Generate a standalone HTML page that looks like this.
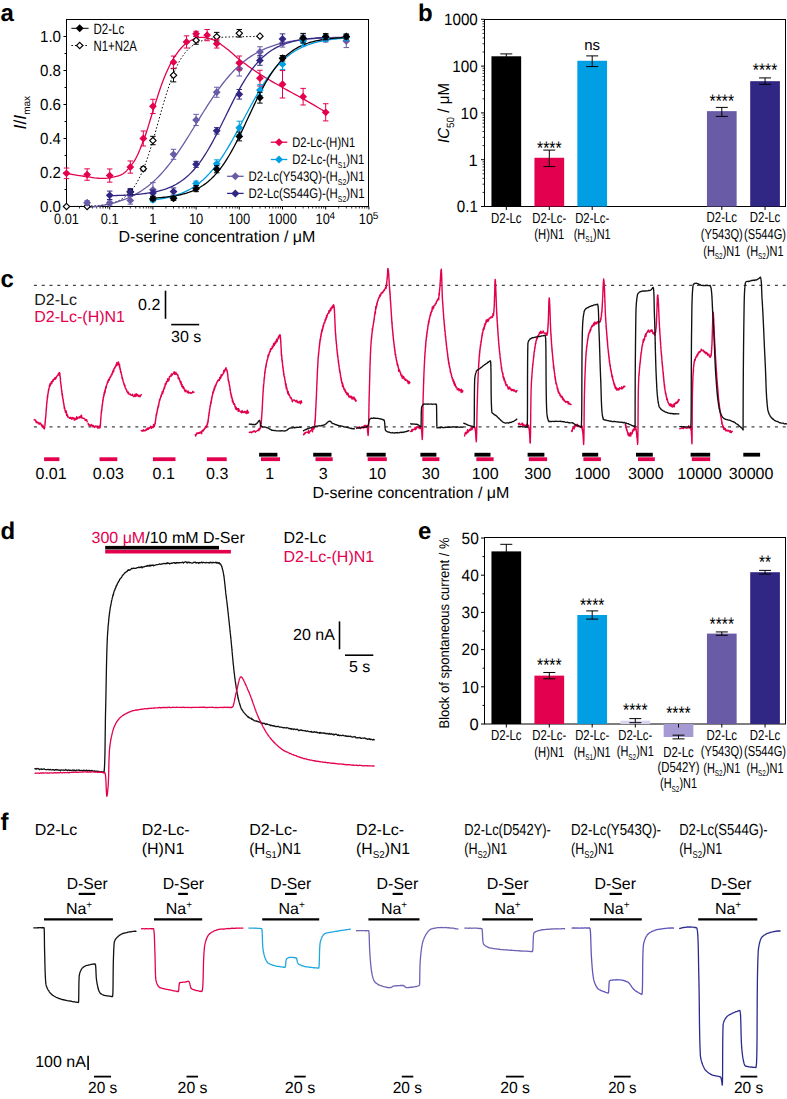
<!DOCTYPE html>
<html><head><meta charset="utf-8"><style>
html,body{margin:0;padding:0;background:#fff;}
svg{display:block;font-family:"Liberation Sans", sans-serif;text-rendering:geometricPrecision;}
</style></head><body>
<svg width="787" height="1099" viewBox="0 0 787 1099" font-family='"Liberation Sans", sans-serif'>
<text x="0.5" y="20.5" font-size="24" text-anchor="start" fill="#000" font-weight="bold">a</text>
<rect x="66.5" y="19.5" width="302" height="187" fill="none" stroke="#000" stroke-width="1"/>
<line x1="63.5" y1="206.5" x2="66.5" y2="206.5" stroke="#000" stroke-width="1"/>
<line x1="64.5" y1="189.5" x2="66.5" y2="189.5" stroke="#000" stroke-width="1"/>
<line x1="63.5" y1="172.5" x2="66.5" y2="172.5" stroke="#000" stroke-width="1"/>
<line x1="64.5" y1="155.5" x2="66.5" y2="155.5" stroke="#000" stroke-width="1"/>
<line x1="63.5" y1="138.5" x2="66.5" y2="138.5" stroke="#000" stroke-width="1"/>
<line x1="64.5" y1="121.5" x2="66.5" y2="121.5" stroke="#000" stroke-width="1"/>
<line x1="63.5" y1="104.5" x2="66.5" y2="104.5" stroke="#000" stroke-width="1"/>
<line x1="64.5" y1="87.5" x2="66.5" y2="87.5" stroke="#000" stroke-width="1"/>
<line x1="63.5" y1="70.5" x2="66.5" y2="70.5" stroke="#000" stroke-width="1"/>
<line x1="64.5" y1="53.5" x2="66.5" y2="53.5" stroke="#000" stroke-width="1"/>
<line x1="63.5" y1="36.5" x2="66.5" y2="36.5" stroke="#000" stroke-width="1"/>
<text x="61" y="212.3" font-size="16" text-anchor="end" fill="#000" textLength="21" lengthAdjust="spacingAndGlyphs">0.0</text>
<text x="61" y="178.3" font-size="16" text-anchor="end" fill="#000" textLength="21" lengthAdjust="spacingAndGlyphs">0.2</text>
<text x="61" y="144.3" font-size="16" text-anchor="end" fill="#000" textLength="21" lengthAdjust="spacingAndGlyphs">0.4</text>
<text x="61" y="110.3" font-size="16" text-anchor="end" fill="#000" textLength="21" lengthAdjust="spacingAndGlyphs">0.6</text>
<text x="61" y="76.3" font-size="16" text-anchor="end" fill="#000" textLength="21" lengthAdjust="spacingAndGlyphs">0.8</text>
<text x="61" y="42.3" font-size="16" text-anchor="end" fill="#000" textLength="21" lengthAdjust="spacingAndGlyphs">1.0</text>
<line x1="66.5" y1="206.5" x2="66.5" y2="209.5" stroke="#000" stroke-width="1"/>
<line x1="79.5" y1="206.5" x2="79.5" y2="208.5" stroke="#000" stroke-width="0.8"/>
<line x1="87.11" y1="206.5" x2="87.11" y2="208.5" stroke="#000" stroke-width="0.8"/>
<line x1="92.51" y1="206.5" x2="92.51" y2="208.5" stroke="#000" stroke-width="0.8"/>
<line x1="96.7" y1="206.5" x2="96.7" y2="208.5" stroke="#000" stroke-width="0.8"/>
<line x1="100.12" y1="206.5" x2="100.12" y2="208.5" stroke="#000" stroke-width="0.8"/>
<line x1="103.01" y1="206.5" x2="103.01" y2="208.5" stroke="#000" stroke-width="0.8"/>
<line x1="105.51" y1="206.5" x2="105.51" y2="208.5" stroke="#000" stroke-width="0.8"/>
<line x1="107.72" y1="206.5" x2="107.72" y2="208.5" stroke="#000" stroke-width="0.8"/>
<line x1="109.7" y1="206.5" x2="109.7" y2="209.5" stroke="#000" stroke-width="1"/>
<line x1="122.7" y1="206.5" x2="122.7" y2="208.5" stroke="#000" stroke-width="0.8"/>
<line x1="130.31" y1="206.5" x2="130.31" y2="208.5" stroke="#000" stroke-width="0.8"/>
<line x1="135.71" y1="206.5" x2="135.71" y2="208.5" stroke="#000" stroke-width="0.8"/>
<line x1="139.9" y1="206.5" x2="139.9" y2="208.5" stroke="#000" stroke-width="0.8"/>
<line x1="143.32" y1="206.5" x2="143.32" y2="208.5" stroke="#000" stroke-width="0.8"/>
<line x1="146.21" y1="206.5" x2="146.21" y2="208.5" stroke="#000" stroke-width="0.8"/>
<line x1="148.71" y1="206.5" x2="148.71" y2="208.5" stroke="#000" stroke-width="0.8"/>
<line x1="150.92" y1="206.5" x2="150.92" y2="208.5" stroke="#000" stroke-width="0.8"/>
<line x1="152.9" y1="206.5" x2="152.9" y2="209.5" stroke="#000" stroke-width="1"/>
<line x1="165.9" y1="206.5" x2="165.9" y2="208.5" stroke="#000" stroke-width="0.8"/>
<line x1="173.51" y1="206.5" x2="173.51" y2="208.5" stroke="#000" stroke-width="0.8"/>
<line x1="178.91" y1="206.5" x2="178.91" y2="208.5" stroke="#000" stroke-width="0.8"/>
<line x1="183.1" y1="206.5" x2="183.1" y2="208.5" stroke="#000" stroke-width="0.8"/>
<line x1="186.52" y1="206.5" x2="186.52" y2="208.5" stroke="#000" stroke-width="0.8"/>
<line x1="189.41" y1="206.5" x2="189.41" y2="208.5" stroke="#000" stroke-width="0.8"/>
<line x1="191.91" y1="206.5" x2="191.91" y2="208.5" stroke="#000" stroke-width="0.8"/>
<line x1="194.12" y1="206.5" x2="194.12" y2="208.5" stroke="#000" stroke-width="0.8"/>
<line x1="196.1" y1="206.5" x2="196.1" y2="209.5" stroke="#000" stroke-width="1"/>
<line x1="209.1" y1="206.5" x2="209.1" y2="208.5" stroke="#000" stroke-width="0.8"/>
<line x1="216.71" y1="206.5" x2="216.71" y2="208.5" stroke="#000" stroke-width="0.8"/>
<line x1="222.11" y1="206.5" x2="222.11" y2="208.5" stroke="#000" stroke-width="0.8"/>
<line x1="226.3" y1="206.5" x2="226.3" y2="208.5" stroke="#000" stroke-width="0.8"/>
<line x1="229.72" y1="206.5" x2="229.72" y2="208.5" stroke="#000" stroke-width="0.8"/>
<line x1="232.61" y1="206.5" x2="232.61" y2="208.5" stroke="#000" stroke-width="0.8"/>
<line x1="235.11" y1="206.5" x2="235.11" y2="208.5" stroke="#000" stroke-width="0.8"/>
<line x1="237.32" y1="206.5" x2="237.32" y2="208.5" stroke="#000" stroke-width="0.8"/>
<line x1="239.3" y1="206.5" x2="239.3" y2="209.5" stroke="#000" stroke-width="1"/>
<line x1="252.3" y1="206.5" x2="252.3" y2="208.5" stroke="#000" stroke-width="0.8"/>
<line x1="259.91" y1="206.5" x2="259.91" y2="208.5" stroke="#000" stroke-width="0.8"/>
<line x1="265.31" y1="206.5" x2="265.31" y2="208.5" stroke="#000" stroke-width="0.8"/>
<line x1="269.5" y1="206.5" x2="269.5" y2="208.5" stroke="#000" stroke-width="0.8"/>
<line x1="272.92" y1="206.5" x2="272.92" y2="208.5" stroke="#000" stroke-width="0.8"/>
<line x1="275.81" y1="206.5" x2="275.81" y2="208.5" stroke="#000" stroke-width="0.8"/>
<line x1="278.31" y1="206.5" x2="278.31" y2="208.5" stroke="#000" stroke-width="0.8"/>
<line x1="280.52" y1="206.5" x2="280.52" y2="208.5" stroke="#000" stroke-width="0.8"/>
<line x1="282.5" y1="206.5" x2="282.5" y2="209.5" stroke="#000" stroke-width="1"/>
<line x1="295.5" y1="206.5" x2="295.5" y2="208.5" stroke="#000" stroke-width="0.8"/>
<line x1="303.11" y1="206.5" x2="303.11" y2="208.5" stroke="#000" stroke-width="0.8"/>
<line x1="308.51" y1="206.5" x2="308.51" y2="208.5" stroke="#000" stroke-width="0.8"/>
<line x1="312.7" y1="206.5" x2="312.7" y2="208.5" stroke="#000" stroke-width="0.8"/>
<line x1="316.12" y1="206.5" x2="316.12" y2="208.5" stroke="#000" stroke-width="0.8"/>
<line x1="319.01" y1="206.5" x2="319.01" y2="208.5" stroke="#000" stroke-width="0.8"/>
<line x1="321.51" y1="206.5" x2="321.51" y2="208.5" stroke="#000" stroke-width="0.8"/>
<line x1="323.72" y1="206.5" x2="323.72" y2="208.5" stroke="#000" stroke-width="0.8"/>
<line x1="325.7" y1="206.5" x2="325.7" y2="209.5" stroke="#000" stroke-width="1"/>
<line x1="338.7" y1="206.5" x2="338.7" y2="208.5" stroke="#000" stroke-width="0.8"/>
<line x1="346.31" y1="206.5" x2="346.31" y2="208.5" stroke="#000" stroke-width="0.8"/>
<line x1="351.71" y1="206.5" x2="351.71" y2="208.5" stroke="#000" stroke-width="0.8"/>
<line x1="355.9" y1="206.5" x2="355.9" y2="208.5" stroke="#000" stroke-width="0.8"/>
<line x1="359.32" y1="206.5" x2="359.32" y2="208.5" stroke="#000" stroke-width="0.8"/>
<line x1="362.21" y1="206.5" x2="362.21" y2="208.5" stroke="#000" stroke-width="0.8"/>
<line x1="364.71" y1="206.5" x2="364.71" y2="208.5" stroke="#000" stroke-width="0.8"/>
<line x1="366.92" y1="206.5" x2="366.92" y2="208.5" stroke="#000" stroke-width="0.8"/>
<line x1="368.9" y1="206.5" x2="368.9" y2="209.5" stroke="#000" stroke-width="1"/>
<text x="66.5" y="224.2" font-size="15" text-anchor="middle" fill="#000" textLength="24.9" lengthAdjust="spacingAndGlyphs">0.01</text>
<text x="109.7" y="224.2" font-size="15" text-anchor="middle" fill="#000" textLength="17.7" lengthAdjust="spacingAndGlyphs">0.1</text>
<text x="152.9" y="224.2" font-size="15" text-anchor="middle" fill="#000" textLength="7.2" lengthAdjust="spacingAndGlyphs">1</text>
<text x="196.1" y="224.2" font-size="15" text-anchor="middle" fill="#000" textLength="14.4" lengthAdjust="spacingAndGlyphs">10</text>
<text x="239.3" y="224.2" font-size="15" text-anchor="middle" fill="#000" textLength="21.6" lengthAdjust="spacingAndGlyphs">100</text>
<text x="282.5" y="224.2" font-size="15" text-anchor="middle" fill="#000" textLength="28.8" lengthAdjust="spacingAndGlyphs">1000</text>
<text x="322.7" y="224.2" font-size="15" text-anchor="middle" fill="#000" textLength="14.2" lengthAdjust="spacingAndGlyphs">10</text>
<text x="329.5" y="219" font-size="10" text-anchor="start" fill="#000">4</text>
<text x="365.9" y="224.2" font-size="15" text-anchor="middle" fill="#000" textLength="14.2" lengthAdjust="spacingAndGlyphs">10</text>
<text x="372.7" y="219" font-size="10" text-anchor="start" fill="#000">5</text>
<text x="217" y="242.4" font-size="16" text-anchor="middle" fill="#000">D-serine concentration / μM</text>
<g transform="translate(26.3,112.7) rotate(-90)"><text x="0" y="0" font-size="17.5" text-anchor="middle"><tspan font-style="italic">I</tspan>/<tspan font-style="italic">I</tspan><tspan font-size="10" dy="4">max</tspan></text></g>
<polyline points="66.5,206.49 68.11,206.48 69.72,206.47 71.34,206.46 72.95,206.44 74.56,206.42 76.17,206.4 77.78,206.37 79.39,206.35 81.01,206.31 82.62,206.28 84.23,206.23 85.84,206.19 87.45,206.13 89.06,206.07 90.68,205.99 92.29,205.91 93.9,205.82 95.51,205.71 97.12,205.58 98.74,205.44 100.35,205.28 101.96,205.09 103.57,204.88 105.18,204.64 106.79,204.36 108.41,204.05 110.02,203.69 111.63,203.28 113.24,202.81 114.85,202.28 116.46,201.68 118.08,200.99 119.69,200.21 121.3,199.33 122.91,198.33 124.52,197.21 126.14,195.93 127.75,194.5 129.36,192.89 130.97,191.09 132.58,189.08 134.19,186.84 135.81,184.35 137.42,181.61 139.03,178.58 140.64,175.27 142.25,171.67 143.86,167.76 145.48,163.56 147.09,159.07 148.7,154.3 150.31,149.28 151.92,144.03 153.54,138.59 155.15,133 156.76,127.3 158.37,121.56 159.98,115.81 161.59,110.12 163.21,104.52 164.82,99.08 166.43,93.83 168.04,88.81 169.65,84.03 171.26,79.54 172.88,75.34 174.49,71.43 176.1,67.82 177.71,64.51 179.32,61.49 180.94,58.74 182.55,56.25 184.16,54.01 185.77,51.99 187.38,50.19 188.99,48.58 190.61,47.15 192.22,45.87 193.83,44.74 195.44,43.74 197.05,42.86 198.66,42.08 200.28,41.4 201.89,40.79 203.5,40.26 205.11,39.79 206.72,39.38 208.34,39.02 209.95,38.71 211.56,38.43 213.17,38.19 214.78,37.98 216.39,37.79 218.01,37.63 219.62,37.49 221.23,37.36 222.84,37.25 224.45,37.16 226.06,37.08 227.68,37 229.29,36.94 230.9,36.88 232.51,36.84 234.12,36.79 235.74,36.76 237.35,36.72 238.96,36.7 240.57,36.67 242.18,36.65 243.79,36.63 245.41,36.61 247.02,36.6 248.63,36.59 250.24,36.58 251.85,36.57 253.46,36.56 255.08,36.55 256.69,36.54 258.3,36.54 259.91,36.53" fill="none" stroke="#000" stroke-width="1" stroke-linejoin="round" stroke-dasharray="1.5,2"/>
<polyline points="66.5,173.35 68.66,173.76 70.82,174.16 72.98,174.55 75.14,174.92 77.3,175.27 79.46,175.61 81.62,175.94 83.78,176.24 85.94,176.55 88.1,176.87 90.26,177.2 92.42,177.52 94.58,177.82 96.74,178.07 98.9,178.27 101.06,178.4 103.22,178.45 105.38,178.38 107.54,178.19 109.7,177.89 111.86,177.48 114.02,176.98 116.18,176.4 118.34,175.76 120.5,175.05 122.66,174.01 124.82,172.42 126.98,170.36 129.14,167.92 131.3,165.21 133.46,162.3 135.62,158.82 137.78,154.49 139.94,149.51 142.1,144.11 144.26,138.5 146.42,132.32 148.58,125.4 150.74,118.22 152.9,111.3 155.06,104.54 157.22,97.67 159.38,90.97 161.54,84.66 163.7,79 165.86,73.85 168.02,68.95 170.18,64.42 172.34,60.37 174.5,56.9 176.66,53.82 178.82,50.92 180.98,48.26 183.14,45.92 185.3,43.96 187.46,42.45 189.62,41.2 191.78,40.01 193.94,38.96 196.1,38.11 198.26,37.55 200.42,37.35 202.58,37.44 204.74,37.7 206.9,38.07 209.06,38.54 211.22,39.05 213.38,39.76 215.54,40.8 217.7,42.1 219.86,43.58 222.02,45.17 224.18,46.8 226.34,48.4 228.5,50.06 230.66,51.9 232.82,53.83 234.98,55.78 237.14,57.68 239.3,59.45 241.46,61.12 243.62,62.75 245.78,64.35 247.94,65.93 250.1,67.47 252.26,68.98 254.42,70.46 256.58,71.92 258.74,73.35 260.9,74.75 263.06,76.12 265.22,77.46 267.38,78.77 269.54,80.06 271.7,81.32 273.86,82.57 276.02,83.81 278.18,85.04 280.34,86.27 282.5,87.5 284.66,88.72 286.82,89.92 288.98,91.1 291.14,92.28 293.3,93.45 295.46,94.62 297.62,95.8 299.78,96.98 301.94,98.18 304.1,99.4 306.26,100.64 308.42,101.88 310.58,103.13 312.74,104.4 314.9,105.67 317.06,106.95 319.22,108.23 321.38,109.53 323.54,110.84 325.7,112.15" fill="none" stroke="#e3004f" stroke-width="1.3" stroke-linejoin="round"/>
<polyline points="87.11,207.57 89.27,207.34 91.43,207.08 93.59,206.81 95.75,206.51 97.91,206.19 100.07,205.84 102.23,205.47 104.39,205.07 106.55,204.63 108.71,204.16 110.87,203.66 113.03,203.11 115.19,202.52 117.35,201.89 119.51,201.21 121.67,200.48 123.83,199.69 125.99,198.85 128.15,197.94 130.31,196.97 132.47,195.93 134.63,194.82 136.79,193.63 138.95,192.36 141.11,191.01 143.27,189.56 145.43,188.03 147.59,186.4 149.75,184.67 151.91,182.84 154.07,180.91 156.23,178.87 158.39,176.72 160.55,174.46 162.71,172.1 164.87,169.62 167.03,167.03 169.19,164.34 171.35,161.54 173.51,158.64 175.67,155.64 177.83,152.56 179.99,149.38 182.15,146.13 184.31,142.81 186.47,139.43 188.63,136 190.79,132.53 192.95,129.03 195.11,125.51 197.27,121.98 199.43,118.46 201.59,114.96 203.75,111.48 205.91,108.04 208.07,104.65 210.23,101.32 212.39,98.06 214.55,94.87 216.71,91.77 218.87,88.76 221.03,85.84 223.19,83.02 225.35,80.31 227.51,77.71 229.67,75.21 231.83,72.83 233.99,70.55 236.15,68.38 238.31,66.32 240.47,64.37 242.63,62.53 244.79,60.78 246.95,59.14 249.11,57.59 251.27,56.13 253.43,54.76 255.59,53.48 257.75,52.27 259.91,51.15 262.07,50.1 264.23,49.11 266.39,48.2 268.55,47.34 270.71,46.55 272.87,45.8 275.03,45.12 277.19,44.48 279.35,43.88 281.51,43.33 283.67,42.82 285.83,42.34 287.99,41.9 290.15,41.49 292.31,41.11 294.47,40.76 296.63,40.44 298.79,40.14 300.95,39.86 303.11,39.6 305.27,39.36 307.43,39.14 309.59,38.94 311.75,38.75 313.91,38.58 316.07,38.42 318.23,38.27 320.39,38.13 322.55,38.01 324.71,37.89 326.87,37.78 329.03,37.68 331.19,37.59 333.35,37.51 335.51,37.43 337.67,37.36 339.83,37.29 341.99,37.23 344.15,37.17 346.31,37.12" fill="none" stroke="#6a5ba6" stroke-width="1.3" stroke-linejoin="round"/>
<polyline points="109.7,195.71 111.5,195.67 113.3,195.62 115.1,195.57 116.9,195.52 118.7,195.46 120.5,195.4 122.3,195.32 124.1,195.25 125.9,195.16 127.7,195.07 129.5,194.97 131.3,194.85 133.1,194.73 134.9,194.6 136.7,194.45 138.5,194.29 140.3,194.12 142.1,193.92 143.9,193.71 145.7,193.49 147.5,193.23 149.3,192.96 151.1,192.66 152.9,192.33 154.7,191.98 156.5,191.59 158.3,191.16 160.1,190.7 161.9,190.2 163.7,189.65 165.5,189.05 167.3,188.4 169.1,187.7 170.9,186.93 172.7,186.1 174.5,185.2 176.3,184.22 178.1,183.17 179.9,182.03 181.7,180.8 183.5,179.48 185.3,178.05 187.1,176.52 188.9,174.89 190.7,173.13 192.5,171.26 194.3,169.27 196.1,167.15 197.9,164.9 199.7,162.53 201.5,160.02 203.3,157.39 205.1,154.62 206.9,151.74 208.7,148.73 210.5,145.61 212.3,142.38 214.1,139.05 215.9,135.63 217.7,132.14 219.5,128.58 221.3,124.98 223.1,121.33 224.9,117.67 226.7,114 228.5,110.34 230.3,106.7 232.1,103.1 233.9,99.56 235.7,96.09 237.5,92.7 239.3,89.39 241.1,86.19 242.9,83.1 244.7,80.12 246.5,77.27 248.3,74.54 250.1,71.94 251.9,69.47 253.7,67.12 255.5,64.91 257.3,62.83 259.1,60.87 260.9,59.03 262.7,57.3 264.5,55.7 266.3,54.2 268.1,52.8 269.9,51.5 271.7,50.3 273.5,49.18 275.3,48.15 277.1,47.19 278.9,46.31 280.7,45.5 282.5,44.75 284.3,44.06 286.1,43.42 287.9,42.84 289.7,42.3 291.5,41.81 293.3,41.35 295.1,40.94 296.9,40.56 298.7,40.21 300.5,39.89 302.3,39.6 304.1,39.33 305.9,39.09 307.7,38.86 309.5,38.66 311.3,38.47 313.1,38.3 314.9,38.14 316.7,38 318.5,37.87 320.3,37.75 322.1,37.64 323.9,37.54 325.7,37.45" fill="none" stroke="#302683" stroke-width="1.3" stroke-linejoin="round"/>
<polyline points="152.9,200.01 154.51,199.81 156.12,199.59 157.74,199.36 159.35,199.12 160.96,198.85 162.57,198.57 164.18,198.26 165.79,197.94 167.41,197.59 169.02,197.21 170.63,196.81 172.24,196.38 173.85,195.93 175.46,195.43 177.08,194.91 178.69,194.35 180.3,193.75 181.91,193.11 183.52,192.43 185.14,191.7 186.75,190.92 188.36,190.1 189.97,189.22 191.58,188.29 193.19,187.29 194.81,186.24 196.42,185.12 198.03,183.94 199.64,182.68 201.25,181.36 202.86,179.96 204.48,178.48 206.09,176.93 207.7,175.3 209.31,173.58 210.92,171.78 212.54,169.89 214.15,167.92 215.76,165.87 217.37,163.72 218.98,161.5 220.59,159.19 222.21,156.79 223.82,154.32 225.43,151.77 227.04,149.15 228.65,146.45 230.26,143.7 231.88,140.88 233.49,138.01 235.1,135.1 236.71,132.14 238.32,129.15 239.94,126.13 241.55,123.1 243.16,120.06 244.77,117.02 246.38,113.98 247.99,110.96 249.61,107.96 251.22,105 252.83,102.07 254.44,99.18 256.05,96.35 257.66,93.57 259.28,90.86 260.89,88.21 262.5,85.64 264.11,83.14 265.72,80.73 267.34,78.39 268.95,76.14 270.56,73.97 272.17,71.88 273.78,69.89 275.39,67.97 277.01,66.15 278.62,64.41 280.23,62.75 281.84,61.17 283.45,59.67 285.06,58.24 286.68,56.9 288.29,55.62 289.9,54.42 291.51,53.28 293.12,52.21 294.74,51.19 296.35,50.24 297.96,49.35 299.57,48.5 301.18,47.71 302.79,46.97 304.41,46.28 306.02,45.62 307.63,45.01 309.24,44.44 310.85,43.9 312.46,43.4 314.08,42.93 315.69,42.49 317.3,42.09 318.91,41.7 320.52,41.35 322.14,41.01 323.75,40.7 325.36,40.41 326.97,40.14 328.58,39.89 330.19,39.66 331.81,39.44 333.42,39.23 335.03,39.04 336.64,38.87 338.25,38.7 339.86,38.55 341.48,38.4 343.09,38.27 344.7,38.15 346.31,38.03" fill="none" stroke="#009fe3" stroke-width="1.3" stroke-linejoin="round"/>
<polyline points="152.9,198.09 154.51,198 156.12,197.9 157.74,197.79 159.35,197.67 160.96,197.54 162.57,197.39 164.18,197.24 165.79,197.07 167.41,196.89 169.02,196.69 170.63,196.48 172.24,196.24 173.85,195.99 175.46,195.71 177.08,195.41 178.69,195.09 180.3,194.74 181.91,194.36 183.52,193.94 185.14,193.5 186.75,193.01 188.36,192.49 189.97,191.93 191.58,191.32 193.19,190.66 194.81,189.94 196.42,189.18 198.03,188.35 199.64,187.46 201.25,186.5 202.86,185.47 204.48,184.37 206.09,183.18 207.7,181.92 209.31,180.56 210.92,179.11 212.54,177.57 214.15,175.93 215.76,174.18 217.37,172.33 218.98,170.37 220.59,168.3 222.21,166.12 223.82,163.82 225.43,161.42 227.04,158.9 228.65,156.26 230.26,153.52 231.88,150.68 233.49,147.74 235.1,144.7 236.71,141.58 238.32,138.38 239.94,135.11 241.55,131.78 243.16,128.4 244.77,124.98 246.38,121.54 247.99,118.09 249.61,114.63 251.22,111.19 252.83,107.77 254.44,104.38 256.05,101.04 257.66,97.76 259.28,94.55 260.89,91.42 262.5,88.37 264.11,85.41 265.72,82.55 267.34,79.8 268.95,77.15 270.56,74.61 272.17,72.19 273.78,69.87 275.39,67.67 277.01,65.59 278.62,63.61 280.23,61.74 281.84,59.98 283.45,58.33 285.06,56.77 286.68,55.31 288.29,53.94 289.9,52.66 291.51,51.46 293.12,50.35 294.74,49.31 296.35,48.34 297.96,47.44 299.57,46.6 301.18,45.83 302.79,45.11 304.41,44.44 306.02,43.82 307.63,43.25 309.24,42.72 310.85,42.23 312.46,41.78 314.08,41.36 315.69,40.98 317.3,40.62 318.91,40.29 320.52,39.99 322.14,39.71 323.75,39.45 325.36,39.22 326.97,39 328.58,38.8 330.19,38.61 331.81,38.44 333.42,38.29 335.03,38.14 336.64,38.01 338.25,37.89 339.86,37.78 341.48,37.67 343.09,37.58 344.7,37.49 346.31,37.41" fill="none" stroke="#000" stroke-width="1.3" stroke-linejoin="round"/>
<path d="M66.5,203.3 L69.7,206.5 L66.5,209.7 L63.3,206.5 Z" fill="#fff" stroke="#000" stroke-width="1.15"/>
<path d="M87.11,203.3 L90.31,206.5 L87.11,209.7 L83.91,206.5 Z" fill="#fff" stroke="#000" stroke-width="1.15"/>
<line x1="130.31" y1="189.71" x2="130.31" y2="193.71" stroke="#000" stroke-width="1"/>
<line x1="127.56" y1="189.71" x2="133.06" y2="189.71" stroke="#000" stroke-width="1"/>
<line x1="127.56" y1="193.71" x2="133.06" y2="193.71" stroke="#000" stroke-width="1"/>
<path d="M130.31,188.51 L133.51,191.71 L130.31,194.91 L127.11,191.71 Z" fill="#fff" stroke="#000" stroke-width="1.15"/>
<line x1="143.32" y1="166.76" x2="143.32" y2="170.76" stroke="#000" stroke-width="1"/>
<line x1="140.57" y1="166.76" x2="146.07" y2="166.76" stroke="#000" stroke-width="1"/>
<line x1="140.57" y1="170.76" x2="146.07" y2="170.76" stroke="#000" stroke-width="1"/>
<path d="M143.32,165.56 L146.52,168.76 L143.32,171.96 L140.12,168.76 Z" fill="#fff" stroke="#000" stroke-width="1.15"/>
<line x1="152.9" y1="136.34" x2="152.9" y2="144.74" stroke="#000" stroke-width="1"/>
<line x1="150.15" y1="136.34" x2="155.65" y2="136.34" stroke="#000" stroke-width="1"/>
<line x1="150.15" y1="144.74" x2="155.65" y2="144.74" stroke="#000" stroke-width="1"/>
<path d="M152.9,137.34 L156.1,140.54 L152.9,143.74 L149.7,140.54 Z" fill="#fff" stroke="#000" stroke-width="1.15"/>
<line x1="173.51" y1="68.66" x2="173.51" y2="81.86" stroke="#000" stroke-width="1"/>
<line x1="170.76" y1="68.66" x2="176.26" y2="68.66" stroke="#000" stroke-width="1"/>
<line x1="170.76" y1="81.86" x2="176.26" y2="81.86" stroke="#000" stroke-width="1"/>
<path d="M173.51,72.06 L176.71,75.26 L173.51,78.46 L170.31,75.26 Z" fill="#fff" stroke="#000" stroke-width="1.15"/>
<line x1="196.1" y1="36.24" x2="196.1" y2="44.24" stroke="#000" stroke-width="1"/>
<line x1="193.35" y1="36.24" x2="198.85" y2="36.24" stroke="#000" stroke-width="1"/>
<line x1="193.35" y1="44.24" x2="198.85" y2="44.24" stroke="#000" stroke-width="1"/>
<path d="M196.1,37.04 L199.3,40.24 L196.1,43.44 L192.9,40.24 Z" fill="#fff" stroke="#000" stroke-width="1.15"/>
<line x1="216.71" y1="32.37" x2="216.71" y2="40.97" stroke="#000" stroke-width="1"/>
<line x1="213.96" y1="32.37" x2="219.46" y2="32.37" stroke="#000" stroke-width="1"/>
<line x1="213.96" y1="40.97" x2="219.46" y2="40.97" stroke="#000" stroke-width="1"/>
<path d="M216.71,33.47 L219.91,36.67 L216.71,39.87 L213.51,36.67 Z" fill="#fff" stroke="#000" stroke-width="1.15"/>
<line x1="239.3" y1="29.47" x2="239.3" y2="37.07" stroke="#000" stroke-width="1"/>
<line x1="236.55" y1="29.47" x2="242.05" y2="29.47" stroke="#000" stroke-width="1"/>
<line x1="236.55" y1="37.07" x2="242.05" y2="37.07" stroke="#000" stroke-width="1"/>
<path d="M239.3,30.07 L242.5,33.27 L239.3,36.47 L236.1,33.27 Z" fill="#fff" stroke="#000" stroke-width="1.15"/>
<path d="M259.91,32.96 L263.11,36.16 L259.91,39.36 L256.71,36.16 Z" fill="#fff" stroke="#000" stroke-width="1.15"/>
<line x1="87.11" y1="200.76" x2="87.11" y2="204.76" stroke="#6a5ba6" stroke-width="1"/>
<line x1="84.36" y1="200.76" x2="89.86" y2="200.76" stroke="#6a5ba6" stroke-width="1"/>
<line x1="84.36" y1="204.76" x2="89.86" y2="204.76" stroke="#6a5ba6" stroke-width="1"/>
<path d="M87.11,198.86 L91.01,202.76 L87.11,206.66 L83.21,202.76 Z" fill="#6a5ba6"/>
<line x1="109.7" y1="201.1" x2="109.7" y2="205.1" stroke="#6a5ba6" stroke-width="1"/>
<line x1="106.95" y1="201.1" x2="112.45" y2="201.1" stroke="#6a5ba6" stroke-width="1"/>
<line x1="106.95" y1="205.1" x2="112.45" y2="205.1" stroke="#6a5ba6" stroke-width="1"/>
<path d="M109.7,199.2 L113.6,203.1 L109.7,207 L105.8,203.1 Z" fill="#6a5ba6"/>
<line x1="130.31" y1="196.58" x2="130.31" y2="204.18" stroke="#6a5ba6" stroke-width="1"/>
<line x1="127.56" y1="196.58" x2="133.06" y2="196.58" stroke="#6a5ba6" stroke-width="1"/>
<line x1="127.56" y1="204.18" x2="133.06" y2="204.18" stroke="#6a5ba6" stroke-width="1"/>
<path d="M130.31,196.48 L134.21,200.38 L130.31,204.28 L126.41,200.38 Z" fill="#6a5ba6"/>
<line x1="152.9" y1="182.64" x2="152.9" y2="197.04" stroke="#6a5ba6" stroke-width="1"/>
<line x1="150.15" y1="182.64" x2="155.65" y2="182.64" stroke="#6a5ba6" stroke-width="1"/>
<line x1="150.15" y1="197.04" x2="155.65" y2="197.04" stroke="#6a5ba6" stroke-width="1"/>
<path d="M152.9,185.94 L156.8,189.84 L152.9,193.74 L149,189.84 Z" fill="#6a5ba6"/>
<line x1="173.51" y1="149.31" x2="173.51" y2="159.31" stroke="#6a5ba6" stroke-width="1"/>
<line x1="170.76" y1="149.31" x2="176.26" y2="149.31" stroke="#6a5ba6" stroke-width="1"/>
<line x1="170.76" y1="159.31" x2="176.26" y2="159.31" stroke="#6a5ba6" stroke-width="1"/>
<path d="M173.51,150.41 L177.41,154.31 L173.51,158.21 L169.61,154.31 Z" fill="#6a5ba6"/>
<line x1="196.1" y1="114.37" x2="196.1" y2="125.57" stroke="#6a5ba6" stroke-width="1"/>
<line x1="193.35" y1="114.37" x2="198.85" y2="114.37" stroke="#6a5ba6" stroke-width="1"/>
<line x1="193.35" y1="125.57" x2="198.85" y2="125.57" stroke="#6a5ba6" stroke-width="1"/>
<path d="M196.1,116.07 L200,119.97 L196.1,123.87 L192.2,119.97 Z" fill="#6a5ba6"/>
<line x1="216.71" y1="87.26" x2="216.71" y2="97.26" stroke="#6a5ba6" stroke-width="1"/>
<line x1="213.96" y1="87.26" x2="219.46" y2="87.26" stroke="#6a5ba6" stroke-width="1"/>
<line x1="213.96" y1="97.26" x2="219.46" y2="97.26" stroke="#6a5ba6" stroke-width="1"/>
<path d="M216.71,88.36 L220.61,92.26 L216.71,96.16 L212.81,92.26 Z" fill="#6a5ba6"/>
<line x1="239.3" y1="61.6" x2="239.3" y2="76" stroke="#6a5ba6" stroke-width="1"/>
<line x1="236.55" y1="61.6" x2="242.05" y2="61.6" stroke="#6a5ba6" stroke-width="1"/>
<line x1="236.55" y1="76" x2="242.05" y2="76" stroke="#6a5ba6" stroke-width="1"/>
<path d="M239.3,64.9 L243.2,68.8 L239.3,72.7 L235.4,68.8 Z" fill="#6a5ba6"/>
<line x1="259.91" y1="46.77" x2="259.91" y2="57.17" stroke="#6a5ba6" stroke-width="1"/>
<line x1="257.16" y1="46.77" x2="262.66" y2="46.77" stroke="#6a5ba6" stroke-width="1"/>
<line x1="257.16" y1="57.17" x2="262.66" y2="57.17" stroke="#6a5ba6" stroke-width="1"/>
<path d="M259.91,48.07 L263.81,51.97 L259.91,55.87 L256.01,51.97 Z" fill="#6a5ba6"/>
<line x1="282.5" y1="39.5" x2="282.5" y2="47.1" stroke="#6a5ba6" stroke-width="1"/>
<line x1="279.75" y1="39.5" x2="285.25" y2="39.5" stroke="#6a5ba6" stroke-width="1"/>
<line x1="279.75" y1="47.1" x2="285.25" y2="47.1" stroke="#6a5ba6" stroke-width="1"/>
<path d="M282.5,39.4 L286.4,43.3 L282.5,47.2 L278.6,43.3 Z" fill="#6a5ba6"/>
<line x1="303.11" y1="36.9" x2="303.11" y2="42.9" stroke="#6a5ba6" stroke-width="1"/>
<line x1="300.36" y1="36.9" x2="305.86" y2="36.9" stroke="#6a5ba6" stroke-width="1"/>
<line x1="300.36" y1="42.9" x2="305.86" y2="42.9" stroke="#6a5ba6" stroke-width="1"/>
<path d="M303.11,36 L307.01,39.9 L303.11,43.8 L299.21,39.9 Z" fill="#6a5ba6"/>
<line x1="325.7" y1="36.05" x2="325.7" y2="42.05" stroke="#6a5ba6" stroke-width="1"/>
<line x1="322.95" y1="36.05" x2="328.45" y2="36.05" stroke="#6a5ba6" stroke-width="1"/>
<line x1="322.95" y1="42.05" x2="328.45" y2="42.05" stroke="#6a5ba6" stroke-width="1"/>
<path d="M325.7,35.15 L329.6,39.05 L325.7,42.95 L321.8,39.05 Z" fill="#6a5ba6"/>
<line x1="346.31" y1="34.59" x2="346.31" y2="47.59" stroke="#6a5ba6" stroke-width="1"/>
<line x1="343.56" y1="34.59" x2="349.06" y2="34.59" stroke="#6a5ba6" stroke-width="1"/>
<line x1="343.56" y1="47.59" x2="349.06" y2="47.59" stroke="#6a5ba6" stroke-width="1"/>
<path d="M346.31,37.19 L350.21,41.09 L346.31,44.99 L342.41,41.09 Z" fill="#6a5ba6"/>
<line x1="109.7" y1="191.08" x2="109.7" y2="199.48" stroke="#302683" stroke-width="1"/>
<line x1="106.95" y1="191.08" x2="112.45" y2="191.08" stroke="#302683" stroke-width="1"/>
<line x1="106.95" y1="199.48" x2="112.45" y2="199.48" stroke="#302683" stroke-width="1"/>
<path d="M109.7,191.38 L113.6,195.28 L109.7,199.18 L105.8,195.28 Z" fill="#302683"/>
<line x1="130.31" y1="188.55" x2="130.31" y2="195.55" stroke="#302683" stroke-width="1"/>
<line x1="127.56" y1="188.55" x2="133.06" y2="188.55" stroke="#302683" stroke-width="1"/>
<line x1="127.56" y1="195.55" x2="133.06" y2="195.55" stroke="#302683" stroke-width="1"/>
<path d="M130.31,188.15 L134.21,192.05 L130.31,195.95 L126.41,192.05 Z" fill="#302683"/>
<line x1="152.9" y1="190.07" x2="152.9" y2="196.07" stroke="#302683" stroke-width="1"/>
<line x1="150.15" y1="190.07" x2="155.65" y2="190.07" stroke="#302683" stroke-width="1"/>
<line x1="150.15" y1="196.07" x2="155.65" y2="196.07" stroke="#302683" stroke-width="1"/>
<path d="M152.9,189.17 L156.8,193.07 L152.9,196.97 L149,193.07 Z" fill="#302683"/>
<line x1="173.51" y1="187.94" x2="173.51" y2="195.14" stroke="#302683" stroke-width="1"/>
<line x1="170.76" y1="187.94" x2="176.26" y2="187.94" stroke="#302683" stroke-width="1"/>
<line x1="170.76" y1="195.14" x2="176.26" y2="195.14" stroke="#302683" stroke-width="1"/>
<path d="M173.51,187.64 L177.41,191.54 L173.51,195.44 L169.61,191.54 Z" fill="#302683"/>
<line x1="196.1" y1="161.34" x2="196.1" y2="167.34" stroke="#302683" stroke-width="1"/>
<line x1="193.35" y1="161.34" x2="198.85" y2="161.34" stroke="#302683" stroke-width="1"/>
<line x1="193.35" y1="167.34" x2="198.85" y2="167.34" stroke="#302683" stroke-width="1"/>
<path d="M196.1,160.44 L200,164.34 L196.1,168.24 L192.2,164.34 Z" fill="#302683"/>
<line x1="216.71" y1="127.65" x2="216.71" y2="134.05" stroke="#302683" stroke-width="1"/>
<line x1="213.96" y1="127.65" x2="219.46" y2="127.65" stroke="#302683" stroke-width="1"/>
<line x1="213.96" y1="134.05" x2="219.46" y2="134.05" stroke="#302683" stroke-width="1"/>
<path d="M216.71,126.95 L220.61,130.85 L216.71,134.75 L212.81,130.85 Z" fill="#302683"/>
<line x1="239.3" y1="89.5" x2="239.3" y2="99.1" stroke="#302683" stroke-width="1"/>
<line x1="236.55" y1="89.5" x2="242.05" y2="89.5" stroke="#302683" stroke-width="1"/>
<line x1="236.55" y1="99.1" x2="242.05" y2="99.1" stroke="#302683" stroke-width="1"/>
<path d="M239.3,90.4 L243.2,94.3 L239.3,98.2 L235.4,94.3 Z" fill="#302683"/>
<line x1="259.91" y1="55.67" x2="259.91" y2="65.27" stroke="#302683" stroke-width="1"/>
<line x1="257.16" y1="55.67" x2="262.66" y2="55.67" stroke="#302683" stroke-width="1"/>
<line x1="257.16" y1="65.27" x2="262.66" y2="65.27" stroke="#302683" stroke-width="1"/>
<path d="M259.91,56.57 L263.81,60.47 L259.91,64.37 L256.01,60.47 Z" fill="#302683"/>
<line x1="282.5" y1="33.88" x2="282.5" y2="43.88" stroke="#302683" stroke-width="1"/>
<line x1="279.75" y1="33.88" x2="285.25" y2="33.88" stroke="#302683" stroke-width="1"/>
<line x1="279.75" y1="43.88" x2="285.25" y2="43.88" stroke="#302683" stroke-width="1"/>
<path d="M282.5,34.98 L286.4,38.88 L282.5,42.78 L278.6,38.88 Z" fill="#302683"/>
<line x1="303.11" y1="35.2" x2="303.11" y2="41.2" stroke="#302683" stroke-width="1"/>
<line x1="300.36" y1="35.2" x2="305.86" y2="35.2" stroke="#302683" stroke-width="1"/>
<line x1="300.36" y1="41.2" x2="305.86" y2="41.2" stroke="#302683" stroke-width="1"/>
<path d="M303.11,34.3 L307.01,38.2 L303.11,42.1 L299.21,38.2 Z" fill="#302683"/>
<line x1="325.7" y1="34.18" x2="325.7" y2="40.18" stroke="#302683" stroke-width="1"/>
<line x1="322.95" y1="34.18" x2="328.45" y2="34.18" stroke="#302683" stroke-width="1"/>
<line x1="322.95" y1="40.18" x2="328.45" y2="40.18" stroke="#302683" stroke-width="1"/>
<path d="M325.7,33.28 L329.6,37.18 L325.7,41.08 L321.8,37.18 Z" fill="#302683"/>
<line x1="66.5" y1="168.05" x2="66.5" y2="178.65" stroke="#e3004f" stroke-width="1"/>
<line x1="63.75" y1="168.05" x2="69.25" y2="168.05" stroke="#e3004f" stroke-width="1"/>
<line x1="63.75" y1="178.65" x2="69.25" y2="178.65" stroke="#e3004f" stroke-width="1"/>
<path d="M66.5,169.45 L70.4,173.35 L66.5,177.25 L62.6,173.35 Z" fill="#e3004f"/>
<line x1="87.11" y1="168.84" x2="87.11" y2="180.24" stroke="#e3004f" stroke-width="1"/>
<line x1="84.36" y1="168.84" x2="89.86" y2="168.84" stroke="#e3004f" stroke-width="1"/>
<line x1="84.36" y1="180.24" x2="89.86" y2="180.24" stroke="#e3004f" stroke-width="1"/>
<path d="M87.11,170.64 L91.01,174.54 L87.11,178.44 L83.21,174.54 Z" fill="#e3004f"/>
<line x1="109.7" y1="168.96" x2="109.7" y2="182.16" stroke="#e3004f" stroke-width="1"/>
<line x1="106.95" y1="168.96" x2="112.45" y2="168.96" stroke="#e3004f" stroke-width="1"/>
<line x1="106.95" y1="182.16" x2="112.45" y2="182.16" stroke="#e3004f" stroke-width="1"/>
<path d="M109.7,171.66 L113.6,175.56 L109.7,179.46 L105.8,175.56 Z" fill="#e3004f"/>
<line x1="130.31" y1="160.96" x2="130.31" y2="173.16" stroke="#e3004f" stroke-width="1"/>
<line x1="127.56" y1="160.96" x2="133.06" y2="160.96" stroke="#e3004f" stroke-width="1"/>
<line x1="127.56" y1="173.16" x2="133.06" y2="173.16" stroke="#e3004f" stroke-width="1"/>
<path d="M130.31,163.16 L134.21,167.06 L130.31,170.96 L126.41,167.06 Z" fill="#e3004f"/>
<line x1="143.32" y1="131" x2="143.32" y2="146" stroke="#e3004f" stroke-width="1"/>
<line x1="140.57" y1="131" x2="146.07" y2="131" stroke="#e3004f" stroke-width="1"/>
<line x1="140.57" y1="146" x2="146.07" y2="146" stroke="#e3004f" stroke-width="1"/>
<path d="M143.32,134.6 L147.22,138.5 L143.32,142.4 L139.42,138.5 Z" fill="#e3004f"/>
<line x1="152.9" y1="99.27" x2="152.9" y2="113.47" stroke="#e3004f" stroke-width="1"/>
<line x1="150.15" y1="99.27" x2="155.65" y2="99.27" stroke="#e3004f" stroke-width="1"/>
<line x1="150.15" y1="113.47" x2="155.65" y2="113.47" stroke="#e3004f" stroke-width="1"/>
<path d="M152.9,102.47 L156.8,106.37 L152.9,110.27 L149,106.37 Z" fill="#e3004f"/>
<line x1="173.51" y1="56.07" x2="173.51" y2="68.27" stroke="#e3004f" stroke-width="1"/>
<line x1="170.76" y1="56.07" x2="176.26" y2="56.07" stroke="#e3004f" stroke-width="1"/>
<line x1="170.76" y1="68.27" x2="176.26" y2="68.27" stroke="#e3004f" stroke-width="1"/>
<path d="M173.51,58.27 L177.41,62.17 L173.51,66.07 L169.61,62.17 Z" fill="#e3004f"/>
<line x1="186.52" y1="35.84" x2="186.52" y2="48.04" stroke="#e3004f" stroke-width="1"/>
<line x1="183.77" y1="35.84" x2="189.27" y2="35.84" stroke="#e3004f" stroke-width="1"/>
<line x1="183.77" y1="48.04" x2="189.27" y2="48.04" stroke="#e3004f" stroke-width="1"/>
<path d="M186.52,38.04 L190.42,41.94 L186.52,45.84 L182.62,41.94 Z" fill="#e3004f"/>
<line x1="196.1" y1="31.28" x2="196.1" y2="36.28" stroke="#e3004f" stroke-width="1"/>
<line x1="193.35" y1="31.28" x2="198.85" y2="31.28" stroke="#e3004f" stroke-width="1"/>
<line x1="193.35" y1="36.28" x2="198.85" y2="36.28" stroke="#e3004f" stroke-width="1"/>
<path d="M196.1,29.88 L200,33.78 L196.1,37.68 L192.2,33.78 Z" fill="#e3004f"/>
<line x1="207.13" y1="29.54" x2="207.13" y2="40.74" stroke="#e3004f" stroke-width="1"/>
<line x1="204.38" y1="29.54" x2="209.88" y2="29.54" stroke="#e3004f" stroke-width="1"/>
<line x1="204.38" y1="40.74" x2="209.88" y2="40.74" stroke="#e3004f" stroke-width="1"/>
<path d="M207.13,31.24 L211.03,35.14 L207.13,39.04 L203.23,35.14 Z" fill="#e3004f"/>
<line x1="216.71" y1="39.24" x2="216.71" y2="48.04" stroke="#e3004f" stroke-width="1"/>
<line x1="213.96" y1="39.24" x2="219.46" y2="39.24" stroke="#e3004f" stroke-width="1"/>
<line x1="213.96" y1="48.04" x2="219.46" y2="48.04" stroke="#e3004f" stroke-width="1"/>
<path d="M216.71,39.74 L220.61,43.64 L216.71,47.54 L212.81,43.64 Z" fill="#e3004f"/>
<line x1="239.3" y1="56.02" x2="239.3" y2="70.02" stroke="#e3004f" stroke-width="1"/>
<line x1="236.55" y1="56.02" x2="242.05" y2="56.02" stroke="#e3004f" stroke-width="1"/>
<line x1="236.55" y1="70.02" x2="242.05" y2="70.02" stroke="#e3004f" stroke-width="1"/>
<path d="M239.3,59.12 L243.2,63.02 L239.3,66.92 L235.4,63.02 Z" fill="#e3004f"/>
<line x1="259.91" y1="70.25" x2="259.91" y2="86.05" stroke="#e3004f" stroke-width="1"/>
<line x1="257.16" y1="70.25" x2="262.66" y2="70.25" stroke="#e3004f" stroke-width="1"/>
<line x1="257.16" y1="86.05" x2="262.66" y2="86.05" stroke="#e3004f" stroke-width="1"/>
<path d="M259.91,74.25 L263.81,78.15 L259.91,82.05 L256.01,78.15 Z" fill="#e3004f"/>
<line x1="282.5" y1="70.57" x2="282.5" y2="97.97" stroke="#e3004f" stroke-width="1"/>
<line x1="279.75" y1="70.57" x2="285.25" y2="70.57" stroke="#e3004f" stroke-width="1"/>
<line x1="279.75" y1="97.97" x2="285.25" y2="97.97" stroke="#e3004f" stroke-width="1"/>
<path d="M282.5,80.37 L286.4,84.27 L282.5,88.17 L278.6,84.27 Z" fill="#e3004f"/>
<line x1="303.11" y1="88.38" x2="303.11" y2="104.98" stroke="#e3004f" stroke-width="1"/>
<line x1="300.36" y1="88.38" x2="305.86" y2="88.38" stroke="#e3004f" stroke-width="1"/>
<line x1="300.36" y1="104.98" x2="305.86" y2="104.98" stroke="#e3004f" stroke-width="1"/>
<path d="M303.11,92.78 L307.01,96.68 L303.11,100.58 L299.21,96.68 Z" fill="#e3004f"/>
<line x1="325.7" y1="103.72" x2="325.7" y2="120.92" stroke="#e3004f" stroke-width="1"/>
<line x1="322.95" y1="103.72" x2="328.45" y2="103.72" stroke="#e3004f" stroke-width="1"/>
<line x1="322.95" y1="120.92" x2="328.45" y2="120.92" stroke="#e3004f" stroke-width="1"/>
<path d="M325.7,108.42 L329.6,112.32 L325.7,116.22 L321.8,112.32 Z" fill="#e3004f"/>
<line x1="152.9" y1="197.87" x2="152.9" y2="201.87" stroke="#009fe3" stroke-width="1"/>
<line x1="150.15" y1="197.87" x2="155.65" y2="197.87" stroke="#009fe3" stroke-width="1"/>
<line x1="150.15" y1="201.87" x2="155.65" y2="201.87" stroke="#009fe3" stroke-width="1"/>
<path d="M152.9,195.97 L156.8,199.87 L152.9,203.77 L149,199.87 Z" fill="#009fe3"/>
<line x1="173.51" y1="196" x2="173.51" y2="200" stroke="#009fe3" stroke-width="1"/>
<line x1="170.76" y1="196" x2="176.26" y2="196" stroke="#009fe3" stroke-width="1"/>
<line x1="170.76" y1="200" x2="176.26" y2="200" stroke="#009fe3" stroke-width="1"/>
<path d="M173.51,194.1 L177.41,198 L173.51,201.9 L169.61,198 Z" fill="#009fe3"/>
<line x1="196.1" y1="181.05" x2="196.1" y2="186.05" stroke="#009fe3" stroke-width="1"/>
<line x1="193.35" y1="181.05" x2="198.85" y2="181.05" stroke="#009fe3" stroke-width="1"/>
<line x1="193.35" y1="186.05" x2="198.85" y2="186.05" stroke="#009fe3" stroke-width="1"/>
<path d="M196.1,179.65 L200,183.55 L196.1,187.45 L192.2,183.55 Z" fill="#009fe3"/>
<line x1="216.71" y1="159.83" x2="216.71" y2="167.83" stroke="#009fe3" stroke-width="1"/>
<line x1="213.96" y1="159.83" x2="219.46" y2="159.83" stroke="#009fe3" stroke-width="1"/>
<line x1="213.96" y1="167.83" x2="219.46" y2="167.83" stroke="#009fe3" stroke-width="1"/>
<path d="M216.71,159.93 L220.61,163.83 L216.71,167.73 L212.81,163.83 Z" fill="#009fe3"/>
<line x1="239.3" y1="121.19" x2="239.3" y2="134.39" stroke="#009fe3" stroke-width="1"/>
<line x1="236.55" y1="121.19" x2="242.05" y2="121.19" stroke="#009fe3" stroke-width="1"/>
<line x1="236.55" y1="134.39" x2="242.05" y2="134.39" stroke="#009fe3" stroke-width="1"/>
<path d="M239.3,123.89 L243.2,127.79 L239.3,131.69 L235.4,127.79 Z" fill="#009fe3"/>
<line x1="259.91" y1="84.65" x2="259.91" y2="95.45" stroke="#009fe3" stroke-width="1"/>
<line x1="257.16" y1="84.65" x2="262.66" y2="84.65" stroke="#009fe3" stroke-width="1"/>
<line x1="257.16" y1="95.45" x2="262.66" y2="95.45" stroke="#009fe3" stroke-width="1"/>
<path d="M259.91,86.15 L263.81,90.05 L259.91,93.95 L256.01,90.05 Z" fill="#009fe3"/>
<line x1="282.5" y1="59.01" x2="282.5" y2="69.41" stroke="#009fe3" stroke-width="1"/>
<line x1="279.75" y1="59.01" x2="285.25" y2="59.01" stroke="#009fe3" stroke-width="1"/>
<line x1="279.75" y1="69.41" x2="285.25" y2="69.41" stroke="#009fe3" stroke-width="1"/>
<path d="M282.5,60.31 L286.4,64.21 L282.5,68.11 L278.6,64.21 Z" fill="#009fe3"/>
<line x1="303.11" y1="36.59" x2="303.11" y2="45.59" stroke="#009fe3" stroke-width="1"/>
<line x1="300.36" y1="36.59" x2="305.86" y2="36.59" stroke="#009fe3" stroke-width="1"/>
<line x1="300.36" y1="45.59" x2="305.86" y2="45.59" stroke="#009fe3" stroke-width="1"/>
<path d="M303.11,37.19 L307.01,41.09 L303.11,44.99 L299.21,41.09 Z" fill="#009fe3"/>
<line x1="325.7" y1="35.2" x2="325.7" y2="41.2" stroke="#009fe3" stroke-width="1"/>
<line x1="322.95" y1="35.2" x2="328.45" y2="35.2" stroke="#009fe3" stroke-width="1"/>
<line x1="322.95" y1="41.2" x2="328.45" y2="41.2" stroke="#009fe3" stroke-width="1"/>
<path d="M325.7,34.3 L329.6,38.2 L325.7,42.1 L321.8,38.2 Z" fill="#009fe3"/>
<line x1="346.31" y1="34.35" x2="346.31" y2="40.35" stroke="#009fe3" stroke-width="1"/>
<line x1="343.56" y1="34.35" x2="349.06" y2="34.35" stroke="#009fe3" stroke-width="1"/>
<line x1="343.56" y1="40.35" x2="349.06" y2="40.35" stroke="#009fe3" stroke-width="1"/>
<path d="M346.31,33.45 L350.21,37.35 L346.31,41.25 L342.41,37.35 Z" fill="#009fe3"/>
<line x1="152.9" y1="196.68" x2="152.9" y2="200.68" stroke="#000" stroke-width="1"/>
<line x1="150.15" y1="196.68" x2="155.65" y2="196.68" stroke="#000" stroke-width="1"/>
<line x1="150.15" y1="200.68" x2="155.65" y2="200.68" stroke="#000" stroke-width="1"/>
<path d="M152.9,194.78 L156.8,198.68 L152.9,202.58 L149,198.68 Z" fill="#000"/>
<line x1="173.51" y1="196.34" x2="173.51" y2="200.34" stroke="#000" stroke-width="1"/>
<line x1="170.76" y1="196.34" x2="176.26" y2="196.34" stroke="#000" stroke-width="1"/>
<line x1="170.76" y1="200.34" x2="176.26" y2="200.34" stroke="#000" stroke-width="1"/>
<path d="M173.51,194.44 L177.41,198.34 L173.51,202.24 L169.61,198.34 Z" fill="#000"/>
<line x1="196.1" y1="185.65" x2="196.1" y2="191.65" stroke="#000" stroke-width="1"/>
<line x1="193.35" y1="185.65" x2="198.85" y2="185.65" stroke="#000" stroke-width="1"/>
<line x1="193.35" y1="191.65" x2="198.85" y2="191.65" stroke="#000" stroke-width="1"/>
<path d="M196.1,184.75 L200,188.65 L196.1,192.55 L192.2,188.65 Z" fill="#000"/>
<line x1="216.71" y1="165.77" x2="216.71" y2="172.77" stroke="#000" stroke-width="1"/>
<line x1="213.96" y1="165.77" x2="219.46" y2="165.77" stroke="#000" stroke-width="1"/>
<line x1="213.96" y1="172.77" x2="219.46" y2="172.77" stroke="#000" stroke-width="1"/>
<path d="M216.71,165.37 L220.61,169.27 L216.71,173.17 L212.81,169.27 Z" fill="#000"/>
<line x1="239.3" y1="132.06" x2="239.3" y2="140.86" stroke="#000" stroke-width="1"/>
<line x1="236.55" y1="132.06" x2="242.05" y2="132.06" stroke="#000" stroke-width="1"/>
<line x1="236.55" y1="140.86" x2="242.05" y2="140.86" stroke="#000" stroke-width="1"/>
<path d="M239.3,132.56 L243.2,136.46 L239.3,140.36 L235.4,136.46 Z" fill="#000"/>
<line x1="259.91" y1="92.3" x2="259.91" y2="103.1" stroke="#000" stroke-width="1"/>
<line x1="257.16" y1="92.3" x2="262.66" y2="92.3" stroke="#000" stroke-width="1"/>
<line x1="257.16" y1="103.1" x2="262.66" y2="103.1" stroke="#000" stroke-width="1"/>
<path d="M259.91,93.8 L263.81,97.7 L259.91,101.6 L256.01,97.7 Z" fill="#000"/>
<line x1="282.5" y1="55.56" x2="282.5" y2="60.96" stroke="#000" stroke-width="1"/>
<line x1="279.75" y1="55.56" x2="285.25" y2="55.56" stroke="#000" stroke-width="1"/>
<line x1="279.75" y1="60.96" x2="285.25" y2="60.96" stroke="#000" stroke-width="1"/>
<path d="M282.5,54.36 L286.4,58.26 L282.5,62.16 L278.6,58.26 Z" fill="#000"/>
<line x1="303.11" y1="33.4" x2="303.11" y2="43" stroke="#000" stroke-width="1"/>
<line x1="300.36" y1="33.4" x2="305.86" y2="33.4" stroke="#000" stroke-width="1"/>
<line x1="300.36" y1="43" x2="305.86" y2="43" stroke="#000" stroke-width="1"/>
<path d="M303.11,34.3 L307.01,38.2 L303.11,42.1 L299.21,38.2 Z" fill="#000"/>
<line x1="325.7" y1="33.67" x2="325.7" y2="39.67" stroke="#000" stroke-width="1"/>
<line x1="322.95" y1="33.67" x2="328.45" y2="33.67" stroke="#000" stroke-width="1"/>
<line x1="322.95" y1="39.67" x2="328.45" y2="39.67" stroke="#000" stroke-width="1"/>
<path d="M325.7,32.77 L329.6,36.67 L325.7,40.57 L321.8,36.67 Z" fill="#000"/>
<line x1="346.31" y1="34" x2="346.31" y2="39" stroke="#000" stroke-width="1"/>
<line x1="343.56" y1="34" x2="349.06" y2="34" stroke="#000" stroke-width="1"/>
<line x1="343.56" y1="39" x2="349.06" y2="39" stroke="#000" stroke-width="1"/>
<path d="M346.31,32.6 L350.21,36.5 L346.31,40.4 L342.41,36.5 Z" fill="#000"/>
<line x1="71.4" y1="28.3" x2="88.6" y2="28.3" stroke="#000" stroke-width="1"/>
<path d="M79.7,24.3 L83.7,28.3 L79.7,32.3 L75.7,28.3 Z" fill="#000"/>
<text x="93.5" y="33.6" font-size="15" text-anchor="start" fill="#000" textLength="30.8" lengthAdjust="spacingAndGlyphs">D2-Lc</text>
<line x1="71.4" y1="45.5" x2="88.6" y2="45.5" stroke="#000" stroke-width="1" stroke-dasharray="1.5,2"/>
<path d="M79.7,42.3 L82.9,45.5 L79.7,48.7 L76.5,45.5 Z" fill="#fff" stroke="#000" stroke-width="1.15"/>
<text x="93.5" y="50.6" font-size="15" text-anchor="start" fill="#000" textLength="43.5" lengthAdjust="spacingAndGlyphs">N1+N2A</text>
<line x1="270.8" y1="142.2" x2="287.3" y2="142.2" stroke="#e3004f" stroke-width="1.3"/>
<path d="M279,138.2 L283,142.2 L279,146.2 L275,142.2 Z" fill="#e3004f"/>
<text x="292.3" y="147" font-size="14" text-anchor="start" fill="#000" textLength="63" lengthAdjust="spacingAndGlyphs">D2-Lc-(H)N1</text>
<line x1="270.8" y1="159.5" x2="287.3" y2="159.5" stroke="#009fe3" stroke-width="1.3"/>
<path d="M279,155.5 L283,159.5 L279,163.5 L275,159.5 Z" fill="#009fe3"/>
<text x="292.3" y="164.3" font-size="14" text-anchor="start" fill="#000" textLength="72" lengthAdjust="spacingAndGlyphs">D2-Lc-(H<tspan font-size="8.5" dy="3.5">S1</tspan><tspan dy="-3.5">)N1</tspan></text>
<line x1="227.1" y1="176.3" x2="243.6" y2="176.3" stroke="#6a5ba6" stroke-width="1.3"/>
<path d="M235.3,172.3 L239.3,176.3 L235.3,180.3 L231.3,176.3 Z" fill="#6a5ba6"/>
<text x="248.6" y="181.1" font-size="14" text-anchor="start" fill="#000" textLength="116" lengthAdjust="spacingAndGlyphs">D2-Lc(Y543Q)-(H<tspan font-size="8.5" dy="3.5">S2</tspan><tspan dy="-3.5">)N1</tspan></text>
<line x1="227.1" y1="193.4" x2="243.6" y2="193.4" stroke="#302683" stroke-width="1.3"/>
<path d="M235.3,189.4 L239.3,193.4 L235.3,197.4 L231.3,193.4 Z" fill="#302683"/>
<text x="248.6" y="198.2" font-size="14" text-anchor="start" fill="#000" textLength="116" lengthAdjust="spacingAndGlyphs">D2-Lc(S544G)-(H<tspan font-size="8.5" dy="3.5">S2</tspan><tspan dy="-3.5">)N1</tspan></text>
<text x="418" y="20.5" font-size="24" text-anchor="start" fill="#000" font-weight="bold">b</text>
<rect x="484.5" y="19.5" width="301.0" height="187.0" fill="none" stroke="#000" stroke-width="1"/>
<line x1="481" y1="206.5" x2="484.5" y2="206.5" stroke="#000" stroke-width="1"/>
<line x1="482.5" y1="192.41" x2="484.5" y2="192.41" stroke="#000" stroke-width="0.8"/>
<line x1="482.5" y1="184.17" x2="484.5" y2="184.17" stroke="#000" stroke-width="0.8"/>
<line x1="482.5" y1="178.32" x2="484.5" y2="178.32" stroke="#000" stroke-width="0.8"/>
<line x1="482.5" y1="173.79" x2="484.5" y2="173.79" stroke="#000" stroke-width="0.8"/>
<line x1="482.5" y1="170.08" x2="484.5" y2="170.08" stroke="#000" stroke-width="0.8"/>
<line x1="482.5" y1="166.95" x2="484.5" y2="166.95" stroke="#000" stroke-width="0.8"/>
<line x1="482.5" y1="164.24" x2="484.5" y2="164.24" stroke="#000" stroke-width="0.8"/>
<line x1="482.5" y1="161.84" x2="484.5" y2="161.84" stroke="#000" stroke-width="0.8"/>
<line x1="481" y1="159.7" x2="484.5" y2="159.7" stroke="#000" stroke-width="1"/>
<line x1="482.5" y1="145.61" x2="484.5" y2="145.61" stroke="#000" stroke-width="0.8"/>
<line x1="482.5" y1="137.37" x2="484.5" y2="137.37" stroke="#000" stroke-width="0.8"/>
<line x1="482.5" y1="131.52" x2="484.5" y2="131.52" stroke="#000" stroke-width="0.8"/>
<line x1="482.5" y1="126.99" x2="484.5" y2="126.99" stroke="#000" stroke-width="0.8"/>
<line x1="482.5" y1="123.28" x2="484.5" y2="123.28" stroke="#000" stroke-width="0.8"/>
<line x1="482.5" y1="120.15" x2="484.5" y2="120.15" stroke="#000" stroke-width="0.8"/>
<line x1="482.5" y1="117.44" x2="484.5" y2="117.44" stroke="#000" stroke-width="0.8"/>
<line x1="482.5" y1="115.04" x2="484.5" y2="115.04" stroke="#000" stroke-width="0.8"/>
<line x1="481" y1="112.9" x2="484.5" y2="112.9" stroke="#000" stroke-width="1"/>
<line x1="482.5" y1="98.81" x2="484.5" y2="98.81" stroke="#000" stroke-width="0.8"/>
<line x1="482.5" y1="90.57" x2="484.5" y2="90.57" stroke="#000" stroke-width="0.8"/>
<line x1="482.5" y1="84.72" x2="484.5" y2="84.72" stroke="#000" stroke-width="0.8"/>
<line x1="482.5" y1="80.19" x2="484.5" y2="80.19" stroke="#000" stroke-width="0.8"/>
<line x1="482.5" y1="76.48" x2="484.5" y2="76.48" stroke="#000" stroke-width="0.8"/>
<line x1="482.5" y1="73.35" x2="484.5" y2="73.35" stroke="#000" stroke-width="0.8"/>
<line x1="482.5" y1="70.64" x2="484.5" y2="70.64" stroke="#000" stroke-width="0.8"/>
<line x1="482.5" y1="68.24" x2="484.5" y2="68.24" stroke="#000" stroke-width="0.8"/>
<line x1="481" y1="66.1" x2="484.5" y2="66.1" stroke="#000" stroke-width="1"/>
<line x1="482.5" y1="52.01" x2="484.5" y2="52.01" stroke="#000" stroke-width="0.8"/>
<line x1="482.5" y1="43.77" x2="484.5" y2="43.77" stroke="#000" stroke-width="0.8"/>
<line x1="482.5" y1="37.92" x2="484.5" y2="37.92" stroke="#000" stroke-width="0.8"/>
<line x1="482.5" y1="33.39" x2="484.5" y2="33.39" stroke="#000" stroke-width="0.8"/>
<line x1="482.5" y1="29.68" x2="484.5" y2="29.68" stroke="#000" stroke-width="0.8"/>
<line x1="482.5" y1="26.55" x2="484.5" y2="26.55" stroke="#000" stroke-width="0.8"/>
<line x1="482.5" y1="23.84" x2="484.5" y2="23.84" stroke="#000" stroke-width="0.8"/>
<line x1="482.5" y1="21.44" x2="484.5" y2="21.44" stroke="#000" stroke-width="0.8"/>
<line x1="481" y1="19.3" x2="484.5" y2="19.3" stroke="#000" stroke-width="1"/>
<text x="477.8" y="212.3" font-size="16.5" text-anchor="end" fill="#000" textLength="21" lengthAdjust="spacingAndGlyphs">0.1</text>
<text x="477.8" y="165.5" font-size="16.5" text-anchor="end" fill="#000">1</text>
<text x="477.8" y="118.7" font-size="16.5" text-anchor="end" fill="#000" textLength="17.2" lengthAdjust="spacingAndGlyphs">10</text>
<text x="477.8" y="71.9" font-size="16.5" text-anchor="end" fill="#000" textLength="25.5" lengthAdjust="spacingAndGlyphs">100</text>
<text x="477.8" y="25.1" font-size="16.5" text-anchor="end" fill="#000" textLength="33.8" lengthAdjust="spacingAndGlyphs">1000</text>
<g transform="translate(449,113) rotate(-90)"><text x="0" y="0" font-size="16" text-anchor="middle" textLength="60" lengthAdjust="spacingAndGlyphs"><tspan font-style="italic">IC</tspan><tspan font-size="10.5" dy="4.5">50</tspan><tspan dy="-4.5"> / μM</tspan></text></g>
<rect x="491.45" y="56.29" width="29.7" height="150.21" fill="#000"/>
<line x1="506.3" y1="53.9" x2="506.3" y2="59.5" stroke="#000" stroke-width="1"/>
<line x1="500.3" y1="53.9" x2="512.3" y2="53.9" stroke="#000" stroke-width="1"/>
<line x1="500.3" y1="59.5" x2="512.3" y2="59.5" stroke="#000" stroke-width="1"/>
<line x1="506.3" y1="206.5" x2="506.3" y2="210" stroke="#000" stroke-width="1"/>
<rect x="534.45" y="157.76" width="29.7" height="48.74" fill="#e3004f"/>
<line x1="549.3" y1="150.1" x2="549.3" y2="166.6" stroke="#000" stroke-width="1"/>
<line x1="543.3" y1="150.1" x2="555.3" y2="150.1" stroke="#000" stroke-width="1"/>
<line x1="543.3" y1="166.6" x2="555.3" y2="166.6" stroke="#000" stroke-width="1"/>
<line x1="549.3" y1="206.5" x2="549.3" y2="210" stroke="#000" stroke-width="1"/>
<rect x="577.35" y="60.77" width="29.7" height="145.73" fill="#009fe3"/>
<line x1="592.2" y1="55.9" x2="592.2" y2="66.6" stroke="#000" stroke-width="1"/>
<line x1="586.2" y1="55.9" x2="598.2" y2="55.9" stroke="#000" stroke-width="1"/>
<line x1="586.2" y1="66.6" x2="598.2" y2="66.6" stroke="#000" stroke-width="1"/>
<line x1="592.2" y1="206.5" x2="592.2" y2="210" stroke="#000" stroke-width="1"/>
<rect x="706.95" y="111.15" width="29.7" height="95.35" fill="#6a5ba6"/>
<line x1="721.8" y1="107.4" x2="721.8" y2="116.4" stroke="#000" stroke-width="1"/>
<line x1="715.8" y1="107.4" x2="727.8" y2="107.4" stroke="#000" stroke-width="1"/>
<line x1="715.8" y1="116.4" x2="727.8" y2="116.4" stroke="#000" stroke-width="1"/>
<line x1="721.8" y1="206.5" x2="721.8" y2="210" stroke="#000" stroke-width="1"/>
<rect x="750.2" y="81.19" width="29.7" height="125.31" fill="#302683"/>
<line x1="765.05" y1="77.9" x2="765.05" y2="84.3" stroke="#000" stroke-width="1"/>
<line x1="759.05" y1="77.9" x2="771.05" y2="77.9" stroke="#000" stroke-width="1"/>
<line x1="759.05" y1="84.3" x2="771.05" y2="84.3" stroke="#000" stroke-width="1"/>
<line x1="765.05" y1="206.5" x2="765.05" y2="210" stroke="#000" stroke-width="1"/>
<text x="549.3" y="153.78" font-size="18" text-anchor="middle" fill="#000" textLength="24.5" lengthAdjust="spacingAndGlyphs">****</text>
<text x="721.8" y="107.38" font-size="18" text-anchor="middle" fill="#000" textLength="24.5" lengthAdjust="spacingAndGlyphs">****</text>
<text x="765.05" y="76.48" font-size="18" text-anchor="middle" fill="#000" textLength="24.5" lengthAdjust="spacingAndGlyphs">****</text>
<text x="592.2" y="50.1" font-size="15" text-anchor="middle" fill="#000">ns</text>
<text x="506.3" y="223.3" font-size="14.5" text-anchor="middle" textLength="30.5" lengthAdjust="spacingAndGlyphs">D2-Lc</text>
<text x="549.3" y="223.3" font-size="14.5" text-anchor="middle" textLength="34" lengthAdjust="spacingAndGlyphs">D2-Lc-</text>
<text x="549.3" y="238.5" font-size="14.5" text-anchor="middle" textLength="30" lengthAdjust="spacingAndGlyphs">(H)N1</text>
<text x="592.2" y="223.3" font-size="14.5" text-anchor="middle" textLength="34" lengthAdjust="spacingAndGlyphs">D2-Lc-</text>
<text x="592.2" y="238.5" font-size="14.5" text-anchor="middle" textLength="37" lengthAdjust="spacingAndGlyphs">(H<tspan font-size="8.5" dy="3.5">S1</tspan><tspan dy="-3.5">)N1</tspan></text>
<text x="721.8" y="222.4" font-size="14.5" text-anchor="middle" textLength="30.5" lengthAdjust="spacingAndGlyphs">D2-Lc</text>
<text x="721.8" y="239" font-size="14.5" text-anchor="middle" textLength="42" lengthAdjust="spacingAndGlyphs">(Y543Q)</text>
<text x="721.8" y="255.6" font-size="14.5" text-anchor="middle" textLength="37" lengthAdjust="spacingAndGlyphs">(H<tspan font-size="8.5" dy="3.5">S2</tspan><tspan dy="-3.5">)N1</tspan></text>
<text x="765.05" y="222.4" font-size="14.5" text-anchor="middle" textLength="30.5" lengthAdjust="spacingAndGlyphs">D2-Lc</text>
<text x="765.05" y="239" font-size="14.5" text-anchor="middle" textLength="42" lengthAdjust="spacingAndGlyphs">(S544G)</text>
<text x="765.05" y="255.6" font-size="14.5" text-anchor="middle" textLength="37" lengthAdjust="spacingAndGlyphs">(H<tspan font-size="8.5" dy="3.5">S2</tspan><tspan dy="-3.5">)N1</tspan></text>
<text x="418" y="538.5" font-size="24" text-anchor="start" fill="#000" font-weight="bold">e</text>
<rect x="484.5" y="537.5" width="301.0" height="186.5" fill="none" stroke="#000" stroke-width="1"/>
<line x1="481" y1="724" x2="484.5" y2="724" stroke="#000" stroke-width="1"/>
<line x1="482.5" y1="705.4" x2="484.5" y2="705.4" stroke="#000" stroke-width="1"/>
<line x1="481" y1="686.8" x2="484.5" y2="686.8" stroke="#000" stroke-width="1"/>
<line x1="482.5" y1="668.2" x2="484.5" y2="668.2" stroke="#000" stroke-width="1"/>
<line x1="481" y1="649.6" x2="484.5" y2="649.6" stroke="#000" stroke-width="1"/>
<line x1="482.5" y1="631" x2="484.5" y2="631" stroke="#000" stroke-width="1"/>
<line x1="481" y1="612.4" x2="484.5" y2="612.4" stroke="#000" stroke-width="1"/>
<line x1="482.5" y1="593.8" x2="484.5" y2="593.8" stroke="#000" stroke-width="1"/>
<line x1="481" y1="575.2" x2="484.5" y2="575.2" stroke="#000" stroke-width="1"/>
<line x1="482.5" y1="556.6" x2="484.5" y2="556.6" stroke="#000" stroke-width="1"/>
<line x1="481" y1="538" x2="484.5" y2="538" stroke="#000" stroke-width="1"/>
<text x="478.8" y="729.8" font-size="16.5" text-anchor="end" fill="#000">0</text>
<text x="478.8" y="692.6" font-size="16.5" text-anchor="end" fill="#000" textLength="17.2" lengthAdjust="spacingAndGlyphs">10</text>
<text x="478.8" y="655.4" font-size="16.5" text-anchor="end" fill="#000" textLength="17.2" lengthAdjust="spacingAndGlyphs">20</text>
<text x="478.8" y="618.2" font-size="16.5" text-anchor="end" fill="#000" textLength="17.2" lengthAdjust="spacingAndGlyphs">30</text>
<text x="478.8" y="581" font-size="16.5" text-anchor="end" fill="#000" textLength="17.2" lengthAdjust="spacingAndGlyphs">40</text>
<text x="478.8" y="543.8" font-size="16.5" text-anchor="end" fill="#000" textLength="17.2" lengthAdjust="spacingAndGlyphs">50</text>
<g transform="translate(449,633) rotate(-90)"><text x="0" y="0" font-size="14" text-anchor="middle" textLength="191" lengthAdjust="spacingAndGlyphs">Block of spontaneous current / %</text></g>
<rect x="491.45" y="551.39" width="29.7" height="172.61" fill="#000"/>
<line x1="506.3" y1="544.32" x2="506.3" y2="558.46" stroke="#000" stroke-width="1"/>
<line x1="500.3" y1="544.32" x2="512.3" y2="544.32" stroke="#000" stroke-width="1"/>
<line x1="500.3" y1="558.46" x2="512.3" y2="558.46" stroke="#000" stroke-width="1"/>
<line x1="506.3" y1="724" x2="506.3" y2="727.5" stroke="#000" stroke-width="1"/>
<rect x="534.45" y="675.64" width="29.7" height="48.36" fill="#e3004f"/>
<line x1="549.3" y1="672.48" x2="549.3" y2="678.8" stroke="#000" stroke-width="1"/>
<line x1="543.3" y1="672.48" x2="555.3" y2="672.48" stroke="#000" stroke-width="1"/>
<line x1="543.3" y1="678.8" x2="555.3" y2="678.8" stroke="#000" stroke-width="1"/>
<line x1="549.3" y1="724" x2="549.3" y2="727.5" stroke="#000" stroke-width="1"/>
<rect x="577.35" y="615" width="29.7" height="109" fill="#009fe3"/>
<line x1="592.2" y1="610.91" x2="592.2" y2="619.1" stroke="#000" stroke-width="1"/>
<line x1="586.2" y1="610.91" x2="598.2" y2="610.91" stroke="#000" stroke-width="1"/>
<line x1="586.2" y1="619.1" x2="598.2" y2="619.1" stroke="#000" stroke-width="1"/>
<line x1="592.2" y1="724" x2="592.2" y2="727.5" stroke="#000" stroke-width="1"/>
<rect x="620.45" y="720.65" width="29.7" height="3.35" fill="#d9d3ee"/>
<line x1="635.3" y1="718.61" x2="635.3" y2="722.7" stroke="#000" stroke-width="1"/>
<line x1="629.3" y1="718.61" x2="641.3" y2="718.61" stroke="#000" stroke-width="1"/>
<line x1="629.3" y1="722.7" x2="641.3" y2="722.7" stroke="#000" stroke-width="1"/>
<line x1="635.3" y1="724" x2="635.3" y2="727.5" stroke="#000" stroke-width="1"/>
<rect x="663.65" y="724" width="29.7" height="13.02" fill="#a59bd2"/>
<line x1="678.5" y1="735.16" x2="678.5" y2="738.88" stroke="#000" stroke-width="1"/>
<line x1="672.5" y1="735.16" x2="684.5" y2="735.16" stroke="#000" stroke-width="1"/>
<line x1="672.5" y1="738.88" x2="684.5" y2="738.88" stroke="#000" stroke-width="1"/>
<line x1="678.5" y1="724" x2="678.5" y2="727.5" stroke="#000" stroke-width="1"/>
<rect x="706.95" y="633.6" width="29.7" height="90.4" fill="#6a5ba6"/>
<line x1="721.8" y1="631.93" x2="721.8" y2="635.28" stroke="#000" stroke-width="1"/>
<line x1="715.8" y1="631.93" x2="727.8" y2="631.93" stroke="#000" stroke-width="1"/>
<line x1="715.8" y1="635.28" x2="727.8" y2="635.28" stroke="#000" stroke-width="1"/>
<line x1="721.8" y1="724" x2="721.8" y2="727.5" stroke="#000" stroke-width="1"/>
<rect x="750.2" y="572.22" width="29.7" height="151.78" fill="#302683"/>
<line x1="765.05" y1="570.36" x2="765.05" y2="574.08" stroke="#000" stroke-width="1"/>
<line x1="759.05" y1="570.36" x2="771.05" y2="570.36" stroke="#000" stroke-width="1"/>
<line x1="759.05" y1="574.08" x2="771.05" y2="574.08" stroke="#000" stroke-width="1"/>
<line x1="765.05" y1="724" x2="765.05" y2="727.5" stroke="#000" stroke-width="1"/>
<text x="549.3" y="670.88" font-size="18" text-anchor="middle" fill="#000" textLength="24.5" lengthAdjust="spacingAndGlyphs">****</text>
<text x="592.2" y="610.78" font-size="18" text-anchor="middle" fill="#000" textLength="24.5" lengthAdjust="spacingAndGlyphs">****</text>
<text x="635.3" y="715.78" font-size="18" text-anchor="middle" fill="#000" textLength="24.5" lengthAdjust="spacingAndGlyphs">****</text>
<text x="678.5" y="719.18" font-size="18" text-anchor="middle" fill="#000" textLength="24.5" lengthAdjust="spacingAndGlyphs">****</text>
<text x="721.8" y="629.98" font-size="18" text-anchor="middle" fill="#000" textLength="24.5" lengthAdjust="spacingAndGlyphs">****</text>
<text x="765.05" y="568.18" font-size="18" text-anchor="middle" fill="#000" textLength="12" lengthAdjust="spacingAndGlyphs">**</text>
<text x="506.3" y="740.4" font-size="14.5" text-anchor="middle" textLength="30.5" lengthAdjust="spacingAndGlyphs">D2-Lc</text>
<text x="549.3" y="740.4" font-size="14.5" text-anchor="middle" textLength="34" lengthAdjust="spacingAndGlyphs">D2-Lc-</text>
<text x="549.3" y="756.6" font-size="14.5" text-anchor="middle" textLength="30" lengthAdjust="spacingAndGlyphs">(H)N1</text>
<text x="592.2" y="740.4" font-size="14.5" text-anchor="middle" textLength="34" lengthAdjust="spacingAndGlyphs">D2-Lc-</text>
<text x="592.2" y="756.6" font-size="14.5" text-anchor="middle" textLength="37" lengthAdjust="spacingAndGlyphs">(H<tspan font-size="8.5" dy="3.5">S1</tspan><tspan dy="-3.5">)N1</tspan></text>
<text x="635.3" y="740.4" font-size="14.5" text-anchor="middle" textLength="34" lengthAdjust="spacingAndGlyphs">D2-Lc-</text>
<text x="635.3" y="756" font-size="14.5" text-anchor="middle" textLength="37" lengthAdjust="spacingAndGlyphs">(H<tspan font-size="8.5" dy="3.5">S2</tspan><tspan dy="-3.5">)N1</tspan></text>
<text x="678.5" y="756.5" font-size="14.5" text-anchor="middle" textLength="30.5" lengthAdjust="spacingAndGlyphs">D2-Lc</text>
<text x="678.5" y="772.4" font-size="14.5" text-anchor="middle" textLength="42" lengthAdjust="spacingAndGlyphs">(D542Y)</text>
<text x="678.5" y="788.3" font-size="14.5" text-anchor="middle" textLength="37" lengthAdjust="spacingAndGlyphs">(H<tspan font-size="8.5" dy="3.5">S2</tspan><tspan dy="-3.5">)N1</tspan></text>
<text x="721.8" y="739.8" font-size="14.5" text-anchor="middle" textLength="30.5" lengthAdjust="spacingAndGlyphs">D2-Lc</text>
<text x="721.8" y="756.2" font-size="14.5" text-anchor="middle" textLength="42" lengthAdjust="spacingAndGlyphs">(Y543Q)</text>
<text x="721.8" y="772.6" font-size="14.5" text-anchor="middle" textLength="37" lengthAdjust="spacingAndGlyphs">(H<tspan font-size="8.5" dy="3.5">S2</tspan><tspan dy="-3.5">)N1</tspan></text>
<text x="765.05" y="739.8" font-size="14.5" text-anchor="middle" textLength="30.5" lengthAdjust="spacingAndGlyphs">D2-Lc</text>
<text x="765.05" y="756.2" font-size="14.5" text-anchor="middle" textLength="42" lengthAdjust="spacingAndGlyphs">(S544G)</text>
<text x="765.05" y="772.6" font-size="14.5" text-anchor="middle" textLength="37" lengthAdjust="spacingAndGlyphs">(H<tspan font-size="8.5" dy="3.5">S2</tspan><tspan dy="-3.5">)N1</tspan></text>
<text x="0.5" y="286.5" font-size="24" text-anchor="start" fill="#000" font-weight="bold">c</text>
<line x1="33.9" y1="285.3" x2="787" y2="285.3" stroke="#444" stroke-width="1.3" stroke-dasharray="3,4.8"/>
<line x1="33.9" y1="426.8" x2="787" y2="426.8" stroke="#444" stroke-width="1.3" stroke-dasharray="3,4.8"/>
<text x="34.3" y="304.6" font-size="16" text-anchor="start" fill="#1a1a1a">D2-Lc</text>
<text x="34.3" y="322.3" font-size="16" text-anchor="start" fill="#e3004f">D2-Lc-(H)N1</text>
<text x="160.3" y="309.7" font-size="16" text-anchor="end" fill="#000">0.2</text>
<line x1="165.5" y1="290.7" x2="165.5" y2="318.8" stroke="#000" stroke-width="1.6"/>
<line x1="171.2" y1="324.6" x2="199.2" y2="324.6" stroke="#000" stroke-width="1.6"/>
<text x="171" y="341.8" font-size="16" text-anchor="start" fill="#000">30 s</text>
<polyline points="33.8,419.4 34.13,419.94 34.47,419.79 34.81,419.6 35.15,420.25 35.49,420.12 35.83,421.25 36.18,422.57 36.52,421.4 36.87,421.58 37.22,422.76 37.57,422.94 37.92,423.02 38.28,422.47 38.65,423.46 39.02,424.31 39.39,422.94 39.77,423.9 40.15,423.01 40.52,423.76 40.89,423.59 41.25,425.15 41.59,424.61 41.92,426.14 42.24,426.39 42.58,426.54 42.91,425.14 43.23,427.18 43.52,427.98 43.77,428.42 43.95,427.26 44.08,428.1 44.19,427.61 44.3,427.58 44.4,428.85 44.49,427.07 44.57,427.34 44.65,427.68 44.73,426.07 44.8,425.97 44.86,425.64 44.92,425.06 44.98,423.47 45.04,423.93 45.09,424.37 45.14,421.45 45.19,422.78 45.24,421.59 45.28,420.4 45.33,421.95 45.38,420.42 45.43,418.33 45.48,418.87 45.53,418.81 45.58,417.75 45.62,418 45.67,416.95 45.72,417.09 45.76,417.25 45.8,415.11 45.84,415.36 45.88,414.38 45.92,414.4 45.96,412.9 45.99,412.93 46.03,412.79 46.06,413.21 46.1,412.96 46.13,410.53 46.17,410.5 46.2,411.2 46.23,408.64 46.27,409.41 46.3,409.25 46.33,409.88 46.37,408.97 46.4,407.71 46.43,407.22 46.47,406.87 46.5,407.83 46.54,405.82 46.58,405.47 46.61,405.54 46.65,404.71 46.69,404.2 46.73,403.02 46.77,403.45 46.81,402.65 46.86,403.49 46.9,402.63 46.95,401.64 47,401.74 47.05,400.49 47.1,401.15 47.15,399.86 47.21,399.88 47.26,397.93 47.31,398.78 47.37,396.7 47.43,395.97 47.49,396.9 47.55,395.97 47.61,396.37 47.67,397.58 47.73,394.66 47.8,394.37 47.87,394.58 47.94,394.36 48.01,393.37 48.08,392.9 48.16,393.18 48.24,392.58 48.32,390.89 48.4,391.21 48.49,390.86 48.58,389.55 48.67,390.16 48.77,388.83 48.87,389.86 48.98,388.8 49.08,388.29 49.19,387.32 49.31,387.27 49.43,385.35 49.58,385.62 49.74,386.39 49.91,383.98 50.09,385.94 50.29,383.45 50.49,385.03 50.71,383.34 50.93,384.24 51.16,383.32 51.4,381.59 51.64,383.43 51.89,383.2 52.14,381.62 52.39,381.1 52.65,380.83 52.93,379.84 53.23,381.17 53.55,379.53 53.87,379.61 54.21,378.7 54.55,378.52 54.88,377.69 55.22,379.4 55.55,377.96 55.87,378.53 56.18,377.43 56.49,376.5 56.82,376.38 57.16,375.74 57.5,375.73 57.84,374.96 58.16,374.58 58.47,373.32 58.74,373.43 58.98,375.14 59.17,373.11 59.31,372.76 59.42,373.92 59.53,374.9 59.63,372.8 59.72,374.05 59.8,374.03 59.88,373.49 59.95,375.9 60.02,375.75 60.08,376.32 60.14,376.18 60.2,377.7 60.25,377.47 60.31,378.38 60.36,378.2 60.41,378.71 60.46,381.34 60.51,380.46 60.57,381.67 60.62,381.96 60.68,382.17 60.74,382.62 60.8,384 60.86,383.7 60.93,384.27 60.99,384.86 61.05,386.23 61.11,386.28 61.17,386.49 61.23,386.18 61.29,385.98 61.34,388.29 61.4,388.76 61.46,388.32 61.51,389.32 61.57,389.96 61.62,390.45 61.68,390.97 61.74,390.32 61.79,392.35 61.85,390.59 61.91,392.72 61.96,392.88 62.02,393.63 62.08,394.88 62.14,395.02 62.2,393.36 62.26,393.38 62.32,395.83 62.38,394.81 62.44,396.06 62.5,397.19 62.57,395.65 62.64,395.73 62.7,398.07 62.77,398.35 62.84,398.56 62.91,399.23 62.99,398.96 63.06,398.88 63.14,400.4 63.22,400.21 63.29,400.12 63.37,402.29 63.45,402.3 63.52,403.13 63.6,402.47 63.68,403.19 63.76,403.38 63.84,403.93 63.92,405.26 64.01,404.93 64.1,406.3 64.18,406.75 64.28,408.55 64.37,406.27 64.47,408.55 64.57,408.21 64.67,408.72 64.78,408.01 64.89,409.24 65.01,410.64 65.13,410.41 65.25,410.97 65.38,411.09 65.52,412.66 65.66,412.13 65.8,410.78 65.95,412.38 66.11,411.75 66.29,411.12 66.49,413.71 66.72,415.63 66.97,415.03 67.24,414.48 67.53,415.08 67.84,417.14 68.15,416.74 68.48,417 68.82,417.22 69.16,417.56 69.51,418.38 69.86,418.33 70.22,418.17 70.61,417.27 71.02,418.61 71.46,417.75 71.91,419.27 72.38,417.46 72.85,418.45 73.33,418.62 73.82,417.63 74.3,420.13 74.78,419.97 75.26,418.47 75.72,419.48 76.16,419.19 76.59,416.81 77,419.08 77.39,418.7 77.77,418.58 78.15,417.33 78.52,417.61 78.88,417.3 79.25,418.03 79.61,417.01 79.97,416.49 80.34,417.56 80.72,415.86 81.1,416.08 81.48,415.1 81.86,418.04 82.24,417.84 82.62,418.12 83,418.25 83.38,418.12 83.76,418.51 84.14,418.39 84.52,418.68 84.89,419.14 85.27,420.56 85.64,420.05 86.01,419.82 86.39,419.66 86.76,419.87 87.13,421.92 87.5,421.31" fill="none" stroke="#e3004f" stroke-width="1.4" stroke-linejoin="round"/>
<polyline points="87.5,424.05 87.89,423.96 88.29,423.59 88.69,424.65 89.09,425.62 89.5,424.81 89.91,425.12 90.33,425.27 90.76,425.66 91.22,424.41 91.71,425.61 92.23,425.22 92.76,426.72 93.31,425.5 93.87,426.68 94.44,427.53 95,426.15 95.56,426.01 96.1,426.73 96.63,426.65 97.13,425.92 97.6,427.15 98.05,428.45 98.45,426.68 98.81,426.76 99.12,426.12 99.38,427.24 99.57,426 99.7,426.11 99.8,427.99 99.88,426.15 99.97,427.6 100.04,427.75 100.11,426.49 100.18,426.43 100.24,427.21 100.3,425.12 100.35,424.39 100.4,423.33 100.45,423.97 100.5,424.62 100.54,423.68 100.58,421.61 100.62,421.12 100.66,420.82 100.7,420.87 100.73,419.88 100.77,419.61 100.81,419.08 100.84,418 100.88,417.62 100.92,417.24 100.96,416.43 101.01,416.35 101.05,416.91 101.1,415.37 101.15,414.45 101.21,412.6 101.26,413.8 101.32,411.49 101.37,411.47 101.43,412.83 101.48,412.26 101.54,411.12 101.59,409.43 101.65,410.05 101.7,409.35 101.75,409.95 101.81,410.8 101.86,408.71 101.92,407.47 101.97,406.7 102.03,407.14 102.09,406.6 102.14,405.36 102.2,405.93 102.26,404.47 102.32,405.83 102.38,405.34 102.44,404.9 102.5,403.21 102.56,403.55 102.62,402.58 102.69,401.93 102.75,401.52 102.82,400.31 102.89,399.74 102.96,401.09 103.03,399.85 103.1,399.73 103.18,399.92 103.25,397.28 103.33,397.6 103.41,397.92 103.49,397.65 103.58,396.6 103.66,397.28 103.75,396.18 103.84,394.6 103.94,394.38 104.03,395.33 104.13,394.61 104.24,392.28 104.34,394.43 104.45,393.39 104.56,393.54 104.67,391.72 104.78,391.35 104.9,390.24 105.02,392.73 105.14,390.12 105.26,391.09 105.39,388.87 105.51,389.08 105.64,387.18 105.77,387.77 105.91,388.43 106.04,386.21 106.18,387.64 106.32,386.62 106.46,385.08 106.6,385.09 106.75,384.7 106.9,384.6 107.04,383.78 107.19,383.13 107.35,383.13 107.5,382.13 107.67,381.51 107.84,382.08 108.02,382.42 108.2,380.07 108.39,380.89 108.58,379.96 108.77,379.29 108.98,380.35 109.18,378.85 109.39,380.05 109.6,377.83 109.81,378.36 110.02,377.47 110.24,376.64 110.46,377.32 110.68,376.32 110.9,376.53 111.12,375.61 111.34,374.38 111.56,374.76 111.77,374.49 111.99,374.81 112.21,372.92 112.42,373.21 112.63,371.47 112.84,372.94 113.06,371.11 113.28,370.06 113.51,370.97 113.74,371.39 113.97,368.77 114.2,368.6 114.44,368.34 114.67,367.5 114.91,368.18 115.14,366.72 115.37,366.28 115.61,366.83 115.83,365.28 116.06,365.78 116.28,364.23 116.5,363.65 116.72,362.79 116.93,365.42 117.13,363.39 117.33,363.61 117.52,363.2 117.7,363.22 117.87,363.06 118.04,364.53 118.2,362.23 118.35,361.94 118.5,362.56 118.65,362.55 118.79,364.52 118.93,364.93 119.07,363.91 119.2,364 119.33,365.3 119.46,367.2 119.58,364.36 119.71,367.58 119.83,366.86 119.95,369.13 120.07,368.01 120.19,369.22 120.31,368.82 120.43,369.8 120.56,372.24 120.68,372.32 120.8,371.84 120.93,371.94 121.05,371.56 121.17,373.2 121.3,373.93 121.41,374.32 121.53,374.76 121.64,374.37 121.76,375.66 121.87,376.13 121.98,377.63 122.09,378.54 122.19,377.38 122.3,377.32 122.41,378.32 122.52,378.33 122.63,378.67 122.74,379.66 122.85,379.31 122.96,381.07 123.07,380.95 123.18,381.67 123.3,381.76 123.42,381.76 123.54,382.02 123.67,383.02 123.8,383.21 123.93,384.26 124.06,384.5 124.2,383.84 124.34,385.41 124.49,384.7 124.65,385.7 124.8,386.37 124.97,385.37 125.13,387.54 125.31,388.03 125.49,388.24 125.67,388.48 125.87,388.98 126.06,388.95 126.27,389.96 126.48,390.17 126.7,391.12 126.93,390.49 127.17,392.03 127.42,392.33 127.67,392.45 127.94,392.53 128.21,393.61 128.49,392.08 128.79,394.01 129.12,394.05 129.48,394.3 129.87,394.6 130.28,393.98 130.7,394.5 131.15,395.41 131.6,395.42 132.07,395.4 132.54,394.16 133.01,395.92 133.48,396.52 133.94,396.46 134.4,395.88 134.84,394.45 135.28,396.45 135.72,395.58 136.16,393.67 136.6,395.99 137.05,394.48 137.5,394.61 137.95,395.12 138.4,396.61 138.85,395.25 139.3,395.7 139.76,396.82 140.22,396.61 140.68,395.16 141.14,394.94 141.6,393.99" fill="none" stroke="#e3004f" stroke-width="1.4" stroke-linejoin="round"/>
<polyline points="141,430.04 141.48,430.91 141.95,430.85 142.42,430.57 142.89,431.22 143.35,429.73 143.81,430.22 144.26,430.76 144.71,430.55 145.16,430.83 145.6,430.18 146.04,429.49 146.48,429.9 146.91,428.67 147.34,428.02 147.77,429.65 148.19,428.99 148.61,429.13 149.03,427.36 149.44,428.26 149.85,427.91 150.26,427.53 150.67,426.24 151.07,427.61 151.47,428.42 151.88,427.83 152.32,426.84 152.76,427.08 153.19,427.45 153.57,424.36 153.87,426.19 154.06,426.42 154.22,426.21 154.37,426.69 154.51,425.87 154.64,424.84 154.76,424.43 154.87,424.4 154.98,422.92 155.07,422.88 155.16,423.18 155.25,423.56 155.33,421.4 155.4,421.01 155.48,420.73 155.55,421.16 155.62,419.57 155.69,420.28 155.76,417.84 155.83,417.98 155.9,417.48 155.97,417.79 156.05,417.53 156.14,415.02 156.22,415.04 156.32,415.59 156.41,414.35 156.51,413.22 156.6,414.83 156.69,413.95 156.78,413.5 156.87,412.28 156.96,413.04 157.05,411.58 157.14,412.21 157.23,410.16 157.32,409.76 157.41,410.16 157.5,408.99 157.6,409.65 157.69,408.87 157.78,407.48 157.87,407.84 157.97,407.06 158.06,407.63 158.16,405.95 158.25,405.66 158.35,406.54 158.45,406.92 158.55,406.29 158.66,404.3 158.76,403.98 158.87,404.6 158.98,402.83 159.09,401.71 159.2,402.15 159.32,401.99 159.44,400.53 159.56,399.44 159.69,399.17 159.82,400.42 159.95,398.85 160.09,398.91 160.23,398.76 160.37,398.66 160.51,397.47 160.66,397.7 160.8,396.16 160.95,396.16 161.1,395.2 161.26,396.5 161.41,395.14 161.57,394.15 161.72,394.03 161.88,393.71 162.04,394.03 162.2,391.77 162.35,391.79 162.51,391.89 162.67,393.8 162.83,392.11 162.99,390.83 163.15,391.06 163.31,391.7 163.47,389.44 163.63,388.9 163.79,389.73 163.96,388.73 164.12,388.44 164.29,387.07 164.46,388.59 164.63,387.99 164.81,386.65 164.99,386.33 165.17,383.74 165.35,385.46 165.54,384.39 165.74,384.48 165.93,384.28 166.14,383.07 166.34,381.6 166.55,382.86 166.77,381.59 166.99,381.55 167.23,380.95 167.47,380.76 167.73,378.78 168,381.18 168.28,379.98 168.58,380.23 168.88,380.48 169.19,378.47 169.5,376.57 169.83,376.85 170.15,376.16 170.48,376.3 170.82,376.34 171.16,374.27 171.49,375.75 171.83,373.89 172.17,374.98 172.51,374.31 172.84,373.83 173.17,373.74 173.5,373.1 173.81,372.82 174.13,371.76 174.43,372.93 174.73,374.3 175.02,374.33 175.29,373.76 175.56,373.28 175.82,372.27 176.08,374.15 176.33,373.2 176.59,373.51 176.84,373.7 177.08,374.42 177.32,374.45 177.56,375.21 177.8,374.91 178.03,375.99 178.26,378.62 178.48,377.25 178.71,377.6 178.92,378.68 179.14,379.25 179.35,378.19 179.55,379.32 179.74,380.64 179.93,380.54 180.11,380.85 180.28,382.43 180.46,381.07 180.62,382.12 180.79,382.07 180.95,384.12 181.12,381.81 181.28,383.27 181.45,383.82 181.61,385.2 181.79,385.58 181.96,386.64 182.14,384.68 182.33,386.95 182.52,386.51 182.72,386.6 182.93,387.95 183.15,387.15 183.38,386.58 183.62,388.29 183.87,387.73 184.15,388.77 184.45,389.97 184.76,390.31 185.09,391.71 185.44,390.66 185.79,389.95 186.16,390.9 186.54,391.07 186.92,391.09 187.31,392.62 187.7,391.9 188.1,390.91 188.49,393.06 188.89,392.41 189.31,392.79 189.73,392.58 190.16,393.01 190.6,392.53 191.05,393.49 191.5,392.84 191.97,392.81 192.44,392.83 192.92,391.33 193.4,392.37 193.9,392.29 194.4,392.67" fill="none" stroke="#e3004f" stroke-width="1.4" stroke-linejoin="round"/>
<polyline points="195.2,433.81 195.69,436.01 196.18,434.59 196.66,433.33 197.14,432.72 197.62,433.64 198.09,433.57 198.55,432.84 199.01,433.25 199.47,432.43 199.91,433.14 200.35,431.87 200.78,432.16 201.2,432.72 201.62,433.73 202.02,430.59 202.41,430.75 202.79,430.18 203.15,431.19 203.51,429.36 203.85,429.6 204.18,429.67 204.49,428.61 204.78,428.33 205.07,428.4 205.33,426.79 205.58,427 205.81,427.51 206.02,427.64 206.22,427.05 206.39,425.45 206.54,426.17 206.68,426.84 206.81,426.3 206.93,425.43 207.05,424.42 207.16,425.26 207.27,423.9 207.37,423.03 207.47,422.92 207.57,424.31 207.66,422.9 207.75,423.23 207.83,421.48 207.92,422.17 208,420.5 208.07,420.4 208.15,422.06 208.22,420.22 208.29,418.74 208.35,418.6 208.42,418.46 208.49,418.69 208.55,416.85 208.61,415.37 208.68,416.06 208.74,415.81 208.8,415.4 208.87,415.89 208.93,414.6 208.99,414.52 209.06,412.51 209.12,413.61 209.19,414.11 209.26,412.58 209.33,411.7 209.4,411.15 209.48,412 209.55,409.37 209.63,409.57 209.72,409.58 209.8,409.36 209.88,407.97 209.96,408.12 210.04,407.2 210.12,407.08 210.2,406.43 210.28,405.17 210.36,405.62 210.44,405.89 210.52,403.97 210.59,404.1 210.67,404.38 210.75,402.54 210.83,403.1 210.91,401.65 210.99,402.96 211.07,403.46 211.15,402.78 211.23,400.54 211.32,400.86 211.4,399.92 211.49,399.46 211.58,400.17 211.67,397.44 211.76,398.89 211.85,397.57 211.95,398.29 212.04,396.87 212.14,395.75 212.24,396.07 212.35,396 212.45,395 212.56,394.93 212.67,393.69 212.79,391.96 212.91,393.95 213.03,393.36 213.15,392.48 213.28,391.99 213.41,392.32 213.55,390.7 213.69,390.06 213.83,390.04 213.97,390.71 214.12,388.22 214.27,389.85 214.43,387.95 214.59,387.15 214.75,388.61 214.91,387.1 215.08,385.71 215.25,386.04 215.42,386.65 215.59,386.44 215.77,384.72 215.95,384.98 216.14,384.81 216.32,383.31 216.51,383.7 216.7,382.99 216.9,382.18 217.09,381.82 217.29,381.87 217.5,381.45 217.72,380.58 217.94,380.31 218.18,381.16 218.42,380.07 218.67,380.23 218.93,380.11 219.2,379.25 219.47,380.23 219.74,377.39 220.01,378.33 220.29,377.07 220.57,378.44 220.85,377.95 221.13,374.67 221.4,375.09 221.68,376.03 221.95,375.76 222.21,375.35 222.47,374.33 222.73,374.37 222.99,374.11 223.27,373.06 223.55,373.46 223.84,370.33 224.12,372.14 224.41,370.31 224.68,371.44 224.95,370.04 225.2,369.12 225.44,369.79 225.66,368.49 225.85,368.29 226.02,367.66 226.16,368.89 226.3,369.36 226.42,369.9 226.54,369.13 226.66,370.3 226.77,369.74 226.87,369.96 226.97,370.84 227.07,371.62 227.16,370.92 227.25,371.45 227.33,372 227.41,372.7 227.49,372.44 227.57,374.52 227.65,373.94 227.72,375.21 227.8,374.76 227.87,376.29 227.94,376.91 228.01,376.85 228.09,379.39 228.16,378.65 228.24,380.35 228.32,380.25 228.39,379.5 228.48,380.25 228.56,381.4 228.65,381.58 228.74,382.02 228.83,382.19 228.91,381.42 229,383.13 229.08,381.99 229.17,384.51 229.25,384.08 229.33,384.53 229.41,385.38 229.49,386.22 229.57,385.31 229.65,385.51 229.73,386.5 229.81,386.17 229.89,387.48 229.97,389.98 230.05,388.31 230.13,390.13 230.21,388.96 230.29,390.75 230.37,390.7 230.45,391.36 230.54,392.31 230.62,393.7 230.71,392.9 230.8,393.29 230.89,392.86 230.98,394.55 231.07,394.33 231.17,395.63 231.26,395.37 231.36,397.24 231.47,394.7 231.57,396.48 231.68,397.86 231.79,397.31 231.9,397.38 232.02,398.24 232.14,397.77 232.26,399.4 232.39,401.68 232.52,401.06 232.65,399.69 232.79,400.31 232.94,401.13 233.09,402.7 233.25,401.69 233.42,402.25 233.59,403.96 233.77,404.4 233.95,403.86 234.14,403.71 234.34,403.81 234.54,404.92 234.75,404.12 234.97,406.93 235.19,406.23 235.42,407.51 235.66,409 235.9,408.81 236.15,407.29 236.4,409.24 236.66,409.78 236.93,408.54 237.21,408.64 237.52,409.59 237.85,408.67 238.21,411.4 238.59,408.57 238.99,409.88 239.4,410.8 239.83,411.08 240.27,411.62 240.71,411.92 241.16,411.71 241.61,412.94 242.06,410.45 242.5,412.24 242.94,411.72 243.36,412.4 243.78,412.46 244.21,411.52 244.64,411.69 245.07,412.77 245.5,412.33 245.94,411.4 246.38,413.44 246.82,413.5 247.26,410.31 247.7,411.52 248.15,413.06 248.6,411.43" fill="none" stroke="#e3004f" stroke-width="1.4" stroke-linejoin="round"/>
<polyline points="248.8,432.78 249.39,432.39 249.98,432.07 250.57,432.27 251.15,431.91 251.72,432.86 252.28,431.84 252.84,431.69 253.38,430.95 253.92,431.73 254.44,430.91 254.94,431.32 255.43,432.14 255.91,431.42 256.36,431.35 256.8,431.04 257.22,430.6 257.62,430.25 257.99,429.9 258.34,430.53 258.67,428.84 258.97,430.55 259.25,429.28 259.49,428.42 259.71,428.39 259.9,428 260.05,428.43 260.18,427.48 260.27,428.72 260.37,426.9 260.46,425.4 260.54,426.31 260.62,424.93 260.69,426.14 260.77,426.63 260.84,425.89 260.9,423.87 260.96,423.89 261.02,425.47 261.08,423.83 261.13,423.1 261.19,423.45 261.24,424.07 261.28,422.64 261.33,421.21 261.37,420.87 261.41,420.56 261.46,419.06 261.5,418.19 261.53,418.57 261.57,417.26 261.61,417.46 261.65,417.09 261.68,418.39 261.72,415.36 261.75,415.47 261.79,414.98 261.83,415.01 261.86,415.05 261.9,413.37 261.93,412.65 261.96,411.55 262,411.67 262.03,412.39 262.06,411.55 262.09,410.25 262.12,410.31 262.14,410.18 262.17,410.11 262.2,408.78 262.22,408.61 262.25,406.9 262.28,406.98 262.3,408.75 262.32,405.25 262.35,406.28 262.37,406.28 262.39,405.35 262.42,404.55 262.44,404.7 262.46,404.29 262.48,403.78 262.51,401.89 262.53,402.82 262.55,401.81 262.57,401.6 262.59,401.77 262.61,401.65 262.63,401.4 262.65,399.84 262.68,400.52 262.7,400.27 262.72,399.79 262.74,399.54 262.76,397.86 262.79,397.39 262.81,397.74 262.83,395.53 262.86,396.34 262.88,395.3 262.9,394.98 262.93,393.43 262.95,393.66 262.98,393.9 263.01,394.18 263.03,393.81 263.06,392.5 263.09,391.96 263.12,391 263.15,391.54 263.18,390.57 263.21,390.8 263.24,391.27 263.28,389.39 263.31,387.77 263.34,387.83 263.38,386.9 263.42,386.66 263.45,388.21 263.49,386.9 263.52,385.05 263.56,386.34 263.6,386.37 263.64,384.62 263.67,383.92 263.71,383.74 263.75,383.79 263.79,383.62 263.83,383.6 263.88,383.18 263.92,382.7 263.96,382.39 264,381.38 264.05,379.18 264.09,379.85 264.14,379.75 264.18,378.75 264.23,379.33 264.27,377.86 264.32,376.96 264.37,378.41 264.42,377.34 264.47,376.53 264.52,376.65 264.57,376.31 264.63,375.28 264.68,372.59 264.73,373.57 264.79,373.3 264.84,372.43 264.9,372.93 264.96,373.27 265.02,371.48 265.08,370.52 265.14,372.6 265.2,370.17 265.26,369.1 265.33,369.83 265.39,369.54 265.46,368.19 265.52,368.94 265.59,367.48 265.66,366.68 265.73,367.12 265.8,367.15 265.88,365.58 265.96,365.9 266.04,365.12 266.12,367 266.2,363.73 266.29,364.95 266.38,363.36 266.47,362.85 266.56,363.08 266.66,362.77 266.75,362.62 266.85,361.42 266.96,360.23 267.06,359.84 267.17,360.23 267.28,359.84 267.39,360.06 267.51,358.83 267.62,358.91 267.74,358.83 267.87,357.31 267.99,355.56 268.12,355.37 268.25,354.73 268.38,356.73 268.52,354.35 268.66,355.59 268.8,354.65 268.94,355.14 269.09,354.15 269.24,352.86 269.39,352.37 269.55,352.19 269.73,351.86 269.91,350.9 270.12,350.9 270.33,351.82 270.55,348.78 270.78,349.96 271.02,348.64 271.27,349.14 271.52,349.28 271.77,348.18 272.03,348.46 272.29,346.19 272.55,347.97 272.81,346.22 273.07,346.83 273.33,346.09 273.58,343.5 273.82,344.58 274.06,344.98 274.31,345.64 274.57,344.19 274.84,343.71 275.12,341.9 275.4,343.69 275.69,343.49 275.99,341.56 276.28,340.85 276.58,339.23 276.87,340.72 277.16,341.69 277.45,339.62 277.73,339.59 278,338.57 278.25,336.93 278.5,338.39 278.73,335.98 278.95,336.48 279.15,336.59 279.33,336.83 279.48,336.27 279.62,336.11 279.73,335.11 279.81,334.67 279.89,335.78 279.95,335.23 280.02,334.85 280.08,335.02 280.14,335.82 280.2,334.94 280.26,335.58 280.31,335.62 280.36,337.38 280.41,337.89 280.45,339.52 280.5,337.1 280.54,338.16 280.58,339.86 280.62,339.4 280.65,339.78 280.69,341.9 280.72,340.76 280.76,340.63 280.79,341.03 280.82,342.9 280.85,343.43 280.88,342.66 280.91,343.55 280.94,345.35 280.97,345.97 281,345.59 281.03,347.2 281.05,347.76 281.08,346.47 281.11,348.25 281.14,349.42 281.18,349.23 281.21,348.56 281.24,350.63 281.27,352.03 281.31,353.25 281.34,350.79 281.38,355.17 281.42,352.71 281.46,354.89 281.5,355.61 281.55,355.89 281.6,355.68 281.64,355.08 281.69,356.96 281.74,356.34 281.79,355.34 281.84,360.07 281.89,358.82 281.93,360.16 281.98,358.42 282.03,360.78 282.08,361.32 282.13,361.75 282.18,360.93 282.23,360.44 282.28,361.71 282.34,360.54 282.39,361.39 282.44,363.27 282.49,362.86 282.54,363.97 282.6,364.46 282.65,366.54 282.71,366.48 282.76,365.86 282.82,367.31 282.87,366.17 282.93,366.97 282.99,368.42 283.05,367.14 283.1,368.36 283.16,367.98 283.22,369.58 283.28,371.24 283.35,369.78 283.41,371.01 283.47,370.55 283.53,370.8 283.6,371.18 283.66,373.78 283.73,374.95 283.8,373.89 283.86,373.38 283.93,374.96 284,374.57 284.07,375.93 284.15,375.96 284.22,376.4 284.29,377.1 284.37,376.6 284.44,377.18 284.52,376.57 284.6,378.04 284.68,377.7 284.76,379.16 284.84,378.96 284.92,380.26 285,380.99 285.09,379.94 285.17,380.88 285.26,381.22 285.35,383.03 285.44,384.25 285.53,384.02 285.62,383.51 285.71,385.42 285.81,383.49 285.91,386.35 286.01,385.08 286.12,383.83 286.22,388.62 286.33,388.21 286.44,386.56 286.56,387.97 286.67,388.1 286.79,388.79 286.92,387.96 287.04,389.03 287.17,390.38 287.31,390.61 287.44,391.82 287.58,391.34 287.73,393.57 287.87,391.53 288.02,392.72 288.18,391.38 288.34,392.31 288.5,394.77 288.67,393.35 288.86,394.94 289.07,394.9 289.28,394.55 289.51,395.56 289.75,395.87 290.01,396.34 290.27,397.77 290.55,398.12 290.83,397.56 291.13,397.7 291.43,399.03 291.74,399.08 292.05,400.31 292.38,401.91 292.7,400.72 293.03,400.24 293.37,400.31 293.71,399.89 294.05,399.94 294.41,399.95 294.78,400.53 295.17,400.58 295.56,401.6 295.97,400.76 296.39,400.99 296.82,400.24 297.26,402.6 297.72,401.74 298.18,402.82 298.65,402.07 299.13,402.67 299.62,401.32 300.12,402.12 300.63,403.73 301.15,400.61 301.67,402.54 302.2,402.96" fill="none" stroke="#e3004f" stroke-width="1.4" stroke-linejoin="round"/>
<polyline points="302.9,434.44 303.42,434.54 303.93,434.77 304.45,433.03 304.96,433.71 305.48,432.47 305.99,432.43 306.49,432.27 307,432.44 307.49,432.46 307.98,432.49 308.45,430.73 308.92,433.28 309.38,432.37 309.82,431.77 310.25,430.63 310.67,430.6 311.07,430.86 311.46,430.49 311.82,428.51 312.17,430.22 312.5,431.73 312.81,427.54 313.09,429.59 313.35,428.78 313.59,428.1 313.8,429.02 313.98,426.62 314.14,427.42 314.26,428.18 314.36,426.51 314.43,426.01 314.49,426.12 314.55,425.33 314.61,426.61 314.66,424.24 314.71,425.33 314.76,423.21 314.81,424.4 314.86,423.37 314.9,420.93 314.95,422.63 314.99,421.34 315.03,421.42 315.07,422.62 315.1,419.99 315.14,419.59 315.17,421.19 315.2,419.64 315.24,420.35 315.27,418.88 315.29,417.41 315.32,417.61 315.35,418.19 315.38,417.47 315.4,416.21 315.43,415.76 315.45,415.14 315.47,414.26 315.5,415.83 315.52,413.75 315.54,412.32 315.57,412.36 315.59,412.86 315.61,412.29 315.63,411.16 315.65,410.23 315.68,410.31 315.7,408.43 315.72,408.25 315.74,409.5 315.77,407.97 315.79,408.2 315.82,408.42 315.84,407.49 315.87,406.51 315.89,407.79 315.92,406.13 315.95,404.84 315.97,405.29 316,404.57 316.02,403.08 316.05,403.39 316.07,402.75 316.1,400.81 316.12,401.84 316.14,401.3 316.17,400.72 316.19,399.27 316.21,399.88 316.24,399.69 316.26,399.36 316.28,397.89 316.3,398.89 316.32,396.92 316.34,397.29 316.36,398.09 316.39,396 316.41,395.7 316.43,396.55 316.45,394.9 316.47,394.52 316.49,394.49 316.5,394.72 316.52,391.6 316.54,392.28 316.56,391.68 316.58,391.16 316.6,390.9 316.62,390.46 316.64,390.95 316.66,389.52 316.67,389.9 316.69,389.68 316.71,388.3 316.73,388.55 316.75,389.34 316.76,387.81 316.78,386.57 316.8,386.59 316.82,385.44 316.83,385.96 316.85,385.99 316.87,384.16 316.89,384.21 316.91,384.84 316.92,383.07 316.94,383.18 316.96,381.74 316.98,381.46 317,381.26 317.01,382.96 317.03,380.44 317.05,379.9 317.07,379.42 317.09,379.29 317.1,379.49 317.12,378.67 317.14,379.71 317.16,377.78 317.18,378.32 317.2,376.93 317.22,376.74 317.24,374.65 317.26,375.26 317.28,374.85 317.3,374.26 317.32,372.28 317.34,374.26 317.36,372.79 317.38,372.3 317.4,372 317.42,371.57 317.44,371.63 317.47,369.83 317.49,369.65 317.51,370.18 317.53,369.61 317.56,368.75 317.58,368.14 317.6,367.48 317.63,367.65 317.65,368.19 317.68,365.95 317.7,367.56 317.73,366.57 317.75,365.08 317.78,365.62 317.81,363.37 317.83,362.71 317.86,362.61 317.89,362.87 317.92,362.48 317.95,361.88 317.98,361.92 318.01,359.69 318.04,361.34 318.07,359.36 318.1,359.52 318.13,359.27 318.16,358.22 318.19,357.6 318.23,357.44 318.26,357.79 318.29,357.82 318.33,357.35 318.37,355.65 318.4,355.37 318.44,354.81 318.48,355.46 318.52,353.02 318.56,355.19 318.6,353.36 318.64,352.67 318.68,353.12 318.72,353.22 318.77,352.22 318.81,352.33 318.86,351.15 318.9,351.57 318.95,351.14 319,349.61 319.05,350.39 319.1,348.92 319.15,348.41 319.2,347.15 319.25,347.2 319.3,347.61 319.36,345.49 319.41,346.61 319.47,345.92 319.52,345.41 319.58,342.97 319.64,344.21 319.7,344.36 319.76,342.78 319.82,343.02 319.88,340.59 319.94,342.58 320,341.07 320.07,341.85 320.13,339.23 320.2,340.81 320.27,339.63 320.33,340.02 320.4,338.18 320.47,337.99 320.54,339.83 320.62,336.93 320.69,336.58 320.76,336.49 320.84,335.45 320.91,336.78 320.99,336.76 321.07,334.38 321.15,333.12 321.23,335 321.31,334.51 321.39,333.84 321.49,333.67 321.58,331.61 321.68,331.73 321.78,330.32 321.88,329.85 321.99,331.33 322.1,329.57 322.21,331.49 322.33,329.28 322.45,328.27 322.57,328.99 322.7,329.35 322.83,327.86 322.96,326.06 323.09,326.9 323.23,327.26 323.36,325.34 323.5,324.68 323.65,325.68 323.79,324.54 323.94,323.12 324.09,323.27 324.24,322.54 324.39,322.96 324.54,322.38 324.7,322.79 324.85,322.01 325.01,319.78 325.17,320.93 325.33,320.91 325.49,320.14 325.66,320.18 325.82,318.51 326,317.76 326.18,318.82 326.39,316.77 326.6,315.42 326.83,317.48 327.06,315.58 327.31,315.41 327.56,314.02 327.82,313.56 328.09,313.17 328.36,313.28 328.63,313.34 328.91,310.69 329.19,312.61 329.47,310.55 329.74,310.14 330.02,311.04 330.29,309.96 330.56,308.32 330.83,310.57 331.09,307.98 331.34,308.45 331.58,308.02 331.81,308.62 332.04,306.78 332.25,307.63 332.44,305.95 332.63,307.18 332.8,305.45 332.95,305.58 333.09,307.23 333.21,305.86 333.31,305.62 333.39,307.29 333.45,305.8 333.51,304.89 333.57,306.19 333.63,304.74 333.69,306.7 333.74,306.9 333.8,305.63 333.85,305.77 333.9,306.61 333.94,306.71 333.99,306.16 334.04,307.66 334.08,305.86 334.12,307.45 334.16,307.8 334.2,308.24 334.24,309.06 334.28,308.21 334.31,310.05 334.35,309.84 334.38,309.89 334.42,309.75 334.45,310.35 334.48,312.05 334.51,311.46 334.54,312.77 334.57,314.07 334.6,314.55 334.62,315.5 334.65,314.54 334.68,314.45 334.7,316.68 334.73,316.66 334.76,317.87 334.78,317.55 334.8,319.07 334.83,319.37 334.85,319.85 334.88,320.27 334.9,320.78 334.92,321.24 334.95,321.83 334.97,323.04 335,322.44 335.02,324.84 335.04,323.96 335.07,325.43 335.09,325.17 335.12,325.64 335.15,328.06 335.17,326.78 335.2,326.59 335.22,327.62 335.25,328.52 335.28,331.07 335.31,330.08 335.34,331.22 335.37,330.22 335.4,331.85 335.43,332.64 335.47,334.07 335.5,332.59 335.54,334.14 335.57,334.39 335.61,333.82 335.65,335.09 335.69,335.36 335.73,334.16 335.77,336.94 335.81,337.35 335.85,337.01 335.89,336.74 335.93,339.45 335.97,338.93 336.02,339.98 336.06,340.74 336.1,339.65 336.14,341.16 336.18,340.77 336.22,341.36 336.27,341.79 336.31,342.31 336.35,343.65 336.39,343.31 336.43,343.54 336.48,343.89 336.52,344.84 336.56,344.3 336.61,345.06 336.65,345.87 336.69,345.91 336.74,346.72 336.78,346.78 336.83,349.32 336.87,349.23 336.92,348.97 336.96,349.02 337.01,351.27 337.06,350.22 337.1,350.35 337.15,351.11 337.2,351.56 337.24,352.89 337.29,352.2 337.34,354.34 337.39,352.41 337.44,354.12 337.49,353.21 337.54,355.91 337.59,354.64 337.64,355.31 337.69,356.55 337.74,357.26 337.79,355.82 337.85,356.88 337.9,356.49 337.95,358.16 338.01,358.42 338.06,358.67 338.12,358.85 338.17,359.53 338.23,359.69 338.29,361.16 338.34,362.4 338.4,360.09 338.46,361.99 338.52,362.19 338.58,363.37 338.64,362.66 338.7,363.75 338.76,363.48 338.83,365.31 338.89,365.28 338.95,365.52 339.02,366.39 339.08,366.34 339.15,365.74 339.21,367.91 339.28,368.1 339.35,368.19 339.42,369.55 339.49,370.18 339.55,368.78 339.63,369.47 339.7,371.78 339.77,372.13 339.84,370.85 339.91,370.95 339.99,371.84 340.06,372.41 340.13,371.99 340.21,373.74 340.29,373.15 340.37,373.66 340.45,375.82 340.53,375 340.61,375.95 340.69,376.96 340.78,377.57 340.87,377.1 340.95,377.87 341.04,377.63 341.14,380.14 341.23,379.71 341.32,378.76 341.42,380.1 341.52,381.12 341.62,381.38 341.73,382.9 341.83,382.98 341.94,381.9 342.05,382.7 342.17,382.18 342.28,383.84 342.4,384.19 342.52,386.67 342.65,385.01 342.78,383.68 342.91,385.24 343.04,386.28 343.18,385.6 343.31,386.32 343.46,387.13 343.6,388.1 343.75,388.09 343.9,387.9 344.06,389.63 344.22,388.96 344.4,389.38 344.6,389.07 344.81,389.93 345.04,391.47 345.28,390.04 345.54,391.67 345.8,392.68 346.08,392.19 346.36,393.06 346.66,392.34 346.96,394.65 347.27,394.84 347.59,394.5 347.92,393.25 348.24,394.15 348.57,396.09 348.91,396.99 349.24,396.16 349.58,397.2 349.92,395.99 350.25,396.59 350.6,396.99 350.95,397.58 351.31,396.25 351.69,398.46 352.07,399 352.46,397.24 352.86,397.29 353.27,398.86 353.68,398.26 354.1,397.07 354.53,399.8 354.97,399.45 355.41,399.11 355.85,401.34 356.3,399.91" fill="none" stroke="#e3004f" stroke-width="1.4" stroke-linejoin="round"/>
<polyline points="356.1,428.1 356.75,428.49 357.39,427.32 358.01,427.3 358.63,428 359.23,427.05 359.81,426.96 360.38,428.49 360.94,427.7 361.48,427.53 361.99,427.2 362.49,427.07 362.97,427.77 363.43,426.52 363.86,427.96 364.27,425.67 364.65,426.19 365.01,425.26 365.34,426.06 365.64,426.74 365.91,427.47 366.16,425.77 366.37,426.31 366.54,426.01 366.69,425.71 366.81,425.41 366.92,426.61 367.03,425.49 367.14,427.39 367.24,427.82 367.33,427.85 367.42,428.19 367.5,428.54 367.57,431.81 367.65,429.9 367.71,432.86 367.77,432.7 367.82,432.47 367.87,432.3 367.92,434.43 367.96,435.24 367.99,433.24 368.02,433.76 368.04,434.81 368.07,434.2 368.1,435.46 368.12,433.32 368.15,434.11 368.17,432.55 368.2,435.09 368.22,432.67 368.24,431.31 368.26,432.77 368.28,432.55 368.31,433.96 368.33,431.91 368.35,431.91 368.37,432.11 368.38,432.61 368.4,430.98 368.42,431.54 368.44,430.79 368.46,429.78 368.47,429.71 368.49,429.29 368.51,428.15 368.52,429.45 368.54,426.95 368.55,428.57 368.57,427.95 368.58,426.66 368.59,425.66 368.61,425.62 368.62,425.7 368.63,425.43 368.65,424.56 368.66,424.62 368.67,422.86 368.68,422.97 368.69,421 368.71,422.33 368.72,421.29 368.73,420.29 368.74,420.99 368.75,420.05 368.76,416.68 368.77,418.39 368.78,416.61 368.79,418.05 368.8,418.6 368.81,415.61 368.82,415.49 368.83,414.64 368.84,414.52 368.85,414.16 368.86,414.07 368.87,411.65 368.88,413.1 368.89,410.5 368.9,410.86 368.91,410.97 368.92,410.01 368.93,408.09 368.94,407.68 368.95,407.28 368.96,407.02 368.97,407.39 368.98,404.85 368.99,405.68 369,405.21 369.01,404.6 369.02,403.95 369.03,404.23 369.04,402.85 369.05,402.59 369.06,401.81 369.07,402.25 369.09,398.76 369.1,400.78 369.11,399.03 369.12,398.51 369.14,397.45 369.15,396.24 369.16,396.95 369.18,396.23 369.19,396.71 369.2,394.69 369.22,396.56 369.23,395.18 369.25,394.31 369.26,393.49 369.27,392.98 369.29,392.25 369.3,392.27 369.31,392.26 369.33,391.66 369.34,390.22 369.35,390.69 369.37,389.74 369.38,390.13 369.39,391.04 369.4,389.6 369.42,388.4 369.43,386.9 369.44,386.61 369.45,385.94 369.47,387.42 369.48,385.78 369.49,385.99 369.5,384.99 369.51,385.11 369.52,385.71 369.54,383.59 369.55,383.41 369.56,382.59 369.57,383.48 369.58,381.51 369.59,380.97 369.61,380.32 369.62,379.85 369.63,380.9 369.64,382.13 369.65,378.83 369.66,379.93 369.68,378.92 369.69,377.39 369.7,377.59 369.71,377.18 369.72,376.36 369.73,378.01 369.74,374.49 369.76,375.86 369.77,375.37 369.78,374.19 369.79,374.33 369.8,374.46 369.82,373.43 369.83,373.19 369.84,372.95 369.85,370.32 369.86,372.68 369.88,372.87 369.89,371.38 369.9,370.96 369.91,368.57 369.93,369.15 369.94,368.14 369.95,367.87 369.97,368.66 369.98,366.79 369.99,366.88 370.01,365.01 370.02,365.96 370.03,365.71 370.05,364.62 370.06,364.16 370.08,365.79 370.09,362.86 370.11,362.54 370.12,362.28 370.14,363.44 370.15,363.71 370.17,361.84 370.18,360.55 370.2,360.33 370.21,361.08 370.23,359.05 370.25,360.49 370.26,360.01 370.28,358.48 370.3,358.49 370.31,358.12 370.33,358.31 370.35,355.78 370.37,357.12 370.39,355.42 370.4,354.66 370.42,354.9 370.44,354.2 370.46,353.13 370.48,352.19 370.5,352.27 370.52,353.73 370.54,353.69 370.56,352.19 370.58,352.17 370.6,350.36 370.63,350.26 370.65,350.1 370.67,348.56 370.69,348.18 370.71,348.6 370.74,347.82 370.76,346.77 370.79,347.48 370.81,346.51 370.83,347.09 370.86,345.82 370.89,345.14 370.92,345.03 370.95,344.34 370.98,343.5 371.01,343.26 371.05,343.73 371.08,343.2 371.12,343.26 371.16,340.43 371.2,341.02 371.24,340.55 371.28,340.57 371.32,339.62 371.36,339.13 371.41,339.71 371.45,338.78 371.5,337.26 371.55,338.81 371.59,338.09 371.64,336.38 371.69,337.06 371.74,335.36 371.79,336.4 371.85,334.87 371.9,333.96 371.95,333.85 372.01,333.09 372.06,333.41 372.12,332.94 372.18,332.38 372.23,331.46 372.29,328.53 372.35,331.08 372.41,329.05 372.47,330.31 372.53,330.57 372.59,329.44 372.65,328.46 372.72,328.18 372.78,327.77 372.84,326.99 372.91,326.51 372.97,325.8 373.04,327.04 373.1,325.63 373.17,325.96 373.23,324.55 373.3,324.36 373.36,323.72 373.43,323.78 373.5,323.62 373.56,322.71 373.63,321.53 373.7,321 373.77,322.51 373.83,320.51 373.9,320.06 373.97,321.02 374.04,320.27 374.11,319.38 374.18,318.19 374.24,319.95 374.31,317.93 374.38,317.61 374.45,316.58 374.52,315.14 374.6,314.75 374.67,315.7 374.74,315.23 374.81,314.28 374.89,313.08 374.96,312.41 375.04,312.85 375.12,311.5 375.2,312.93 375.28,312.69 375.36,313.58 375.44,311.56 375.52,309.94 375.61,309.26 375.69,306.75 375.78,308.59 375.87,308.48 375.96,308.94 376.05,308.21 376.14,307.75 376.24,307.01 376.33,306.92 376.43,307.11 376.53,304.66 376.64,304.7 376.74,303.52 376.85,305.49 376.95,304.8 377.06,303.93 377.18,301.94 377.29,302.61 377.41,301.85 377.53,301.68 377.65,301.04 377.77,301.19 377.9,300.04 378.03,300.62 378.16,299.71 378.3,298.87 378.46,298.61 378.63,297.95 378.82,298.55 379.02,297.28 379.24,297.34 379.47,296.4 379.71,295.14 379.97,296.67 380.23,294.71 380.5,295.72 380.77,295.13 381.06,293.09 381.34,293.29 381.63,293.25 381.92,292.63 382.22,291.97 382.51,293.13 382.8,291.97 383.09,292.09 383.37,291.06 383.65,291.28 383.92,290.05 384.19,290.25 384.45,290.36 384.7,289.55 384.93,288.76 385.16,287.87 385.37,288.48 385.57,288.23 385.75,287.35 385.92,286.55 386.07,287.19 386.2,288.34 386.31,285.7 386.39,285.8 386.47,285.4 386.54,282.59 386.61,284.27 386.67,283.1 386.74,284.25 386.79,282.4 386.85,281.42 386.91,281.3 386.96,281.03 387.01,279.86 387.06,279.68 387.11,278.04 387.15,278.34 387.2,278.54 387.24,278.9 387.28,277.3 387.32,276.37 387.36,276.53 387.4,275.84 387.43,275.81 387.47,274.82 387.51,273.35 387.54,273.16 387.58,272.63 387.61,272.29 387.65,271.8 387.68,270.64 387.72,269.23 387.75,270.07 387.79,268.71 387.82,270.15 387.86,269.91 387.9,268.42 387.94,270.21 387.98,270.3 388.02,269.68 388.06,270.98 388.1,271.22 388.14,268.87 388.19,270.82 388.23,270.53 388.27,270.73 388.31,271.39 388.35,270.34 388.39,270.75 388.43,270.9 388.47,271.32 388.51,272.23 388.55,271.56 388.58,272.32 388.62,274.07 388.66,274.02 388.7,274.87 388.74,273.56 388.78,274.97 388.82,275.69 388.85,276.71 388.89,276.77 388.93,278.55 388.97,278.34 389.01,278.98 389.04,279.57 389.08,280.72 389.12,280.37 389.16,282.25 389.19,282.32 389.23,282.67 389.27,283.18 389.3,284.15 389.34,285.13 389.38,285.66 389.41,285.77 389.45,286.74 389.49,286.68 389.52,288.13 389.56,287.63 389.59,286.51 389.63,289.73 389.66,289.23 389.7,288.66 389.74,289.89 389.77,289.79 389.8,292.63 389.84,291.8 389.87,290.59 389.91,292.73 389.94,292.43 389.97,294.73 390.01,292.81 390.04,292.3 390.07,294.6 390.1,294.72 390.14,295.11 390.17,294.18 390.2,296.69 390.23,298.14 390.26,295.72 390.29,298.64 390.32,297.69 390.35,300.48 390.38,299.4 390.41,299.35 390.44,300.83 390.47,300.82 390.5,300.38 390.53,301.87 390.56,301.34 390.59,300.77 390.62,304.28 390.65,302.82 390.68,303.07 390.71,304.27 390.74,303.21 390.77,303.82 390.79,304.95 390.82,305.39 390.85,306.31 390.88,307.6 390.91,306.78 390.94,308 390.97,308.54 391,307.64 391.02,309.14 391.05,308.65 391.08,310.71 391.11,310.67 391.14,310.77 391.17,310.14 391.2,311.75 391.23,311.5 391.26,313.12 391.29,312.91 391.32,312.81 391.34,314.65 391.37,314.94 391.4,314.34 391.43,316.19 391.46,315.47 391.49,315.91 391.53,316.71 391.56,316.46 391.59,317.16 391.62,317.83 391.65,319.64 391.68,320.06 391.71,319.1 391.74,321.05 391.78,320.18 391.81,320.97 391.84,321.82 391.87,321.79 391.91,323.94 391.94,322.66 391.97,321.95 392.01,324.4 392.04,323.48 392.08,324.02 392.11,322.32 392.15,325.96 392.18,326.26 392.22,326.7 392.25,327.29 392.29,328.31 392.33,327.37 392.36,328.6 392.4,327.71 392.44,328.47 392.48,330.05 392.52,329.96 392.56,329.03 392.6,330.84 392.64,330.85 392.68,330.79 392.72,332.24 392.76,332.02 392.8,331.53 392.85,332.35 392.89,335.1 392.93,332.92 392.98,334.76 393.02,335.52 393.07,335.99 393.11,334.95 393.16,336.12 393.2,336.94 393.25,337.92 393.3,337.21 393.34,337.25 393.39,339.43 393.44,339.96 393.49,339.82 393.54,339.49 393.59,340.75 393.64,340.96 393.69,342 393.74,340.78 393.79,342.32 393.85,342.55 393.9,342.24 393.95,343.75 394.01,344.05 394.06,344.14 394.12,345.24 394.18,344.24 394.23,345.78 394.29,346.61 394.35,346.94 394.41,348.03 394.47,346.65 394.53,346.86 394.6,348.7 394.66,349.32 394.72,351.1 394.79,350.34 394.85,349.6 394.92,351.39 394.99,350.51 395.05,350.45 395.12,354.17 395.19,352.79 395.26,353.54 395.34,353.87 395.41,355.31 395.48,354.53 395.56,355.72 395.63,354.37 395.71,354.52 395.79,357.21 395.87,357.69 395.95,357.36 396.03,357.58 396.11,357.97 396.2,357.72 396.28,359.95 396.37,359.69 396.45,360.01 396.54,360.35 396.63,361.34 396.73,361.36 396.82,362.01 396.92,360.93 397.02,362.73 397.12,364.53 397.22,362.83 397.33,363.6 397.44,364.87 397.55,365.38 397.66,365.58 397.78,364.24 397.89,366.39 398.02,365.49 398.14,366.23 398.27,367.78 398.39,367.55 398.53,368.88 398.66,371.19 398.8,369.73 398.94,370.12 399.09,369.25 399.23,369.88 399.39,369.97 399.54,370.81 399.7,370.77 399.86,371.52 400.03,372.28 400.19,372.04 400.37,372.09 400.54,372.51 400.73,374.34 400.91,374.39 401.1,375.52 401.3,375.88 401.51,375.12 401.74,376.28 401.98,374.93 402.23,378.25 402.49,377.71 402.77,376.91 403.06,376.48 403.36,378.04 403.67,376.56 403.99,377.75 404.32,379.28 404.66,379.05 405.01,378.91 405.36,380.36 405.73,379.07 406.1,380.42 406.47,380.08 406.86,380.09 407.25,381.42 407.64,380.53 408.04,383.12 408.45,381.4 408.86,383.72 409.27,381.52 409.68,383.13 410.1,381.94" fill="none" stroke="#e3004f" stroke-width="1.4" stroke-linejoin="round"/>
<polyline points="410.1,430.93 410.69,431.63 411.27,431.58 411.85,429.59 412.42,431.16 412.99,429.2 413.54,429.61 414.08,429.5 414.61,429.39 415.12,427.22 415.63,429.72 416.11,428.67 416.58,427.7 417.03,427.05 417.47,426.37 417.88,426.52 418.27,427.93 418.64,427.13 418.99,426.42 419.31,426.84 419.61,428.47 419.88,426.91 420.12,426.68 420.33,428.2 420.52,427.48 420.67,427.14 420.79,426.61 420.89,425.9 420.98,426.35 421.07,427.14 421.16,427.67 421.24,428.53 421.32,429.15 421.4,429.4 421.47,429.97 421.54,429.59 421.6,429.31 421.67,431.27 421.72,431.59 421.78,432.51 421.83,433.47 421.88,433.35 421.93,434.08 421.97,435.47 422.01,436.19 422.05,436.07 422.08,437.43 422.11,437.22 422.14,436.87 422.17,437.92 422.19,439.49 422.21,437.46 422.23,438.91 422.25,439.04 422.27,439.08 422.29,437.15 422.31,439.33 422.33,437.7 422.34,437.27 422.36,437.14 422.38,437.65 422.39,437.03 422.41,436.65 422.43,437.61 422.44,435.78 422.46,435.28 422.47,436.5 422.48,436.15 422.5,436.18 422.51,434.15 422.52,435.56 422.54,434.76 422.55,435.44 422.56,432.68 422.57,433.49 422.58,432.72 422.6,431.29 422.61,431.59 422.62,432.65 422.63,430.96 422.64,430.32 422.65,431.15 422.66,430.8 422.67,430.34 422.68,428.45 422.69,428.56 422.69,428.94 422.7,427.09 422.71,426.52 422.72,427.27 422.73,427.34 422.74,424.64 422.75,422.95 422.75,423.33 422.76,423.14 422.77,423.29 422.78,423.34 422.78,422.17 422.79,421.16 422.8,421.27 422.81,419.8 422.81,419.96 422.82,418.9 422.83,420.97 422.83,418.89 422.84,416.98 422.85,416.26 422.86,416.11 422.86,414.55 422.87,414.68 422.88,414.07 422.88,414.77 422.89,413.12 422.9,412.23 422.91,411.19 422.91,410.72 422.92,411.01 422.93,410.29 422.94,410.77 422.95,408.77 422.95,409.52 422.96,408.29 422.97,407.49 422.98,405.3 422.99,405.3 423,406.34 423,406.29 423.01,404.77 423.02,404.65 423.03,403.15 423.04,402.62 423.05,401.84 423.06,402.6 423.07,401.56 423.08,400.56 423.09,399.96 423.1,400.15 423.12,399.45 423.13,398.02 423.14,399.57 423.15,397.91 423.17,397.23 423.18,397.94 423.19,397.11 423.2,395.77 423.22,395.82 423.23,394.08 423.25,393.98 423.26,392.23 423.27,394.56 423.29,391.62 423.3,393.23 423.32,391.57 423.33,391 423.34,391.18 423.36,391.1 423.37,390.92 423.39,391.4 423.4,389.82 423.41,389.78 423.43,388.15 423.44,388.75 423.46,387.85 423.47,386.91 423.49,386.75 423.5,386.32 423.52,386.08 423.53,385.79 423.55,384.61 423.56,383.98 423.58,384.72 423.59,382.31 423.61,382.72 423.62,384.01 423.64,380.15 423.65,381.31 423.67,381.96 423.69,379.64 423.7,382.59 423.72,377.99 423.73,380.76 423.75,380.41 423.77,379.44 423.78,378.08 423.8,378.09 423.82,376.64 423.84,377.55 423.85,375.56 423.87,375.79 423.89,376.35 423.91,374.21 423.92,374.36 423.94,374.33 423.96,372.68 423.98,374.23 424,373.12 424.02,371.19 424.03,371.91 424.05,370.88 424.07,370.52 424.09,370.66 424.11,369.58 424.13,370.47 424.15,368.68 424.17,369.58 424.19,368.31 424.21,368.58 424.23,367.01 424.25,366.59 424.28,365.62 424.3,366.55 424.32,366.39 424.34,366.89 424.36,365.77 424.38,364.49 424.41,363.67 424.43,363.7 424.45,362.92 424.48,363.66 424.5,362.8 424.52,360.92 424.55,360.59 424.57,361.78 424.6,360.49 424.62,359.61 424.65,360.29 424.67,358.58 424.7,358.22 424.72,357.62 424.75,355.97 424.77,357.78 424.8,355.68 424.83,355.74 424.85,355.15 424.88,355.88 424.91,354.79 424.94,354.41 424.97,352.6 425,353.43 425.03,351.87 425.06,352.84 425.09,352.44 425.12,351.68 425.15,352.88 425.19,351.22 425.22,350.82 425.26,350.01 425.29,349.29 425.33,349.77 425.36,349.43 425.4,347.06 425.44,348.49 425.48,347.61 425.52,347.51 425.56,346.67 425.6,344.85 425.64,344.46 425.68,346.4 425.72,344.7 425.76,342.91 425.81,343.87 425.85,342.85 425.9,341.22 425.94,340.41 425.99,340.51 426.04,341.56 426.08,340.86 426.13,340.25 426.18,340.22 426.23,340.03 426.28,337.41 426.33,338.41 426.38,337.54 426.43,336.76 426.49,336.86 426.54,336.75 426.59,336.19 426.65,334.79 426.7,335.12 426.76,336.67 426.82,333.77 426.87,332.82 426.93,333.94 426.99,333.75 427.05,333.19 427.11,331.48 427.17,332.73 427.23,330.86 427.29,330.13 427.35,330.11 427.42,330.06 427.48,330.27 427.55,329.76 427.61,328.79 427.68,329.11 427.74,327.99 427.81,328.2 427.88,325.91 427.94,325.33 428.01,326.77 428.08,324.6 428.15,325.02 428.23,324.74 428.3,323.99 428.38,323.57 428.46,324.6 428.54,321.02 428.62,323.31 428.71,323.99 428.8,321.73 428.89,321.25 428.98,321.4 429.07,321.84 429.17,318.98 429.27,319.56 429.37,318.89 429.47,319.05 429.58,318.28 429.69,318.24 429.79,316.93 429.91,316.87 430.02,315.85 430.13,315.42 430.25,315.4 430.37,314.96 430.49,313.7 430.61,315.46 430.74,313.66 430.87,312.23 430.99,313.78 431.13,311.87 431.26,312.45 431.39,311.6 431.53,311.39 431.67,310.9 431.81,309.88 431.95,309.96 432.09,311.13 432.24,307.3 432.4,308.73 432.57,308.62 432.76,307.02 432.97,306.36 433.18,308.78 433.41,306.36 433.65,307.93 433.89,306.3 434.14,305.54 434.4,305.47 434.66,305.2 434.93,305.25 435.19,304.27 435.46,303.65 435.73,303.29 435.99,303.84 436.25,303.02 436.51,301.18 436.76,301.08 437,301.47 437.24,300.31 437.46,300.12 437.67,299.26 437.88,299.42 438.06,299.57 438.23,299.62 438.39,298.43 438.53,299.67 438.65,297.54 438.74,299.74 438.82,297.57 438.89,296.74 438.96,295.49 439.03,293.17 439.1,294.83 439.16,294.6 439.22,295.49 439.29,292.34 439.35,294.44 439.41,292.17 439.46,292.41 439.52,289.24 439.57,290.82 439.63,289.86 439.68,290.11 439.73,289.05 439.78,287.48 439.83,288.56 439.87,287.76 439.92,287.09 439.96,286.82 440.01,286.29 440.05,284.79 440.09,283.13 440.13,282.51 440.17,284.1 440.21,283 440.25,281.92 440.29,280.91 440.32,280.71 440.36,280.13 440.39,279.28 440.43,278.43 440.46,280.18 440.49,278.09 440.52,276.9 440.55,275.82 440.59,275.78 440.62,276.45 440.65,276 440.67,274.76 440.7,274.52 440.73,273.81 440.76,272.75 440.79,274.28 440.81,273.16 440.84,274.48 440.87,271.55 440.89,271.73 440.92,272.24 440.95,271.07 440.97,269.9 441,270.02 441.02,270.66 441.05,270.67 441.08,270.17 441.1,270.92 441.13,270.81 441.15,270.21 441.18,269.93 441.2,269.7 441.23,270.36 441.26,270.7 441.28,270.09 441.3,270.51 441.33,270.02 441.35,269.3 441.37,269.81 441.4,271.43 441.42,271.4 441.44,272.56 441.46,271.61 441.48,272.55 441.5,273.23 441.52,273.3 441.54,272.37 441.56,273.08 441.58,273.72 441.59,273.23 441.61,274.82 441.63,275.7 441.65,274.95 441.66,277.38 441.68,276.05 441.7,276.61 441.72,277.09 441.73,277.23 441.75,278.65 441.77,278.87 441.78,280.73 441.8,280.44 441.81,280.95 441.83,280.91 441.85,280.53 441.86,282.17 441.88,282.15 441.9,284.18 441.91,283.99 441.93,285.94 441.95,285.8 441.96,286.48 441.98,286.59 442,287.17 442.02,288.13 442.03,288.94 442.05,288.23 442.07,289.79 442.09,292.08 442.11,290.5 442.13,290.95 442.15,291.17 442.17,291.13 442.19,293.8 442.21,293.46 442.23,294.19 442.25,295.96 442.27,297.02 442.29,294.82 442.32,296.87 442.34,297.02 442.36,297.32 442.39,297.85 442.41,297.9 442.44,299.64 442.46,299.31 442.49,299.54 442.51,300.71 442.54,300.88 442.57,300.98 442.59,301.33 442.62,302.92 442.65,302.37 442.68,302.34 442.71,302.18 442.73,303.04 442.76,302.93 442.79,304.3 442.82,304.87 442.85,303.48 442.88,305.58 442.91,306.54 442.94,306.6 442.97,306.15 443,308.38 443.03,307.26 443.06,307.28 443.09,307.85 443.13,309.15 443.16,310.4 443.19,311 443.22,310.68 443.26,310.01 443.29,310.89 443.32,311.15 443.36,312.17 443.39,311.35 443.42,313.3 443.46,314.18 443.49,314 443.53,314.93 443.56,314.26 443.6,314.3 443.63,315.4 443.67,317.29 443.7,317.64 443.74,316.9 443.78,318.68 443.81,317.9 443.85,319.82 443.89,319.45 443.93,319.15 443.96,320.6 444,319.79 444.04,320.11 444.08,320.15 444.12,321.97 444.16,322.17 444.2,322.6 444.23,322.78 444.27,324.71 444.31,323.67 444.35,323.88 444.39,325.9 444.44,326.49 444.48,326.07 444.52,324.86 444.56,326.22 444.6,327.64 444.64,327.61 444.68,329.29 444.73,327.4 444.77,329.49 444.81,328.89 444.85,330.9 444.9,330.23 444.94,331.57 444.98,330.67 445.03,330.51 445.07,331.2 445.12,332.05 445.16,332.17 445.21,334.4 445.25,334.95 445.3,334.55 445.34,333.95 445.39,335.13 445.43,335.13 445.48,337.29 445.52,336.83 445.57,337.41 445.62,337.15 445.66,336.31 445.71,337.75 445.76,337.92 445.81,339.56 445.85,339.79 445.9,339.52 445.95,340.29 446,342.31 446.05,340.73 446.09,341.21 446.14,342.21 446.19,342.29 446.24,342.95 446.29,344.17 446.34,345.58 446.39,343.22 446.44,345.07 446.49,345.57 446.54,345.92 446.59,346.29 446.64,346.61 446.7,348.14 446.75,347.41 446.8,348.13 446.85,348.69 446.91,349.22 446.96,349.45 447.02,350.84 447.07,350.48 447.13,351.08 447.18,351.35 447.24,351.04 447.3,351.62 447.35,351.9 447.41,353.34 447.47,353.07 447.53,353.24 447.59,354.73 447.65,355.41 447.71,354.03 447.77,357.24 447.84,356.36 447.9,356.7 447.97,358.08 448.03,357.73 448.1,357.64 448.16,360.33 448.23,358.16 448.3,359.39 448.37,360.59 448.44,359.5 448.51,360.72 448.58,361.56 448.66,363.62 448.73,361.43 448.81,362.55 448.88,363.55 448.96,363.53 449.04,362.95 449.12,364.68 449.2,364.88 449.28,365.59 449.36,366.58 449.45,366.93 449.53,366.88 449.62,367.24 449.7,366.55 449.79,367.76 449.88,368.48 449.97,368.42 450.07,369.25 450.16,368.95 450.25,371.27 450.35,372.21 450.45,370.62 450.55,371.69 450.65,371.64 450.76,373.29 450.87,373.08 450.98,373.26 451.09,373.48 451.2,374.22 451.32,373.79 451.44,375.59 451.57,374.95 451.69,376.41 451.82,376.55 451.95,377.79 452.09,377.37 452.22,378.66 452.36,377.57 452.51,379.25 452.65,379.04 452.8,379.83 452.96,380.18 453.11,381.32 453.27,379.4 453.44,381.71 453.6,380.69 453.77,383.27 453.95,381.15 454.13,382.34 454.31,382.22 454.49,385.27 454.68,383.32 454.88,384.83 455.07,384.69 455.28,384.05 455.48,385.58 455.69,386.73 455.91,386.4 456.13,387.63 456.35,386.91 456.58,387.52 456.81,387.51 457.06,388.38 457.33,389.91 457.63,388.96 457.95,389.1 458.29,388.71 458.65,388.86 459.02,390.89 459.41,389.07 459.81,389.47 460.22,390.36 460.65,390.32 461.08,392.45 461.52,389.21 461.96,391.6 462.41,392.08 462.85,390.81 463.3,391.38" fill="none" stroke="#e3004f" stroke-width="1.4" stroke-linejoin="round"/>
<polyline points="464.1,435.65 464.61,435.99 465.11,433.36 465.61,432.27 466.11,433.78 466.6,433.72 467.08,431.75 467.56,429.8 468.03,432.3 468.49,430.58 468.94,431.26 469.38,429.97 469.81,429.38 470.23,429.01 470.63,430.26 471.02,429.97 471.4,426.87 471.76,427.61 472.11,429.58 472.44,427.68 472.75,426.72 473.04,427.67 473.32,427.45 473.57,427.35 473.81,426.95 474.02,427.01 474.21,426.83 474.37,427.42 474.52,426.47 474.63,426.87 474.72,426.99 474.81,428.21 474.89,427.62 474.97,427.45 475.04,428.25 475.11,428.5 475.18,429.46 475.25,429.45 475.31,430.99 475.37,431.17 475.43,430.65 475.49,430.96 475.54,432.63 475.59,432.99 475.64,433.17 475.69,432.73 475.73,433.12 475.78,435.53 475.82,436.53 475.86,437.19 475.9,436.14 475.93,438.6 475.97,437.9 476,439.16 476.03,439.66 476.06,439.12 476.09,439.66 476.11,438.79 476.14,439.97 476.16,439.44 476.18,441.33 476.21,441.05 476.23,441.71 476.25,441.23 476.27,440.37 476.29,441.08 476.31,440.39 476.33,441.07 476.34,440.69 476.36,439.49 476.38,440.1 476.4,439.95 476.41,439.44 476.43,440.17 476.44,440.58 476.46,438.64 476.48,438.38 476.49,436.56 476.5,437.94 476.52,437.37 476.53,435.64 476.55,437.24 476.56,437.11 476.57,435.67 476.58,435.56 476.6,434.67 476.61,435.63 476.62,433.37 476.63,433.89 476.64,435.24 476.66,433.26 476.67,433.11 476.68,432.13 476.69,430.81 476.7,431.22 476.71,431.06 476.72,429.39 476.73,429.95 476.74,430.13 476.75,429.45 476.76,426.78 476.77,426.7 476.78,425.63 476.79,427.21 476.8,426.27 476.8,425.76 476.81,423.91 476.82,423.1 476.83,423.5 476.84,422.93 476.85,421.57 476.86,421.77 476.87,421.57 476.88,420.64 476.89,419.03 476.9,417.57 476.9,418.45 476.91,418.19 476.92,417.25 476.93,416.51 476.94,415.7 476.95,416.23 476.96,415.03 476.97,414.58 476.98,413.12 476.99,412.81 477,412.86 477.01,411.35 477.02,410.58 477.03,410.76 477.04,411.42 477.06,410.06 477.07,410.53 477.08,408.72 477.09,408.04 477.1,406.65 477.12,406.79 477.13,407.89 477.14,406.5 477.15,406.34 477.17,405.83 477.18,404.79 477.2,404.18 477.21,403.98 477.22,403.97 477.24,403.35 477.25,402.93 477.27,402.21 477.28,401.02 477.29,400.97 477.31,399.98 477.32,401.08 477.34,398.15 477.35,399.2 477.36,400.84 477.38,398.2 477.39,397.12 477.41,397.56 477.42,398.15 477.43,396.54 477.45,396.71 477.46,395.85 477.48,395.02 477.49,397.39 477.5,394.47 477.52,393.54 477.53,393.12 477.55,393.37 477.56,392.94 477.57,392.78 477.59,391.82 477.6,390.11 477.62,391.23 477.63,390.11 477.64,389.67 477.66,388.27 477.67,388.54 477.69,387.97 477.7,388.07 477.72,386.48 477.73,387.24 477.75,386.84 477.76,385.4 477.78,385.34 477.79,384.71 477.81,385.67 477.82,382.47 477.84,383.76 477.86,382.26 477.87,382.79 477.89,383.36 477.91,381.73 477.92,381.89 477.94,380.66 477.96,382.43 477.97,381.16 477.99,380.88 478.01,378.47 478.02,378.2 478.04,379.49 478.06,378.02 478.08,377.52 478.1,377.54 478.12,375.82 478.13,376.99 478.15,375.94 478.17,375.85 478.19,374.48 478.21,374.98 478.23,373.56 478.25,374.43 478.27,374.12 478.29,373.5 478.31,372.73 478.33,372.37 478.36,369.25 478.38,371.63 478.4,370.3 478.42,370.14 478.44,369.39 478.47,368.05 478.49,368.29 478.51,368.79 478.54,368.95 478.56,366.87 478.59,366.19 478.61,367.63 478.64,365.31 478.66,367.23 478.69,365.16 478.71,363.96 478.74,365.01 478.77,365.12 478.79,362.17 478.82,364.12 478.85,362.2 478.88,363.16 478.91,361.22 478.94,359.81 478.97,361.02 479,360.91 479.04,361.4 479.07,360.65 479.1,359.37 479.14,358.18 479.18,357.5 479.21,357.23 479.25,356.35 479.29,356.34 479.33,354.08 479.37,355.8 479.41,355.19 479.45,356.81 479.5,354.91 479.54,353.47 479.58,353.86 479.63,351.97 479.68,352.02 479.72,350.56 479.77,352.75 479.82,351.62 479.87,349.76 479.92,350.2 479.97,350.56 480.02,349.74 480.08,349.2 480.13,347.76 480.19,347.49 480.24,347.62 480.3,347.84 480.35,345.99 480.41,345.3 480.47,346.67 480.53,344.56 480.59,345.72 480.65,344.6 480.72,344.67 480.78,344.91 480.84,343.62 480.91,343.24 480.98,341.44 481.04,341.18 481.11,341.8 481.18,342.07 481.25,341.51 481.32,341.81 481.39,339.76 481.46,339.23 481.54,339.43 481.61,338.2 481.69,337.69 481.76,336.46 481.84,337.65 481.92,335.56 481.99,336.39 482.07,334.41 482.15,335.98 482.24,333.84 482.33,334.9 482.42,332.5 482.51,332.98 482.61,333.82 482.72,331.79 482.82,332.04 482.93,331.15 483.04,329.24 483.16,330.88 483.28,330.53 483.41,328.85 483.53,329.75 483.66,328.21 483.8,327.61 483.94,327.97 484.08,326.98 484.22,328.93 484.37,325.42 484.53,326.83 484.68,326.6 484.84,323.81 485,323.59 485.17,325.01 485.34,323.77 485.51,324.06 485.69,324.27 485.87,322.67 486.06,321.73 486.25,320.03 486.46,322 486.72,320.74 487,321.38 487.31,320.97 487.64,319.34 488,321.5 488.37,320.66 488.75,320.15 489.14,318.2 489.54,318.5 489.94,318.08 490.33,317.87 490.73,316.99 491.11,317.92 491.47,317.43 491.83,317.22 492.16,316.2 492.46,317.31 492.74,316.1 492.99,313.42 493.2,314.76 493.37,314.87 493.5,315.33 493.59,313.95 493.64,313.61 493.68,312.89 493.72,313.54 493.77,312.22 493.81,311.66 493.85,311.1 493.89,311.67 493.93,310.32 493.96,308.92 494,310.26 494.03,308.69 494.07,309.01 494.1,308.5 494.13,308.62 494.16,307.95 494.19,306.09 494.22,305.86 494.24,304.39 494.27,306.19 494.3,304.62 494.32,304.8 494.35,302.84 494.37,300.86 494.39,303.13 494.41,301.37 494.44,300.81 494.46,300.14 494.48,300.01 494.49,299.31 494.51,297.01 494.53,298.55 494.55,296.65 494.57,296.1 494.58,297.26 494.6,296.02 494.62,294.42 494.63,292.62 494.65,293.66 494.66,293.38 494.68,292.32 494.69,290.82 494.7,290.63 494.72,289.71 494.73,290.34 494.74,290.29 494.76,289.94 494.77,288.02 494.78,288.29 494.8,288.05 494.81,286.72 494.82,286.54 494.84,287.91 494.85,285.93 494.86,286.05 494.88,284.58 494.89,284.56 494.9,282.78 494.92,283.76 494.93,284.39 494.94,284.78 494.96,283.75 494.97,283.04 494.99,282.26 495.01,281.48 495.02,281.6 495.04,282 495.05,280.69 495.07,281.89 495.09,280.21 495.11,279.44 495.13,279.96 495.15,279.35 495.17,279.53 495.19,281.51 495.21,280.44 495.23,280.8 495.25,281.6 495.27,281.75 495.29,280.43 495.31,282 495.34,281.38 495.36,281.24 495.38,281.76 495.4,280.47 495.42,281.19 495.44,281.97 495.46,282.8 495.48,282.29 495.5,282.77 495.52,283.96 495.54,284.63 495.56,284.46 495.58,285.22 495.6,284.25 495.62,284.71 495.64,285.61 495.66,285.53 495.68,285.79 495.7,287.96 495.72,286.93 495.74,286.78 495.76,288.42 495.78,289.99 495.8,289.08 495.82,290.5 495.84,289.68 495.86,290.17 495.88,290.54 495.9,291.52 495.92,293.65 495.94,291.81 495.96,294.61 495.98,293.06 496,294.25 496.02,295.69 496.04,296.1 496.06,296.41 496.08,295.46 496.1,297.66 496.13,297.15 496.15,300.62 496.17,298.99 496.19,299.91 496.21,299.45 496.23,300.58 496.25,300.53 496.28,302.95 496.3,302.55 496.32,303.81 496.34,303.4 496.36,304.14 496.39,306.16 496.41,304.94 496.43,304.85 496.46,307.19 496.48,306.52 496.5,307.65 496.53,309.29 496.55,308.45 496.57,310.35 496.6,309.64 496.62,311.9 496.65,312.29 496.67,311.36 496.7,312.07 496.72,312.06 496.75,313.37 496.78,314.59 496.8,312.97 496.83,315.31 496.85,313.97 496.88,314.79 496.91,314.5 496.93,318.06 496.96,316.88 496.99,317.48 497.01,317.19 497.04,319.03 497.07,316.95 497.09,319.1 497.12,321.3 497.15,319.68 497.18,320.45 497.2,321.42 497.23,320.69 497.26,321.8 497.29,323.01 497.31,322.84 497.34,323.44 497.37,323.31 497.4,324.29 497.43,324.54 497.45,326.11 497.48,325.97 497.51,325.65 497.54,324.34 497.57,327.32 497.6,327.8 497.63,326.91 497.66,326.5 497.69,327.64 497.72,329.74 497.75,328.6 497.78,329.53 497.81,330.53 497.84,331.78 497.87,331.24 497.9,331.62 497.93,331.72 497.96,333.91 497.99,333.91 498.03,333.43 498.06,332.84 498.09,333.78 498.12,335.32 498.16,334.73 498.19,336.47 498.22,336.5 498.26,336.89 498.29,337.63 498.32,337.96 498.36,337.33 498.39,338.2 498.43,340.78 498.46,338.39 498.5,339.43 498.53,341.11 498.57,340.58 498.61,340.51 498.64,340.55 498.68,342.49 498.72,343.33 498.76,344.08 498.8,343.45 498.83,344.69 498.87,343.48 498.91,344.89 498.95,344.66 498.99,345.79 499.03,346.7 499.07,347.41 499.11,346.21 499.15,348.46 499.2,347.52 499.24,347.53 499.28,348.66 499.32,348.08 499.37,349.7 499.41,350.37 499.45,350.43 499.5,351.47 499.54,351.23 499.59,351.94 499.63,351.23 499.68,352.86 499.73,352.6 499.77,353.36 499.82,354.1 499.87,354.77 499.92,353.75 499.97,354.26 500.02,355.72 500.07,356.79 500.12,357.14 500.17,358.01 500.22,358.79 500.27,358.6 500.32,358.63 500.38,358.28 500.43,358.8 500.48,359.63 500.54,360.67 500.59,361.09 500.65,361.37 500.71,361.7 500.77,362.78 500.83,362.9 500.89,363.42 500.95,363.89 501.01,363.66 501.07,363.73 501.14,365.4 501.2,365.8 501.27,365.74 501.34,366.04 501.41,368.65 501.48,366.67 501.55,367.56 501.62,368.4 501.7,367.72 501.77,369.18 501.85,370.98 501.93,370.74 502.01,370.94 502.1,371.36 502.18,371.42 502.27,372.54 502.36,372.1 502.45,372.33 502.54,373.19 502.63,374.27 502.73,374.25 502.83,374.96 502.93,373.23 503.03,376.24 503.13,377.59 503.24,377.22 503.35,376.32 503.46,376.32 503.57,377.65 503.69,377.06 503.8,378.84 503.92,378.26 504.05,379.86 504.17,380.6 504.3,378.29 504.45,380.57 504.6,380.21 504.77,380.07 504.95,381.15 505.14,381.9 505.34,383.35 505.55,381.74 505.77,384.23 506,385.44 506.24,384.72 506.48,385.09 506.74,385.05 507,384.51 507.27,386.26 507.54,386.5 507.82,387.12 508.1,388.92 508.39,387.75 508.68,387.79 508.98,388.95 509.28,386.86 509.6,387.25 509.93,388.1 510.27,388.09 510.63,389.39 511,388.79 511.38,390.65 511.78,390.67 512.18,390.26 512.6,389.52 513.03,390.5 513.47,390.82 513.92,389.48 514.38,390.76 514.84,391.18 515.32,390.91 515.8,392.1 516.3,391.92 516.79,390.37 517.3,391.2" fill="none" stroke="#e3004f" stroke-width="1.4" stroke-linejoin="round"/>
<polyline points="518.1,423.13 518.7,424.27 519.3,423.14 519.9,424.61 520.49,424.23 521.08,424.76 521.66,423.95 522.23,422.99 522.79,425.67 523.33,424.23 523.87,425.6 524.38,424.97 524.88,425.31 525.35,426.38 525.81,425.35 526.24,426.36 526.64,424.23 527.02,426.29 527.37,425.58 527.68,425.85 527.96,426.16 528.21,426.62 528.42,427.86 528.59,425.25 528.72,426.97 528.81,426.56 528.89,428.31 528.96,427.33 529.02,428.37 529.09,428.07 529.15,429.35 529.21,430.09 529.27,429.46 529.32,430.34 529.37,429.72 529.42,431.67 529.47,432.71 529.51,432.19 529.56,434.15 529.6,432.22 529.64,433.02 529.68,434.02 529.71,435.37 529.75,436.38 529.78,436.91 529.81,437.51 529.84,438.7 529.87,438.29 529.89,438.17 529.92,438.68 529.94,441.81 529.97,438.65 529.99,440.76 530.01,442.39 530.03,441.88 530.05,441.05 530.07,441.87 530.08,442.66 530.1,442.97 530.12,441.27 530.13,442.58 530.15,442.13 530.16,442.76 530.18,442.93 530.2,441.46 530.21,440.48 530.22,441.85 530.24,442.83 530.25,441.82 530.26,441.31 530.28,442.89 530.29,439.96 530.3,441.33 530.32,439.95 530.33,440.24 530.34,440.05 530.35,440.95 530.36,438.75 530.37,438.81 530.38,437.69 530.39,439.08 530.4,438.03 530.41,438.43 530.42,436.93 530.43,437.17 530.44,437.96 530.45,436.65 530.46,436.94 530.47,436.5 530.48,435.42 530.49,434.07 530.49,435.72 530.5,434.67 530.51,434.91 530.52,432.1 530.53,431.96 530.53,431.14 530.54,431.72 530.55,432.8 530.55,431.97 530.56,431.03 530.57,430.69 530.57,430.72 530.58,429.38 530.59,429.45 530.59,428.75 530.6,426.39 530.61,427.32 530.61,428.2 530.62,426.28 530.62,425.96 530.63,425.05 530.64,424.62 530.64,425.36 530.65,423.7 530.65,422.55 530.66,420.33 530.66,421.8 530.67,420.12 530.68,419.67 530.68,421.2 530.69,420.56 530.69,417.88 530.7,419.52 530.7,418.62 530.71,417.04 530.72,417.67 530.72,415.19 530.73,414.94 530.73,414.16 530.74,413.82 530.75,414.82 530.75,412.45 530.76,412 530.76,411.56 530.77,411.88 530.78,410.85 530.78,411.21 530.79,409.35 530.8,408.29 530.8,408.31 530.81,408.14 530.82,406.77 530.82,407.14 530.83,407.77 530.84,405.25 530.85,405.15 530.85,405.6 530.86,403.41 530.87,402.66 530.88,401.87 530.89,402.48 530.89,401.99 530.9,400.87 530.91,400.45 530.92,400.85 530.93,399.96 530.94,397.57 530.95,398.12 530.96,397.65 530.97,397.58 530.98,396.27 530.99,395.38 531,394.99 531.01,393.39 531.02,394.25 531.04,393.27 531.05,393.59 531.06,391.88 531.07,391.83 531.09,390.89 531.1,390.32 531.11,391.23 531.12,389.81 531.14,390.05 531.15,388.33 531.17,388.83 531.18,386.94 531.2,387.45 531.21,386.98 531.23,387.4 531.25,386.62 531.27,385.89 531.28,386.25 531.3,385.28 531.32,385.11 531.34,384.84 531.37,383.72 531.39,383.09 531.41,383.13 531.43,382.09 531.46,382.28 531.48,382.41 531.51,381.75 531.54,380.31 531.56,379.14 531.59,379.67 531.62,379.16 531.65,379.7 531.68,378.06 531.71,377.75 531.74,378.05 531.77,376.63 531.8,376.43 531.83,377.48 531.87,376.85 531.9,375.71 531.93,374.97 531.97,373.53 532,374.3 532.04,373.45 532.08,373.13 532.11,372.09 532.15,372.04 532.19,371.46 532.23,371.41 532.27,371.84 532.31,370.54 532.35,368.48 532.39,368.58 532.43,367.64 532.47,367.82 532.51,368.45 532.55,367.87 532.6,366.63 532.64,366.87 532.68,365.6 532.73,364.62 532.77,364.18 532.82,364.17 532.86,365.54 532.91,362.89 532.95,364.5 533,364.12 533.05,362.47 533.09,362.13 533.14,361.23 533.19,361.25 533.24,361.35 533.28,360.38 533.33,360.72 533.38,360.42 533.43,359.3 533.48,358.84 533.53,358.08 533.58,357.96 533.63,356.35 533.68,357.12 533.74,356.51 533.79,355.21 533.84,357.16 533.89,354.22 533.94,353.84 534,354.3 534.05,352.08 534.11,352.53 534.16,351.49 534.22,351.47 534.28,351.68 534.33,351.58 534.39,351.74 534.45,351.04 534.52,350.88 534.58,349.95 534.65,348.64 534.71,349.45 534.78,347.71 534.85,347.15 534.93,348.4 535,347.36 535.08,346.45 535.16,346.42 535.24,346.07 535.32,343.83 535.41,344.4 535.5,343.09 535.59,343.69 535.68,342.62 535.78,343.81 535.88,342.71 535.98,341.21 536.09,341.42 536.2,340.05 536.31,340.64 536.42,340.63 536.54,339.99 536.67,337.84 536.79,338.71 536.92,338.99 537.07,338.42 537.24,338.66 537.43,336.25 537.64,337.23 537.87,335.81 538.11,336.01 538.37,335.7 538.64,335.46 538.93,333.99 539.22,334.17 539.53,332.69 539.84,332.13 540.17,333.37 540.49,332.59 540.83,331.11 541.16,331.54 541.5,332.12 541.84,333.3 542.21,332.91 542.65,332.81 543.15,330.88 543.68,332.41 544.23,333.08 544.77,333.23 545.29,333.47 545.76,333.16 546.17,334.93 546.5,334.84 546.72,333.66 546.82,332.97 546.9,335.37 546.97,333.22 547.04,334.52 547.1,334.96 547.17,332.52 547.23,333.32 547.29,332.59 547.35,333.03 547.41,332.6 547.46,333.6 547.52,332.18 547.57,331.35 547.62,331.88 547.67,330.36 547.71,329.87 547.76,331.51 547.8,328.6 547.85,328.38 547.89,328.3 547.93,326.9 547.97,325.53 548.01,327.51 548.04,325.47 548.08,325.09 548.11,324.63 548.14,323.54 548.18,322.85 548.21,323.21 548.24,324.37 548.26,322.39 548.29,321.75 548.32,319.3 548.34,319.82 548.37,318.23 548.39,319.12 548.42,317.65 548.44,317.19 548.46,316.41 548.48,315.34 548.51,313.92 548.53,314.92 548.55,312.68 548.57,312.18 548.58,312.23 548.6,311.25 548.62,311.37 548.64,311.33 548.66,310.09 548.68,309.42 548.69,308.67 548.71,308.74 548.73,305.99 548.74,307.18 548.76,305.58 548.78,304.79 548.79,305.25 548.81,304.42 548.83,304.7 548.85,304.63 548.86,301.43 548.88,302.8 548.9,304 548.92,302.74 548.93,302.83 548.95,301.4 548.97,299.85 548.99,299.8 549.01,301 549.03,300.96 549.06,299.39 549.08,299.58 549.1,299.85 549.12,298.12 549.15,299.15 549.17,300.67 549.2,301.1 549.22,299.28 549.25,300.86 549.27,299.03 549.3,298.88 549.32,297.84 549.35,300.51 549.37,299.59 549.4,301.92 549.42,300.5 549.44,300.58 549.46,299.21 549.49,302.09 549.51,300.86 549.53,301.3 549.55,299.95 549.58,302.77 549.6,303.14 549.62,302.21 549.64,303.12 549.66,303.73 549.68,304.57 549.7,304.29 549.72,305.99 549.74,304.85 549.76,304.99 549.78,305.55 549.8,304.36 549.82,306.22 549.84,308.15 549.86,308.05 549.88,307.69 549.9,309.14 549.92,307.76 549.94,309.68 549.96,310.87 549.98,311.55 550,310.92 550.02,312.83 550.04,314.16 550.06,312.9 550.08,314.41 550.1,313.15 550.12,313.41 550.14,316.05 550.16,316.19 550.18,316.91 550.2,316.88 550.22,317.71 550.24,319.19 550.26,320.52 550.28,319.57 550.3,319.02 550.33,321.97 550.35,322.03 550.37,322.69 550.39,322.89 550.41,325.19 550.44,323.98 550.46,324.92 550.48,323.61 550.5,325.21 550.53,325.7 550.55,326.8 550.57,327.66 550.6,327.34 550.62,329.88 550.65,328.19 550.67,329.22 550.7,330.3 550.72,329.63 550.75,331.6 550.78,332.15 550.8,331.9 550.83,334.15 550.86,333.16 550.89,333.78 550.92,333.23 550.94,333.11 550.97,334.4 551,335.1 551.03,335.44 551.06,336.87 551.09,334.79 551.12,336.25 551.15,336.14 551.18,339.13 551.21,338.05 551.24,338.54 551.27,338.52 551.3,340.58 551.33,339.98 551.37,340.94 551.4,339.58 551.43,342.6 551.46,342.43 551.49,343 551.53,344 551.56,343.31 551.59,343.78 551.63,344.94 551.66,345.16 551.7,345.07 551.73,345.75 551.76,345.76 551.8,347.19 551.83,347.82 551.87,347.52 551.91,349.47 551.94,347.19 551.98,348.68 552.02,350.69 552.05,349.43 552.09,348.94 552.13,351.79 552.17,351.56 552.2,350.61 552.24,352.64 552.28,351.65 552.32,351.85 552.36,353.25 552.4,353.44 552.44,353.39 552.48,354.43 552.52,354.37 552.57,355.67 552.61,356.05 552.65,357.12 552.69,356.6 552.74,356.35 552.78,356.81 552.82,358.12 552.87,360 552.91,359.89 552.96,359.15 553,360.87 553.05,359.63 553.1,361.82 553.14,361.15 553.19,362.52 553.24,362.85 553.29,362.58 553.34,363.51 553.38,362.84 553.43,364.09 553.48,365.46 553.54,368.33 553.59,366.05 553.64,366.01 553.69,365.57 553.74,367.68 553.8,365.95 553.85,367.08 553.9,368.46 553.96,367.65 554.01,370.3 554.07,370.39 554.12,369.5 554.18,369.96 554.24,369.79 554.3,370.18 554.35,372.11 554.41,372.7 554.47,372.94 554.53,373.32 554.59,373.11 554.65,374.31 554.72,373.29 554.78,374.94 554.84,376.57 554.91,376.9 554.98,375.93 555.04,376.49 555.11,378.32 555.18,379.1 555.26,376.92 555.33,378.24 555.4,379.22 555.48,380.47 555.55,379.27 555.63,380.91 555.71,380.61 555.8,383.21 555.88,382.1 555.96,382.09 556.05,382.38 556.14,383.95 556.23,384.09 556.32,383.12 556.42,384.6 556.52,383.79 556.61,384.7 556.72,384.71 556.82,385.12 556.92,386.06 557.03,386.26 557.14,387.9 557.25,388.54 557.37,388.13 557.49,387.84 557.61,389.8 557.73,387.95 557.85,388.43 557.98,390.98 558.11,391.33 558.25,391.99 558.39,391.44 558.55,391.01 558.72,392.02 558.9,393.3 559.09,392.65 559.3,393.11 559.51,392.97 559.73,393.57 559.96,395.6 560.2,395.7 560.45,394.8 560.71,395.27 560.97,396.08 561.24,397.37 561.52,396.37 561.8,397.56 562.09,396.34 562.38,397.41 562.68,399.11 562.98,399.84 563.29,398.52 563.6,399.14 563.91,400.71 564.22,400.05 564.53,400.21 564.85,401.32 565.18,401.32 565.51,402.3 565.86,402.29 566.23,401.43 566.6,402.02 566.99,402.3 567.39,401.47 567.79,401.99 568.21,403.75 568.63,401.89 569.06,404.16 569.5,403.76 569.94,403.59 570.39,404.3 570.84,404.4 571.3,405.14" fill="none" stroke="#e3004f" stroke-width="1.4" stroke-linejoin="round"/>
<polyline points="571.3,431.64 571.55,431.14 571.81,430.53 572.08,431.66 572.36,430.37 572.64,428.37 572.93,428.37 573.23,427.63 573.53,427.8 573.84,427.59 574.16,428.91 574.48,425.3 574.81,427.31 575.14,426.59 575.48,425.46 575.82,425.72 576.17,425.28 576.52,425.6 576.88,426.27 577.24,424.19 577.6,426.43 577.97,425.07 578.4,426.63 578.89,425.86 579.41,426.66 579.93,426.3 580.44,426.92 580.9,426.31 581.31,425.83 581.63,427.28 581.85,427.55 581.96,428.9 582.06,425.89 582.15,427.67 582.24,429.05 582.32,427.6 582.4,428.86 582.48,431.22 582.56,431.16 582.63,429.85 582.69,432.25 582.76,432.63 582.82,432.89 582.88,433.17 582.93,433.67 582.98,433.4 583.03,434.3 583.08,435.93 583.13,436.07 583.17,438.05 583.21,436.9 583.24,435.84 583.28,438.07 583.31,439.12 583.34,439.73 583.37,439.99 583.4,439.76 583.43,442.07 583.45,440.75 583.47,442.23 583.5,441.77 583.52,441.33 583.54,443.67 583.55,440.72 583.57,442.19 583.59,443.3 583.6,442.69 583.62,443.57 583.63,442.86 583.65,442.53 583.66,444.57 583.67,442.58 583.69,442.54 583.7,441.69 583.71,441.84 583.72,442.82 583.74,442.59 583.75,441.97 583.76,441.23 583.77,442.14 583.78,440.01 583.79,440.88 583.8,440.71 583.81,439.98 583.82,440.52 583.83,439.58 583.84,439.18 583.85,440.97 583.86,439.8 583.87,439.84 583.88,438.58 583.88,438.97 583.89,438.46 583.9,438.43 583.91,438.98 583.92,436.51 583.92,436.49 583.93,435.83 583.94,432.64 583.94,433.9 583.95,434.6 583.96,434.64 583.96,433.21 583.97,434.12 583.98,433.76 583.98,431.92 583.99,432.9 584,432.67 584,431.14 584.01,429.47 584.01,430.91 584.02,429.08 584.02,428.38 584.03,428.24 584.03,427.18 584.04,427.92 584.04,427.13 584.05,426.93 584.05,425.86 584.06,424.19 584.07,424.13 584.07,424.39 584.07,422.78 584.08,424.87 584.08,421.75 584.09,420.89 584.09,421.69 584.1,420.78 584.1,419.57 584.11,418.81 584.11,418.74 584.12,418.47 584.12,417.81 584.13,416.36 584.13,416.35 584.14,416.08 584.15,415.41 584.15,411.73 584.16,412.89 584.16,412.38 584.17,412.22 584.17,411.95 584.18,411.94 584.18,411.11 584.19,409.92 584.2,409.45 584.2,410.25 584.21,407.76 584.21,407.92 584.22,408.35 584.23,406.79 584.23,404.31 584.24,405.68 584.25,404.5 584.26,404.16 584.26,404.54 584.27,403.52 584.28,402.39 584.29,402.77 584.29,401.87 584.3,401.08 584.31,400.71 584.32,400.16 584.33,399.18 584.34,398.58 584.35,398.47 584.36,397.2 584.37,396.47 584.38,398.05 584.39,396.35 584.4,396.07 584.41,395.53 584.42,395.2 584.43,394.75 584.44,394.34 584.45,393.19 584.46,394.13 584.47,392.38 584.49,393.31 584.5,390.5 584.51,390.73 584.52,391.92 584.53,390.56 584.54,389.69 584.56,390.08 584.57,388.49 584.58,388.94 584.59,386.65 584.6,387.61 584.62,387 584.63,387.5 584.64,387.32 584.65,385.49 584.67,387.01 584.68,384.79 584.69,383.17 584.71,382.46 584.72,385.15 584.73,383.39 584.75,382.5 584.76,381.96 584.77,381.24 584.79,382.74 584.8,381.14 584.82,382.19 584.83,380.15 584.85,377.98 584.86,380.08 584.88,378.66 584.89,378.31 584.91,379.31 584.92,377.39 584.94,378.08 584.95,376.7 584.97,375.65 584.99,376.21 585,374.87 585.02,375.88 585.04,375.22 585.05,374.05 585.07,374.03 585.09,373.55 585.1,372.42 585.12,372.91 585.14,371.56 585.16,371.79 585.18,370.08 585.2,370.47 585.22,370.27 585.23,368.86 585.25,368.71 585.27,368.17 585.29,368.73 585.31,367.12 585.33,367.59 585.36,368.01 585.38,366.63 585.4,364.6 585.42,365.54 585.44,365.83 585.46,364.32 585.49,364.98 585.51,364.14 585.53,363.53 585.55,362.54 585.58,361.89 585.6,361.64 585.62,361.45 585.65,361.37 585.67,360.84 585.7,359.81 585.72,359.66 585.75,359.46 585.78,357.41 585.8,357.64 585.83,357.17 585.85,357.2 585.88,356.69 585.91,356.26 585.94,355.32 585.96,356.1 585.99,355.34 586.02,353.35 586.05,354.23 586.08,352.87 586.12,354.68 586.15,352.5 586.18,352.1 586.22,352.03 586.26,351.35 586.29,351.02 586.33,351.85 586.37,350.34 586.41,350.37 586.46,350.15 586.5,348.02 586.55,349.7 586.59,348.44 586.64,348.21 586.69,346.3 586.74,347.19 586.79,346.41 586.85,345.2 586.9,347.01 586.96,345.18 587.02,344.09 587.08,343.99 587.14,344.11 587.2,343.84 587.26,342.95 587.33,343.01 587.39,342.77 587.46,340.16 587.53,340.31 587.6,339.5 587.67,339.89 587.75,340.53 587.82,339.45 587.9,337.65 587.98,337.82 588.06,338.44 588.15,336.76 588.23,336.67 588.32,336.56 588.4,334.42 588.49,336.07 588.59,335.29 588.69,335.04 588.8,333.36 588.92,333.08 589.05,332.77 589.18,333.01 589.33,332.41 589.47,332.01 589.63,332.9 589.8,332.06 589.97,330 590.14,329.62 590.33,331.08 590.51,329.03 590.71,329.96 590.91,329.72 591.11,327.6 591.33,327.43 591.54,327.32 591.76,326.19 591.99,325.74 592.21,325.85 592.45,326.51 592.69,325.15 592.96,325.03 593.28,324.53 593.64,323.53 594.03,325.53 594.45,322.21 594.89,323.31 595.34,324.03 595.81,322.22 596.29,323.58 596.76,323.87 597.23,321.94 597.7,322.56 598.15,321.27 598.58,322.33 598.99,321.75 599.36,321.6 599.71,322.26 600.01,321.28 600.27,321.71 600.47,320.86 600.62,319.09 600.72,319.95 600.79,319.8 600.86,317.91 600.93,319.78 601,318.39 601.07,318.24 601.14,316.83 601.2,317.19 601.26,316.94 601.33,316 601.39,315.87 601.44,313.65 601.5,315.96 601.56,313.49 601.61,312.14 601.66,312.61 601.71,312.19 601.76,312.77 601.81,311.07 601.86,311.48 601.91,309.94 601.95,311.91 602,310.02 602.04,310.58 602.08,307.62 602.12,308.39 602.16,306.5 602.2,307.14 602.24,306.63 602.28,304.21 602.31,303.97 602.35,303.35 602.38,302.47 602.41,302.48 602.45,301.69 602.48,300.69 602.51,301.32 602.54,301.07 602.57,298.97 602.6,298.97 602.63,298.81 602.65,298.02 602.68,297.04 602.71,297.65 602.73,297.08 602.76,296.36 602.78,295.06 602.81,296.24 602.83,295.46 602.85,293.18 602.88,292.84 602.9,293.33 602.92,291.19 602.94,291.6 602.97,290.78 602.99,289.66 603.01,289.52 603.03,287.94 603.05,288.26 603.07,286.61 603.09,289.55 603.11,288.47 603.13,287.79 603.15,286.61 603.17,286.74 603.19,286.54 603.21,285.93 603.23,285.46 603.25,283.62 603.28,284.34 603.3,283.22 603.32,282.38 603.34,282.1 603.36,283.06 603.38,283.28 603.4,281.08 603.43,283.33 603.45,282.89 603.47,281.2 603.5,280.95 603.52,281.1 603.54,281.8 603.57,280.58 603.59,279.9 603.62,280.98 603.65,279 603.67,280.73 603.7,281.53 603.73,280.86 603.76,281.27 603.78,281.09 603.81,281.35 603.84,280.97 603.86,280.3 603.89,280.92 603.91,281.19 603.94,282.42 603.96,282.9 603.99,282.13 604.01,281.41 604.04,281.67 604.06,282.35 604.08,283.88 604.11,283.32 604.13,283.3 604.15,283.05 604.18,284.69 604.2,284.56 604.22,284.64 604.25,285.13 604.27,286.78 604.29,285.7 604.31,287.58 604.33,287.64 604.36,287.12 604.38,288.23 604.4,287.87 604.42,287.77 604.44,288.69 604.46,288.66 604.48,290.28 604.51,290.38 604.53,291.33 604.55,292.06 604.57,289.42 604.59,292.7 604.61,291.54 604.63,293.66 604.65,293.38 604.67,294.72 604.69,296.29 604.72,294.4 604.74,296.49 604.76,296.85 604.78,295.98 604.8,298.6 604.82,298.69 604.84,298.85 604.86,299.27 604.88,303.01 604.91,300.72 604.93,300.2 604.95,301.49 604.97,302.54 604.99,303.13 605.02,303.97 605.04,303.8 605.06,305.67 605.08,305.44 605.1,305.34 605.13,306.37 605.15,307.31 605.17,308.88 605.2,309.18 605.22,309.1 605.24,309.97 605.27,310.7 605.29,312.73 605.32,311.17 605.34,312.59 605.37,313.36 605.39,312.56 605.42,314.02 605.44,314.53 605.47,314.55 605.5,315.9 605.52,316.79 605.55,317.37 605.58,316.81 605.61,317.6 605.63,319.81 605.66,317.51 605.69,319.03 605.72,320.02 605.75,319.88 605.78,320.73 605.81,320.79 605.84,321.71 605.87,322.58 605.9,321.83 605.93,322.61 605.96,322.86 605.99,323.03 606.02,323.79 606.05,323.35 606.08,325.3 606.11,326.52 606.14,326.97 606.17,327.07 606.2,325.73 606.23,328.17 606.26,326.83 606.29,327.81 606.32,329.78 606.36,327.9 606.39,329.88 606.42,329.88 606.45,329.98 606.49,329.85 606.52,331.34 606.55,331.08 606.58,332.74 606.62,333.33 606.65,331.7 606.69,332.85 606.72,333.45 606.75,333.21 606.79,333.71 606.82,335.12 606.86,335.34 606.89,334.63 606.93,335.97 606.97,337.27 607,336.34 607.04,337.01 607.07,339.47 607.11,339.71 607.15,337.8 607.19,338.47 607.22,340.3 607.26,339.5 607.3,340.7 607.34,340.99 607.38,342.25 607.42,340.22 607.46,340.93 607.5,342.16 607.54,344.41 607.58,343.92 607.62,343.13 607.66,345.34 607.7,345.96 607.75,345.64 607.79,346.02 607.83,347.09 607.88,348.15 607.92,347.75 607.96,348.51 608.01,348.49 608.05,348.67 608.1,348.69 608.15,350.08 608.19,350.08 608.24,350.57 608.29,351.96 608.33,352.05 608.38,352.81 608.43,351.3 608.48,353.45 608.53,352.98 608.58,353.25 608.63,353.66 608.68,355.76 608.73,355.9 608.78,355.11 608.83,355.22 608.89,356.59 608.94,356.66 608.99,358.8 609.05,356.75 609.1,356.9 609.16,358.61 609.22,359.27 609.27,359.81 609.33,360.76 609.39,362.26 609.45,360.78 609.51,361.07 609.57,360.54 609.64,362.6 609.7,363.53 609.77,363.09 609.83,364.69 609.9,364.22 609.97,365.86 610.04,365.36 610.1,364.7 610.18,365.48 610.25,365.21 610.32,365.5 610.4,367.55 610.47,368.48 610.55,369.8 610.63,368.63 610.7,368.94 610.78,368.68 610.87,370.81 610.95,370.77 611.03,370.43 611.12,371.9 611.2,372.24 611.29,370.74 611.38,373.27 611.47,373.23 611.56,373.25 611.66,373.67 611.75,375.84 611.85,376.11 611.95,376.78 612.05,374.84 612.15,375.67 612.25,377.35 612.35,376.09 612.46,376.92 612.57,376.48 612.68,379.84 612.79,379.64 612.9,379.58 613.01,379.82 613.13,379.76 613.25,380.25 613.37,381.56 613.5,381.01 613.64,383.1 613.77,382.27 613.92,382.52 614.06,384.81 614.22,384.21 614.37,385.31 614.54,385.07 614.71,384.12 614.88,386.86 615.06,385.82 615.25,388.21 615.44,386.52 615.64,386.65 615.85,388.73 616.06,389.11 616.28,389.1 616.51,388.23 616.74,390.04 616.98,388.22 617.24,389.03 617.51,388.76 617.8,389.07 618.12,390.03 618.46,388.8 618.81,389.71 619.19,389.74 619.58,387.73 619.99,388.06 620.41,388.57 620.85,388.25 621.3,388.81 621.77,386.82 622.24,388.73 622.73,388.5 623.23,387.49 623.73,386.21 624.25,386.99 624.77,386.18 625.3,386.65" fill="none" stroke="#e3004f" stroke-width="1.4" stroke-linejoin="round"/>
<polyline points="625.3,423.73 625.45,425.23 625.6,425.11 625.76,427.39 625.92,425.13 626.08,426.87 626.24,428.74 626.41,427.78 626.57,430.18 626.74,429.19 626.92,430.77 627.09,430.46 627.27,431.31 627.45,432.24 627.63,432.42 627.82,432.58 628,434.95 628.19,433.54 628.38,433.04 628.58,434.81 628.77,434.94 628.97,435.45 629.16,436.06 629.36,434.01 629.56,435.71 629.77,435.85 629.97,434.98 630.18,435.2 630.39,432.56 630.62,434.35 630.86,436.01 631.12,432.83 631.38,433.45 631.65,433.67 631.93,433.41 632.21,433.72 632.49,430.45 632.77,431.33 633.05,431.41 633.32,429.1 633.58,429.57 633.83,430.58 634.07,429.65 634.3,428.59 634.51,425.69 634.7,427.37 634.86,427.57 635.01,426.88 635.13,427.05 635.24,429.63 635.35,427.11 635.46,426.7 635.57,427.92 635.67,427.78 635.78,428.15 635.88,428.74 635.97,429.88 636.07,429.95 636.16,429.33 636.26,430.75 636.34,431.82 636.43,431.68 636.52,433.61 636.6,433.96 636.68,433.2 636.75,434.92 636.83,436.92 636.9,437.24 636.96,436.61 637.03,438.03 637.09,437.4 637.15,437.4 637.2,439.6 637.26,439.92 637.31,440.67 637.35,440.74 637.39,441.48 637.43,441.23 637.47,442.39 637.5,442.99 637.53,442.54 637.55,443.44 637.58,441.51 637.59,442.36 637.61,444.15 637.62,444.39 637.64,443.15 637.65,442.82 637.66,441.83 637.67,443.07 637.69,443.31 637.7,441.41 637.71,442.92 637.72,442.74 637.73,442.56 637.74,441.16 637.75,442.33 637.76,440.52 637.77,442.72 637.78,441.43 637.79,440.18 637.8,441.96 637.81,441.57 637.82,439.88 637.83,441.91 637.84,439.07 637.84,439.84 637.85,440.25 637.86,437.18 637.87,439.49 637.87,438.31 637.88,438.02 637.89,436.82 637.89,437.6 637.9,436.08 637.91,435.83 637.91,435.86 637.92,434.85 637.92,436.69 637.93,433.97 637.94,434.01 637.94,433.94 637.95,433.77 637.95,433.96 637.96,433.54 637.96,432.19 637.97,431.66 637.97,431.53 637.97,431.68 637.98,431.1 637.98,429.64 637.99,427.92 637.99,430.78 638,429.32 638,428.26 638,427.8 638.01,426.59 638.01,425.68 638.01,425.68 638.02,425.23 638.02,424.37 638.02,423.15 638.03,423.52 638.03,423.67 638.04,422.26 638.04,422.11 638.04,419.87 638.05,420.79 638.05,420.28 638.05,418.82 638.06,417.84 638.06,418.97 638.06,417.41 638.07,417.86 638.07,416.55 638.07,416.79 638.08,415.43 638.08,413.9 638.08,414.44 638.09,413.65 638.09,413.84 638.09,412.35 638.1,411.8 638.1,412.2 638.1,411.84 638.11,410.92 638.11,410.54 638.12,409.47 638.12,409.12 638.13,408.61 638.13,407.63 638.13,406.76 638.14,406.23 638.14,407.44 638.15,404.93 638.15,404.14 638.16,403.45 638.16,403.12 638.17,402.76 638.18,401.07 638.18,399.81 638.19,401.05 638.19,398.95 638.2,399.87 638.21,399.21 638.21,399.45 638.22,399.3 638.23,397.7 638.23,396.41 638.24,395.36 638.25,395.12 638.26,395.24 638.26,393.02 638.27,394.2 638.28,393.6 638.29,393.61 638.3,392.31 638.31,392.14 638.32,390.97 638.33,390.68 638.34,389.14 638.35,390.17 638.36,390.83 638.37,389.25 638.38,388.95 638.39,387.41 638.4,388.89 638.41,386.68 638.43,387.48 638.44,386.48 638.45,385.17 638.47,386.31 638.49,385.05 638.5,384.73 638.52,384.5 638.54,383.67 638.56,382.93 638.58,383.16 638.6,382.01 638.62,381.94 638.64,380.9 638.66,379.79 638.68,379.99 638.71,379.68 638.73,379.64 638.76,380.13 638.78,377.38 638.81,378.38 638.83,376.06 638.86,376.54 638.89,376.52 638.92,374.67 638.95,374.54 638.98,375.69 639.01,375.18 639.04,374.58 639.07,373.58 639.1,375.49 639.14,373.19 639.17,372.18 639.2,373.76 639.24,372.46 639.27,371.22 639.31,372.02 639.35,370.74 639.38,370.68 639.42,369.9 639.46,368.44 639.5,369.59 639.53,368.49 639.57,367.11 639.61,366.85 639.65,367.78 639.69,366.27 639.74,366.15 639.78,366.19 639.82,365.32 639.86,363.55 639.91,364.83 639.95,364.62 639.99,364.11 640.04,364.26 640.08,362.81 640.13,362.7 640.17,362.9 640.22,360.95 640.27,362.12 640.31,361.67 640.36,360.46 640.41,360.86 640.46,359.62 640.51,357.79 640.56,358.96 640.61,357.86 640.65,357.48 640.71,356.83 640.76,357.35 640.81,356.26 640.86,354.81 640.91,355.31 640.96,355.06 641.02,353.45 641.07,353.23 641.13,352.82 641.18,352.19 641.24,352.5 641.3,352.58 641.37,352.82 641.43,351.81 641.5,351.21 641.56,350.85 641.63,350.55 641.7,348.72 641.78,349.12 641.85,348.37 641.93,347.55 642.01,346.84 642.09,346.34 642.18,346.08 642.26,344.86 642.35,345.81 642.44,344.93 642.54,344.59 642.63,344.33 642.73,344.2 642.83,342.7 642.94,342.66 643.04,341.02 643.15,340.1 643.27,339.9 643.38,342.26 643.5,339.15 643.62,340.57 643.75,340.96 643.88,339 644.01,340.27 644.15,340.04 644.3,338.9 644.46,339.6 644.65,337.74 644.84,336.19 645.05,336.7 645.28,335.44 645.52,334.26 645.76,333.8 646.02,336.18 646.29,333.43 646.56,333.39 646.85,332.44 647.14,332.66 647.44,331.97 647.74,331.48 648.04,330.51 648.35,330.07 648.66,330.36 648.98,331 649.29,332.29 649.61,331.38 649.92,331.97 650.26,330.96 650.66,330.66 651.09,329.91 651.55,331.27 652.03,329.89 652.5,331.74 652.96,333.66 653.4,332.99 653.8,333.97 654.16,333.06 654.45,332.5 654.67,333.37 654.8,333.5 654.87,334.77 654.95,335.34 655.03,333.09 655.1,333.29 655.17,333.32 655.24,333 655.3,332.09 655.37,332.94 655.43,332.91 655.5,332.66 655.56,331.09 655.61,331.65 655.67,330.01 655.73,331.77 655.78,329.84 655.83,330.03 655.88,329.46 655.93,328.91 655.98,328.07 656.03,327.02 656.07,329.32 656.12,327.63 656.16,327.11 656.2,328.03 656.24,325.71 656.28,325.67 656.32,324.66 656.35,325 656.39,323.85 656.42,323.08 656.46,322 656.49,321.8 656.52,321.87 656.55,318.63 656.58,319.53 656.61,318.64 656.64,318.07 656.67,316.07 656.69,317.56 656.72,315.63 656.75,315.45 656.77,314.56 656.79,312.95 656.82,313.25 656.84,311.47 656.86,311.52 656.89,311.35 656.91,310.94 656.93,310.33 656.95,309.52 656.97,310.69 656.99,308.69 657.01,306.74 657.03,306.6 657.05,305.95 657.07,305.73 657.09,304.8 657.11,304.01 657.13,305.45 657.15,303.61 657.17,302.76 657.19,302.3 657.21,301.81 657.23,302.6 657.25,301.39 657.27,301.45 657.29,297.61 657.31,299.94 657.33,300.12 657.35,300.47 657.37,298.55 657.4,296.82 657.42,298.35 657.44,297.1 657.46,295.88 657.49,296.57 657.51,297.7 657.54,297.62 657.56,297.08 657.59,295.53 657.62,298.27 657.64,295.25 657.67,296.08 657.7,294.97 657.73,297.2 657.76,296.54 657.79,296.95 657.82,296.39 657.85,296.37 657.88,296.69 657.9,295.19 657.93,297.66 657.96,297.78 657.99,296.94 658.01,297.47 658.04,297.96 658.07,299.24 658.09,298.6 658.12,298.59 658.15,298.46 658.17,297.99 658.2,299.06 658.22,299.95 658.25,300.06 658.27,300.71 658.3,301.65 658.32,301.82 658.35,302.12 658.37,302.86 658.4,302.94 658.42,303.23 658.45,304.1 658.47,302.83 658.5,305.71 658.52,304.18 658.55,306.4 658.57,306.26 658.6,307.67 658.62,307.35 658.64,307.11 658.67,309.28 658.69,309.12 658.72,309.64 658.74,310.18 658.76,311.49 658.79,311.92 658.81,312.04 658.84,311.2 658.86,312.71 658.89,313.71 658.91,315.66 658.94,315.13 658.96,315.34 658.99,316.98 659.01,316.53 659.04,317.2 659.06,317.94 659.09,317.22 659.11,319.78 659.14,319.95 659.16,319.98 659.19,319.88 659.21,321.55 659.24,323.08 659.27,322.03 659.29,322.27 659.32,324.02 659.35,322.97 659.38,323.03 659.4,325 659.43,325.35 659.46,326.21 659.49,326.52 659.51,327.75 659.54,327.82 659.57,328.01 659.6,328.62 659.63,329.97 659.66,330.7 659.69,331.12 659.72,331.41 659.75,328.66 659.78,330.95 659.81,331.95 659.84,332.81 659.87,331.8 659.9,334.69 659.93,334.24 659.96,333.95 660,335.03 660.03,335.07 660.06,335.19 660.09,336.65 660.12,336.33 660.15,336.02 660.18,337.09 660.21,337.96 660.25,337.63 660.28,339.96 660.31,338.53 660.34,341.25 660.37,341.01 660.41,339.99 660.44,341.3 660.47,342.59 660.5,341.95 660.54,341.59 660.57,343.09 660.6,345.04 660.63,342.71 660.67,344.79 660.7,344.81 660.73,345.16 660.77,345.39 660.8,345.89 660.84,347.43 660.87,347.53 660.9,346.7 660.94,349.2 660.97,347.36 661.01,349.38 661.04,349.45 661.08,350.71 661.11,350.48 661.15,351.49 661.18,351.08 661.22,352.33 661.25,352.28 661.29,354.17 661.33,352.34 661.36,354.3 661.4,354.17 661.43,354.39 661.47,354.24 661.51,355.51 661.55,354.42 661.58,354.95 661.62,357.07 661.66,355.7 661.7,358.55 661.73,357.63 661.77,358.49 661.81,358.8 661.85,359.53 661.89,359.42 661.93,359.8 661.97,360.44 662.01,361.83 662.05,362.35 662.09,362.91 662.13,362.63 662.17,362.63 662.21,361.89 662.25,364.2 662.29,364.81 662.33,364.26 662.37,365.68 662.42,366.51 662.46,366.01 662.5,367.22 662.54,367.07 662.59,365.89 662.63,367.35 662.67,367.84 662.72,369.04 662.76,368.38 662.81,369.17 662.85,369.2 662.89,370.38 662.94,370.92 662.98,372.09 663.03,372.4 663.08,372.34 663.12,372.85 663.16,373.2 663.21,373.65 663.25,375.25 663.29,372.48 663.34,374.78 663.38,375.62 663.42,376.73 663.47,375.41 663.51,377.01 663.55,377.88 663.6,377.29 663.64,376.57 663.69,378.27 663.73,378.05 663.77,379.99 663.82,379.24 663.86,381.8 663.91,380.95 663.96,380.65 664,381.34 664.05,381.33 664.1,382.97 664.15,384.3 664.2,383.39 664.25,384.76 664.3,383.72 664.36,385.17 664.41,387.22 664.47,384.7 664.52,387.26 664.58,387.67 664.64,385.67 664.7,386.48 664.76,387.29 664.83,389.29 664.89,388.62 664.96,389.27 665.02,390.42 665.09,390.39 665.16,390.91 665.24,390.91 665.31,392.51 665.39,391.42 665.47,393.82 665.55,392.65 665.63,392.71 665.71,394.3 665.8,394.57 665.89,393.05 665.98,395.24 666.07,394.41 666.17,395.25 666.27,396.97 666.38,396.1 666.5,397.55 666.63,397.46 666.78,399.82 666.94,398.72 667.1,398.39 667.28,398.99 667.46,399.68 667.65,401.04 667.85,401.46 668.06,402.76 668.27,402.61 668.49,403.06 668.72,403.68 668.95,403.74 669.19,404.48 669.43,405.24 669.67,405.56 669.92,404.78 670.17,404.04 670.42,404.99 670.68,405.99 670.93,403.85 671.19,405.47 671.45,406.19 671.73,405.34 672.01,404.84 672.31,407.06 672.61,406.66 672.92,405.22 673.24,406.34 673.56,406.15 673.9,404.01 674.24,406.83 674.59,403.69 674.95,403.96 675.32,402.99 675.69,403.6 676.07,402.13 676.45,402.79 676.84,403.24 677.24,402.1 677.64,401.25 678.05,402.19 678.46,399.7 678.88,400.62 679.3,399" fill="none" stroke="#e3004f" stroke-width="1.4" stroke-linejoin="round"/>
<polyline points="679.3,428.92 679.93,428.68 680.56,428.67 681.19,428.45 681.81,427.79 682.43,427.9 683.04,428.65 683.64,428.16 684.23,427.26 684.8,427.59 685.37,427.56 685.91,428.04 686.43,428.2 686.94,428.1 687.42,427.48 687.88,428 688.31,426.88 688.71,425.66 689.08,427.91 689.42,426.62 689.73,427.18 690,426.97 690.23,428.43 690.42,426.96 690.57,428.15 690.68,427.54 690.75,426.96 690.81,426.78 690.88,428.57 690.94,428.74 691,429.34 691.05,430.54 691.11,429.69 691.16,430.15 691.21,430.33 691.26,431.05 691.31,431.25 691.35,431.41 691.39,434.35 691.43,431.9 691.47,434.25 691.51,435.07 691.55,435.51 691.58,435.3 691.61,436.58 691.64,437.03 691.67,437.18 691.69,438.63 691.72,438.95 691.74,439.41 691.76,440.94 691.79,440.05 691.8,441.71 691.82,441.28 691.84,442.48 691.85,442.5 691.87,442.88 691.88,442.08 691.89,442.35 691.9,442.31 691.91,443.13 691.92,443.56 691.93,443.78 691.94,442.45 691.95,442.84 691.95,441.39 691.96,440.8 691.97,441.75 691.98,441.77 691.99,440.91 691.99,440.56 692,442.22 692.01,440.95 692.01,440.04 692.02,443.01 692.03,441.05 692.03,440.41 692.04,440.93 692.04,439.51 692.05,441.09 692.06,438.29 692.06,438.15 692.07,438.76 692.07,437.92 692.08,439.3 692.08,436.53 692.09,436.86 692.09,437.24 692.09,437.11 692.1,437.05 692.1,436.11 692.11,437.17 692.11,434.61 692.11,434.68 692.12,434.77 692.12,433.38 692.13,432.93 692.13,432.32 692.13,431.69 692.14,430.81 692.14,430.77 692.14,429.47 692.14,430.5 692.15,428.41 692.15,430.8 692.15,429.97 692.16,428.96 692.16,427.37 692.16,426.52 692.16,427.41 692.17,426.02 692.17,425.76 692.17,424.17 692.18,425.03 692.18,422.96 692.18,423.11 692.18,421.06 692.19,421.34 692.19,421.67 692.19,420.32 692.19,419.73 692.2,420.12 692.2,418.84 692.2,419.29 692.21,415.77 692.21,417.55 692.21,416.9 692.21,414.67 692.22,414.26 692.22,415.39 692.22,413.24 692.23,412.98 692.23,413.37 692.23,412.03 692.24,412.07 692.24,410.4 692.25,410.74 692.25,410.77 692.25,409.57 692.26,406.98 692.26,408.66 692.27,407.6 692.27,406.26 692.27,407.51 692.28,404.44 692.28,406.75 692.29,404.19 692.29,405.39 692.3,403.54 692.31,401.97 692.31,402.56 692.32,402.21 692.32,401.84 692.33,401.72 692.33,399.64 692.34,400.23 692.35,399.92 692.35,398.61 692.36,397.59 692.37,397.08 692.38,397.96 692.38,397.53 692.39,395.77 692.4,394.91 692.41,396.51 692.42,393.83 692.42,394.74 692.43,393.52 692.44,392.31 692.45,393.36 692.46,392.65 692.47,393.5 692.48,393.7 692.49,391.29 692.5,391.8 692.51,391.36 692.52,389.66 692.53,388.93 692.54,390.44 692.55,388.42 692.56,388.23 692.57,387.56 692.58,387.23 692.6,386.4 692.61,387.02 692.62,386.97 692.64,385.21 692.65,383.95 692.66,384.64 692.68,382.95 692.69,383.17 692.71,384.2 692.72,384.62 692.74,382.61 692.76,381.01 692.77,382.02 692.79,379.15 692.81,379.93 692.83,381.24 692.84,380.17 692.86,378.02 692.88,377.34 692.9,378.89 692.93,377.72 692.95,376.83 692.97,377.18 692.99,375.94 693.02,374.41 693.04,376.13 693.06,374.52 693.09,373.79 693.12,373.07 693.14,373.88 693.17,372.59 693.2,373.28 693.23,372.12 693.25,372.75 693.28,371.13 693.32,370.47 693.35,368.98 693.38,369.22 693.41,370.23 693.45,371.64 693.48,367.77 693.52,367.5 693.55,368.15 693.59,367.82 693.63,366.46 693.67,366.62 693.71,364.84 693.75,365.44 693.79,365.96 693.83,366.11 693.87,364.24 693.92,363.73 693.96,363.86 694.01,363.95 694.07,363.02 694.16,361.61 694.27,362.05 694.39,362.11 694.53,360.34 694.69,359.41 694.86,360.45 695.04,359.91 695.23,359.97 695.43,358.85 695.63,357.85 695.84,357.6 696.04,356.73 696.25,356.39 696.45,356.3 696.66,355.96 696.87,356.81 697.1,354.49 697.33,354.96 697.57,354.06 697.82,355.23 698.08,353.77 698.34,352.79 698.61,353.27 698.89,352.23 699.18,351.39 699.46,352.6 699.76,351.6 700.05,352.1 700.35,351.39 700.65,350.89 700.96,350.24 701.26,349.21 701.58,350.64 701.92,350.2 702.28,350.8 702.68,350.43 703.09,350.1 703.52,350.11 703.96,351.77 704.42,352.56 704.88,351.66 705.35,352.62 705.81,353.75 706.28,352.38 706.73,353.17 707.18,352.95 707.61,355.17 708.02,354.82 708.41,354.61 708.78,354.01 709.12,355.49 709.43,356.71 709.71,355.93 709.94,356.03 710.14,357.03 710.29,355.64 710.39,356.71 710.45,357.13 710.52,356 710.58,355.9 710.64,356.66 710.7,356.27 710.76,356.02 710.82,356.2 710.87,356.02 710.93,354.89 710.98,354.86 711.03,355.48 711.08,355.73 711.13,355.61 711.18,353.53 711.23,354.73 711.27,354.1 711.32,353.08 711.36,353.09 711.4,352.94 711.44,353.26 711.49,350.55 711.52,351.39 711.56,350.32 711.6,349.76 711.64,350.32 711.67,349.53 711.71,347.53 711.74,347.56 711.78,347.4 711.81,345.52 711.84,346.74 711.87,345.39 711.9,344.98 711.93,344.5 711.96,345.04 711.99,343 712.02,342.05 712.04,343.07 712.07,340.64 712.09,339.97 712.12,338.62 712.14,339.91 712.17,338.6 712.19,338.09 712.21,337.18 712.23,336.26 712.26,335.07 712.28,334.4 712.3,334.69 712.32,333.77 712.34,334.29 712.36,331.73 712.38,331.28 712.4,330.19 712.42,331.43 712.44,328.7 712.46,329.64 712.47,329.52 712.49,327.63 712.51,327.69 712.53,324.81 712.55,325.57 712.56,323.95 712.58,324.81 712.6,324.09 712.62,322.9 712.63,323.69 712.65,322.66 712.67,321.43 712.69,320.91 712.7,319.63 712.72,320.15 712.74,321.49 712.76,318.78 712.78,319.22 712.79,318.01 712.81,318.66 712.83,317.97 712.85,317.05 712.87,315.46 712.89,316.12 712.91,317.15 712.93,315.7 712.95,316.11 712.97,314.97 712.99,313.64 713.01,315.23 713.04,314.96 713.06,314.08 713.08,314.1 713.11,314.51 713.13,313.72 713.15,314.4 713.18,313.93 713.21,312.22 713.23,313.99 713.26,313.69 713.28,313.59 713.31,314.68 713.33,314.12 713.36,315.11 713.38,315.75 713.41,315.23 713.43,314.14 713.46,315.07 713.48,316.67 713.5,316.07 713.53,315.98 713.55,316.92 713.58,317.78 713.6,317.99 713.62,318.72 713.65,318 713.67,318.9 713.69,319.39 713.72,320.06 713.74,318.92 713.76,320.91 713.79,320.56 713.81,323.26 713.83,323.94 713.85,324.6 713.88,324.48 713.9,324.03 713.92,325.75 713.94,325.42 713.97,326.66 713.99,326.05 714.01,326.9 714.04,328.33 714.06,329.97 714.08,329.15 714.11,331.55 714.13,332.54 714.15,329.95 714.18,331.53 714.2,331.39 714.22,332.61 714.25,332.88 714.27,333.82 714.29,335.19 714.32,335.73 714.34,335.73 714.37,336.06 714.39,336.67 714.42,337.19 714.44,338.03 714.47,338.06 714.49,338.92 714.52,337.94 714.54,340.05 714.57,341.26 714.59,340.47 714.62,339.66 714.64,342.3 714.67,341.42 714.69,339.77 714.72,342.41 714.74,343.51 714.77,343.79 714.79,344.92 714.82,344.88 714.84,344.94 714.87,343.72 714.89,344.86 714.92,346.33 714.94,347.18 714.97,346.28 714.99,347.06 715.02,348.36 715.04,346.93 715.07,347.35 715.09,349.16 715.12,349.99 715.14,349.87 715.17,348.88 715.19,351.17 715.22,350.55 715.24,352.57 715.27,352.42 715.29,353.16 715.32,353.91 715.35,353.43 715.37,354.96 715.4,355.74 715.42,355.52 715.45,356.71 715.47,355.61 715.5,357.28 715.53,357.22 715.55,356.68 715.58,357.85 715.6,357.94 715.63,358.37 715.66,359.33 715.68,360.55 715.71,359.91 715.74,360.71 715.76,359.9 715.79,361.6 715.82,362.88 715.84,363.06 715.87,363.24 715.9,362.9 715.93,362.99 715.95,364.14 715.98,363.61 716.01,364.14 716.04,366.31 716.07,365.29 716.09,367.89 716.12,365.79 716.15,367.71 716.18,366.89 716.21,368.41 716.24,367.9 716.27,369.2 716.3,369.5 716.33,369.71 716.36,370.93 716.39,372.17 716.42,370.95 716.45,372.57 716.48,372.39 716.51,372.75 716.54,374.96 716.57,371.95 716.6,373.58 716.63,373.14 716.67,374.77 716.7,375.29 716.73,378.94 716.76,376.65 716.79,378.25 716.83,378.3 716.86,377.37 716.89,378.55 716.93,379.94 716.96,379.21 716.99,379.69 717.03,380.37 717.06,379.23 717.1,380.23 717.13,381.59 717.17,382.2 717.2,381.49 717.23,382.42 717.27,383.03 717.3,383.45 717.34,384.57 717.37,384.56 717.4,385.06 717.44,384.26 717.47,384.99 717.51,386.53 717.54,385.47 717.58,387.39 717.61,387.11 717.65,387.44 717.68,389.05 717.72,388.45 717.76,388.76 717.79,389.35 717.83,390.38 717.86,392.97 717.9,389.56 717.94,391.68 717.98,391.95 718.01,393.35 718.05,392.75 718.09,391.53 718.13,395 718.17,393.53 718.21,394.8 718.25,394.21 718.29,394.88 718.33,395.8 718.37,397.33 718.41,397.77 718.46,397.07 718.5,398.4 718.54,398.15 718.59,398.99 718.63,399.47 718.68,400.29 718.72,399.76 718.77,400.59 718.81,401.32 718.86,401.66 718.91,401.41 718.96,403.86 719.01,402.57 719.06,403.99 719.11,403.99 719.16,405.25 719.21,402.99 719.26,406.8 719.31,405.45 719.37,405.09 719.42,406.62 719.48,408.76 719.53,407.81 719.59,406.87 719.65,407.93 719.71,409.81 719.76,408.07 719.82,409.49 719.89,409.84 719.95,412.24 720.01,410.73 720.07,412.45 720.14,411.31 720.2,411.66 720.27,413.54 720.34,413.7 720.4,412.29 720.47,414.65 720.54,415.13 720.61,414.62 720.69,415.78 720.76,416.31 720.84,416.21 720.92,416.64 721,417.08 721.08,417.9 721.16,417.56 721.25,419.09 721.34,418.44 721.43,420.19 721.53,420.56 721.62,420.3 721.72,422.29 721.83,423.63 721.94,423.62 722.05,421.95 722.16,424.51 722.28,424.12 722.4,424.35 722.53,424.35 722.66,425.23 722.79,426.75 722.93,426.47 723.08,426.08 723.23,426.24 723.38,426.79 723.54,427.91 723.7,429.24 723.87,427.21 724.04,428.32 724.22,428.27 724.41,428.21 724.64,429.35 724.9,429.7 725.18,428.35 725.5,428.87 725.85,430.85 726.22,430.36 726.62,430.71 727.04,430.09 727.47,430.37 727.93,431.21 728.4,430.61 728.89,430.28 729.38,431.31 729.89,432.17 730.4,430.76 730.92,432.53 731.45,432.35 731.97,431.21 732.5,431.98" fill="none" stroke="#e3004f" stroke-width="1.4" stroke-linejoin="round"/>
<polyline points="248.8,423.89 249.48,424.15 250.14,424.28 250.8,424.09 251.43,424.16 252.05,424.57 252.66,424.47 253.24,424.54 253.82,424.54 254.37,424.72 254.9,424.32 255.43,424.58 255.97,424.02 256.51,423.81 257.04,423.36 257.55,422.35 258.03,422.02 258.48,421.36 258.88,420.89 259.22,420.62 259.49,420.34 259.71,420.49 259.88,421.14 260.03,421.77 260.15,422.29 260.28,422.97 260.4,424.35 260.54,424.93 260.71,425.47 260.92,425.73 261.19,426.08 261.56,426.42 262.03,426.44 262.57,426.99 263.18,426.93 263.83,427.1 264.52,427.03 265.22,427.18 265.92,427.34 266.6,427.65 267.25,427.74 267.84,427.93 268.4,428.27 268.95,428.56 269.49,429.08 270.02,429.19 270.55,429.4 271.09,429.86 271.64,430.32 272.2,430.18 272.77,430.35 273.35,430.35 273.94,430.53 274.55,430.56 275.15,430.46 275.77,430.6 276.39,430.82 277.01,430.89 277.64,430.9 278.27,430.93 278.9,430.79 279.53,430.82 280.15,431.04 280.78,430.75 281.4,430.94 282.01,430.69 282.62,430.92 283.23,430.88 283.82,430.81 284.4,431.08 284.98,430.86 285.54,430.78 286.09,430.56 286.63,430.19 287.17,430.16 287.7,429.5 288.24,429.22 288.78,428.63 289.32,428.42 289.88,428.18 290.44,428 291.01,427.86 291.59,427.89 292.18,428.03 292.76,427.7 293.35,427.64 293.95,427.53 294.55,427.91 295.15,427.71 295.75,427.51 296.36,427.48 296.98,427.23 297.6,427.28 298.22,427.3 298.85,427.26 299.48,427.1 300.11,427.09 300.76,427.27 301.4,427.24" fill="none" stroke="#111" stroke-width="1.35" stroke-linejoin="round"/>
<polyline points="302.9,430.69 303.46,430.73 304.01,430.64 304.57,430.09 305.14,429.96 305.7,429.46 306.26,429.55 306.83,429.02 307.4,428.77 307.97,428.67 308.54,428.85 309.11,428.19 309.69,427.89 310.26,427.94 310.84,427.71 311.42,427.73 312,427.12 312.58,426.91 313.17,426.93 313.75,426.88 314.34,426.73 314.92,426.69 315.51,426.19 316.12,426.17 316.73,426.17 317.34,426.23 317.96,426.09 318.59,425.88 319.21,425.72 319.84,425.92 320.46,425.86 321.07,426.04 321.68,425.52 322.27,425.69 322.86,425.17 323.43,425.14 323.99,424.98 324.53,424.85 325.05,424.51 325.56,424.18 326.06,423.8 326.55,423.25 327.03,422.91 327.51,422.31 327.99,421.88 328.47,421.72 328.94,421.29 329.43,421.13 329.92,421.15 330.4,421.41 330.88,421.89 331.36,422.17 331.85,422.94 332.35,423.42 332.87,423.65 333.41,423.65 333.96,423.73 334.51,424.12 335.08,424.42 335.65,424.72 336.23,424.77 336.82,424.94 337.41,425.38 338.01,425.24 338.61,425.66 339.21,425.79 339.81,425.62 340.41,426.01 341.01,426.03 341.61,426.12 342.21,426.13 342.8,426.31 343.39,426.74 343.98,426.76 344.58,426.99 345.17,426.93 345.77,427.17 346.36,427.31 346.96,427.24 347.56,427.35 348.15,427.78 348.75,427.85 349.35,427.81 349.96,428.04 350.56,428.26 351.16,428.53 351.77,428.23 352.37,428.55 352.98,428.86 353.58,428.65 354.19,428.93 354.8,428.42" fill="none" stroke="#111" stroke-width="1.35" stroke-linejoin="round"/>
<polyline points="356.1,428.11 356.94,427.89 357.77,427.6 358.57,427.97 359.35,427.97 360.11,427.95 360.84,427.9 361.55,427.65 362.23,427.48 362.88,427.44 363.51,427.42 364.1,427.39 364.66,427.15 365.19,427.12 365.68,427.12 366.14,426.92 366.56,427.08 366.94,426.92 367.28,426.29 367.58,426.22 367.84,425.88 368.06,425.51 368.24,425.23 368.41,424.36 368.55,423.65 368.69,423 368.83,422.38 368.97,421.45 369.13,420.72 369.31,420.26 369.52,419.63 369.76,419.2 370.05,419 370.48,418.5 371.05,418.49 371.7,418.2 372.38,418.32 373.04,418.22 373.65,417.94 374.3,418.32 374.97,417.98 375.68,418.38 376.41,418.31 377.15,418.24 377.89,418.31 378.63,418.54 379.36,418.71 380.07,418.75 380.75,419.09 381.39,418.97 381.99,419.35 382.54,419.53 383.03,419.44 383.46,419.96 383.8,419.94 384.06,419.97 384.24,420.46 384.37,420.83 384.48,421.43 384.57,421.75 384.65,422.64 384.72,423.31 384.78,423.98 384.84,424.77 384.89,425.4 384.94,426.04 385,426.99 385.06,427.77 385.14,428.36 385.22,428.92 385.32,429.29 385.44,430.09 385.58,430.4 385.77,430.44 386.09,430.93 386.51,431.29 387.02,431.44 387.6,431.82 388.24,432.05 388.93,431.93 389.64,432.3 390.36,432.57 391.07,432.77 391.76,432.94 392.42,432.5 393.03,432.79 393.62,432.9 394.21,432.98 394.8,433.04 395.39,432.65 395.98,432.72 396.58,432.61 397.17,432.87 397.77,432.53 398.36,432.88 398.96,432.81 399.56,432.7 400.16,432.26 400.76,432.42 401.36,432.56 401.97,432.17 402.57,432.25 403.18,432.17 403.78,432.21 404.39,431.99 405,431.85 405.61,431.59 406.22,431.49 406.84,431.29 407.45,431.21 408.06,430.86 408.68,430.8 409.3,430.14" fill="none" stroke="#111" stroke-width="1.35" stroke-linejoin="round"/>
<polyline points="410.1,423.97 410.77,423.78 411.43,423.99 412.08,423.86 412.71,424.02 413.33,424.16 413.94,423.92 414.54,424.09 415.12,424.13 415.7,424.28 416.26,424.1 416.81,424.42 417.35,424.52 417.9,424.62 418.51,425.07 419.13,425.35 419.72,426.31 420.23,426.64 420.6,427.21 420.79,426.96 420.85,426.89 420.9,427 420.94,426.53 420.98,426.57 421.02,426.12 421.05,425.81 421.08,425.47 421.1,424.96 421.12,424.7 421.14,423.94 421.15,423.04 421.16,422.73 421.17,421.7 421.18,421.2 421.19,420.26 421.2,419.56 421.21,419.1 421.22,418.03 421.23,417.22 421.24,416.42 421.25,415.65 421.26,415.1 421.28,413.91 421.29,413.11 421.31,412.6 421.34,411.51 421.36,410.95 421.39,410.46 421.43,409.6 421.47,408.88 421.51,408.23 421.56,407.62 421.63,407.12 421.81,406.63 422.11,406.15 422.5,405.48 422.95,404.71 423.42,404.29 423.88,404.31 424.34,403.92 424.88,404.13 425.49,404.15 426.15,404.03 426.87,404.05 427.62,404.24 428.41,403.95 429.21,404.06 430.01,404.1 430.81,404.2 431.6,403.99 432.36,404.35 433.09,404.15 433.76,404.15 434.39,404.14 434.94,404.09 435.41,404.05 435.8,404.36 436.08,404.22 436.25,404.17 436.32,404.35 436.36,404.18 436.4,404.55 436.43,404.71 436.46,404.9 436.49,405.54 436.52,405.68 436.54,406.52 436.56,406.88 436.58,407.71 436.6,408.55 436.61,409.16 436.63,409.75 436.64,410.64 436.65,411.42 436.66,412.16 436.67,413.05 436.68,414.11 436.69,415.08 436.7,415.65 436.71,416.81 436.72,417.8 436.73,418.63 436.74,419.35 436.75,420.51 436.76,421.02 436.77,422.11 436.79,423.03 436.8,423.23 436.82,424.27 436.84,424.93 436.86,425.52 436.88,425.92 436.9,426.47 436.93,426.73 436.96,427.31 436.99,427.64 437.03,427.66 437.07,427.73 437.12,427.82 437.24,427.88 437.46,427.87 437.76,427.82 438.14,427.81 438.6,427.57 439.12,427.32 439.7,427.77 440.34,427.83 441.01,427.36 441.73,427.42 442.47,427.5 443.24,427.55 444.02,427.45 444.81,427.49 445.6,427.24 446.38,427.27 447.16,427.23 447.91,427.07 448.63,427.29 449.32,427.19 449.97,427.23 450.58,427.03 451.18,427.24 451.79,426.93 452.39,427.14 453,426.7 453.6,426.94 454.21,427.19 454.82,427.02 455.42,427.11 456.03,426.85 456.63,427.31 457.24,427.17 457.84,427.08 458.45,427.15 459.06,427.13 459.66,427.29 460.27,427.12 460.87,426.87 461.48,427.05 462.09,427.27 462.69,427.17 463.3,427.02" fill="none" stroke="#111" stroke-width="1.35" stroke-linejoin="round"/>
<polyline points="463.3,423.07 463.85,423.25 464.4,423.57 464.95,423.49 465.51,423.83 466.06,424.3 466.62,424.4 467.18,424.71 467.74,425.17 468.32,425.06 468.97,425.39 469.69,425.54 470.43,425.8 471.18,426.14 471.89,426.19 472.54,426.32 473.1,427.02 473.53,426.95 473.81,427.22 473.9,427.1 473.93,427.09 473.95,427.11 473.98,427.04 474,426.65 474.02,426.86 474.04,426.38 474.06,426.36 474.08,426.48 474.1,425.88 474.11,425.84 474.13,425.25 474.14,425.07 474.16,424.64 474.17,424.33 474.18,423.75 474.2,423.33 474.21,423.08 474.22,422.35 474.23,421.99 474.24,421.71 474.25,421.01 474.25,420.44 474.26,419.86 474.27,419.48 474.27,418.83 474.28,418.3 474.29,417.64 474.29,417.31 474.3,416.34 474.3,415.46 474.3,415.09 474.31,414.4 474.31,413.73 474.32,412.76 474.32,412.45 474.32,411.56 474.32,410.82 474.33,409.85 474.33,409.4 474.33,408.56 474.34,408.01 474.34,406.97 474.34,406.08 474.34,405.49 474.35,404.55 474.35,403.95 474.35,402.94 474.36,402.28 474.36,401.46 474.36,400.69 474.37,399.81 474.37,398.97 474.38,398.27 474.38,397.39 474.39,396.69 474.39,395.83 474.4,394.75 474.41,394.27 474.41,393.69 474.42,392.74 474.43,392 474.44,391.2 474.45,390.3 474.46,389.4 474.47,388.96 474.48,388.24 474.5,387.43 474.51,386.68 474.52,385.95 474.54,385.17 474.55,384.51 474.57,383.78 474.59,383.15 474.6,382.3 474.62,381.69 474.64,381.22 474.67,380.46 474.69,379.55 474.71,379.32 474.75,378.36 474.81,378.35 474.88,377.54 474.97,376.9 475.07,376.08 475.19,375.38 475.32,374.89 475.46,374.32 475.61,373.61 475.77,373.17 475.95,372.69 476.13,372.15 476.32,371.42 476.54,370.8 476.83,370.67 477.21,370.16 477.64,369.92 478.13,369.71 478.65,369.33 479.19,368.77 479.74,368.53 480.29,368.25 480.81,367.65 481.31,367.32 481.81,367.01 482.35,366.47 482.93,365.96 483.54,365.47 484.16,365.11 484.79,364.55 485.43,364.29 486.06,363.66 486.68,363.47 487.28,363 487.84,362.25 488.37,362.21 488.85,361.66 489.28,361.62 489.64,361.25 489.94,360.98 490.15,360.95 490.28,360.71 490.33,360.84 490.37,360.89 490.41,360.88 490.45,361.05 490.49,360.98 490.52,361.36 490.56,361.29 490.59,361.77 490.62,361.99 490.65,362.29 490.68,362.4 490.71,363.23 490.73,363.11 490.76,363.53 490.78,363.79 490.8,364.52 490.82,364.68 490.84,365.35 490.86,365.55 490.87,366.23 490.89,366.65 490.9,367.38 490.92,367.76 490.93,368.25 490.94,369.03 490.95,369.41 490.96,370.06 490.97,370.95 490.98,371.23 490.99,372.27 491,372.79 491.01,373.41 491.01,374.28 491.02,375.05 491.03,375.61 491.03,376.4 491.04,377.29 491.04,378.04 491.05,378.69 491.05,379.37 491.06,380.12 491.06,380.96 491.07,381.93 491.07,382.72 491.08,383.48 491.08,384.44 491.09,385.01 491.09,385.81 491.1,386.62 491.1,387.77 491.11,388.02 491.12,389.17 491.12,390.01 491.13,390.77 491.14,391.9 491.15,392.55 491.16,393.3 491.17,393.87 491.18,394.86 491.19,395.53 491.2,396.38 491.22,397.19 491.23,397.87 491.25,398.79 491.26,399.69 491.28,400.36 491.3,400.99 491.32,401.41 491.34,402.56 491.36,403.27 491.38,403.79 491.41,404.43 491.43,405.27 491.46,405.72 491.49,406.59 491.52,406.95 491.55,407.59 491.58,408.32 491.62,408.69 491.66,409.46 491.69,410.07 491.73,410.34 491.78,411.16 491.82,411.43 491.87,412.06 491.92,412.45 492.11,412.78 492.45,413.17 492.9,413.38 493.44,413.89 494.03,414.25 494.64,414.95 495.24,415.22 495.78,415.24 496.27,415.93 496.74,416.25 497.21,416.6 497.68,417.17 498.15,417.68 498.62,417.97 499.09,418.5 499.55,419.04 500.02,419.36 500.5,419.99 500.97,420.41 501.44,420.76 501.92,421.15 502.41,421.69 502.89,422.11 503.38,422.33 503.88,422.42 504.38,422.85 504.88,422.92 505.4,423.06 505.92,423.16 506.44,422.86 506.97,422.95 507.51,422.85 508.05,422.75 508.59,423.09 509.14,422.85 509.7,422.36 510.25,422.54 510.82,422.25 511.39,422.32 511.96,421.97 512.53,421.71 513.12,421.51 513.7,421.26 514.29,420.91 514.88,420.54 515.48,420.18 516.08,419.87 516.69,419.21 517.3,418.9" fill="none" stroke="#111" stroke-width="1.35" stroke-linejoin="round"/>
<polyline points="518.1,426.28 518.79,426.34 519.52,426.62 520.29,426.43 521.08,426.64 521.88,426.65 522.67,426.91 523.43,426.83 524.16,426.95 524.85,427.04 525.46,426.8 526,427.11 526.45,426.97 526.79,427.05 527.01,427.08 527.1,427.21 527.12,427.19 527.13,427.31 527.14,427.04 527.16,426.89 527.17,426.81 527.19,426.87 527.2,426.89 527.21,426.59 527.22,426.31 527.23,426.27 527.25,426.09 527.26,425.87 527.27,425.55 527.28,425.07 527.29,425.11 527.3,425.08 527.31,424.69 527.32,424.07 527.33,424.08 527.33,423.51 527.34,423.72 527.35,423.13 527.36,422.58 527.36,422.49 527.37,421.89 527.38,421.68 527.38,421.2 527.39,420.61 527.4,420.44 527.4,419.72 527.41,419.64 527.41,418.99 527.42,418.36 527.42,417.76 527.43,417.74 527.43,417.2 527.44,416.3 527.44,416.17 527.44,415.42 527.45,414.81 527.45,414.27 527.45,413.67 527.46,413.32 527.46,412.55 527.46,411.67 527.46,411.61 527.47,410.82 527.47,409.92 527.47,409.38 527.47,408.66 527.48,408.14 527.48,407.53 527.48,406.84 527.48,406.05 527.48,405.34 527.48,404.88 527.48,404.05 527.49,403.68 527.49,402.54 527.49,402.05 527.49,401.23 527.49,400.39 527.49,399.95 527.49,399.04 527.49,398.16 527.49,397.49 527.49,396.93 527.5,395.86 527.5,395.46 527.5,394.6 527.5,393.7 527.5,393.15 527.5,392.43 527.5,391.49 527.5,390.65 527.5,390.1 527.5,389.26 527.5,388.14 527.51,387.44 527.51,386.65 527.51,385.82 527.51,384.87 527.51,384.41 527.51,383.5 527.51,382.7 527.52,382.08 527.52,381 527.52,380.27 527.52,379.51 527.52,378.6 527.53,377.85 527.53,377.17 527.53,376.25 527.53,375.64 527.54,374.55 527.54,373.88 527.54,372.85 527.55,372.24 527.55,371.36 527.55,370.86 527.56,369.98 527.56,369.16 527.57,368.56 527.57,367.72 527.57,366.84 527.58,365.86 527.58,364.98 527.59,364.41 527.6,363.6 527.6,362.79 527.61,362.08 527.61,361.14 527.62,360.83 527.63,359.72 527.63,359.04 527.64,358.48 527.65,357.44 527.66,357.08 527.67,356.36 527.67,355.48 527.68,354.66 527.69,354.05 527.7,353.16 527.71,352.93 527.72,352.07 527.73,351.28 527.74,350.59 527.76,350.15 527.77,349.63 527.78,348.6 527.79,348.06 527.8,347.27 527.82,347 527.83,346.32 527.85,346.02 527.86,345.09 527.87,344.47 527.89,343.86 527.91,343.52 528,342.57 528.17,342.28 528.4,341.58 528.68,340.85 529.01,340.2 529.36,339.93 529.73,339.57 530.11,338.86 530.48,338.72 530.9,338.67 531.39,338.14 531.92,338.01 532.5,337.72 533.12,337.72 533.76,337.6 534.41,337.43 535.06,337.26 535.71,337.02 536.34,336.93 536.94,336.85 537.57,336.94 538.26,336.63 539,336.43 539.76,336.49 540.54,336.33 541.31,335.99 542.05,335.86 542.75,335.91 543.39,335.75 543.96,335.48 544.43,335.54 544.79,335.44 545.02,335.57 545.11,335.28 545.14,335.54 545.17,335.51 545.21,335.35 545.24,335.72 545.27,335.78 545.3,335.57 545.33,336.16 545.36,335.85 545.38,336.04 545.41,336.3 545.43,336.65 545.46,336.83 545.48,336.96 545.51,337.41 545.53,337.53 545.55,337.94 545.57,338.43 545.59,338.35 545.61,338.27 545.63,338.91 545.65,339.17 545.67,339.69 545.68,340.07 545.7,340.27 545.72,340.68 545.73,341.22 545.75,341.66 545.76,341.75 545.77,342.72 545.79,343.05 545.8,343.53 545.81,344.06 545.82,344.37 545.83,345.03 545.84,345.71 545.85,346.25 545.86,346.71 545.87,347.16 545.88,347.65 545.89,348.54 545.9,349.01 545.9,349.47 545.91,349.82 545.92,350.63 545.92,351.1 545.93,352.2 545.94,352.69 545.94,353.2 545.95,353.93 545.95,355.02 545.96,355.49 545.96,355.8 545.97,356.67 545.97,357.2 545.98,357.84 545.98,358.82 545.98,359.87 545.99,360.47 545.99,360.97 546,361.65 546,362.47 546,363.34 546.01,363.72 546.01,364.42 546.01,365.73 546.02,366.26 546.02,367.22 546.02,367.79 546.03,368.75 546.03,369.22 546.03,370.17 546.04,371.11 546.04,371.82 546.04,372.39 546.05,373.38 546.05,373.95 546.06,374.63 546.06,375.72 546.07,376.64 546.07,377.36 546.07,377.85 546.08,378.97 546.09,379.75 546.09,380.38 546.1,380.88 546.1,382.2 546.11,382.99 546.12,383.73 546.12,384.2 546.13,385.04 546.14,386.21 546.15,386.97 546.16,387.72 546.17,388.4 546.17,389.29 546.18,389.94 546.19,390.76 546.21,391.46 546.22,392.4 546.23,393.08 546.24,394.06 546.25,394.79 546.27,395.33 546.28,396.48 546.3,396.8 546.31,397.78 546.33,398.62 546.34,399.39 546.36,399.61 546.38,400.82 546.39,401.57 546.41,402.32 546.43,402.49 546.45,403.42 546.47,404.21 546.49,404.85 546.52,405.8 546.54,406.17 546.56,407.13 546.59,407.69 546.61,408.04 546.64,408.75 546.67,409.47 546.7,410.18 546.72,410.93 546.75,411.37 546.78,412.13 546.82,412.36 546.87,412.79 546.94,413.9 547.02,414.76 547.13,415.41 547.24,416.08 547.38,417.07 547.53,418.05 547.69,418.46 547.87,419.04 548.06,419.63 548.26,420.59 548.47,420.73 548.69,421.17 548.92,421.49 549.16,421.56 549.44,421.26 549.81,421.54 550.25,421.53 550.77,421.47 551.34,421.55 551.96,421.32 552.62,421.39 553.31,421.32 554.01,421.51 554.73,421.3 555.45,421.46 556.16,421.24 556.86,421.38 557.52,421.35 558.15,421.38 558.75,421.42 559.35,421.39 559.95,421.41 560.55,421.16 561.15,421.67 561.75,421.46 562.34,421.57 562.94,421.54 563.54,421.88 564.14,421.66 564.74,421.95 565.34,422.14 565.93,422.29 566.53,422.32 567.13,422.33 567.72,422.16 568.32,422.63 568.92,422.73 569.51,422.78 570.11,422.89 570.7,422.9 571.3,422.92" fill="none" stroke="#111" stroke-width="1.35" stroke-linejoin="round"/>
<polyline points="571.3,422.36 571.91,422.75 572.56,422.78 573.24,423.44 573.94,423.72 574.65,424.18 575.36,424.45 576.07,424.93 576.76,425.26 577.43,425.57 578.08,425.54 578.68,426.15 579.23,426.29 579.73,426.34 580.16,426.81 580.53,426.66 580.81,427.12 581,427.32 581.09,427.03 581.12,427.23 581.14,427.15 581.16,427.14 581.18,426.79 581.2,427.02 581.22,426.87 581.24,426.87 581.25,426.66 581.27,426.7 581.29,426.44 581.31,426.36 581.32,426.3 581.34,425.95 581.36,425.88 581.37,425.57 581.39,425.4 581.4,425.01 581.42,424.97 581.43,424.78 581.44,424.33 581.46,424.18 581.47,423.84 581.48,423.31 581.5,423.21 581.51,423.03 581.52,422.43 581.53,421.89 581.54,421.83 581.55,421.33 581.57,421.33 581.58,420.65 581.59,420.25 581.6,419.75 581.61,419.46 581.61,418.9 581.62,418.41 581.63,418.08 581.64,417.51 581.65,417.35 581.66,416.5 581.66,416.17 581.67,415.58 581.68,414.97 581.69,414.9 581.69,413.81 581.7,413.8 581.71,412.83 581.71,412.5 581.72,412.26 581.72,411.04 581.73,410.58 581.74,410.39 581.74,409.62 581.75,408.92 581.75,408.38 581.76,407.63 581.76,407.17 581.76,406.74 581.77,405.82 581.77,405.26 581.78,404.76 581.78,404.22 581.78,403.18 581.79,402.64 581.79,401.84 581.8,401.14 581.8,400.49 581.8,399.76 581.81,398.9 581.81,398.16 581.81,397.64 581.81,397.05 581.82,396.49 581.82,395.51 581.82,394.84 581.83,394.22 581.83,393.5 581.83,392.63 581.83,391.9 581.84,391.43 581.84,390.35 581.84,389.57 581.84,388.64 581.85,388.18 581.85,387.31 581.85,386.86 581.85,385.76 581.85,385.15 581.86,384.39 581.86,383.71 581.86,382.5 581.86,382.13 581.87,381.12 581.87,380.31 581.87,379.49 581.88,378.68 581.88,377.89 581.88,376.8 581.88,376.42 581.89,375.56 581.89,374.61 581.89,373.94 581.9,373.49 581.9,372.4 581.9,371.49 581.91,370.99 581.91,369.82 581.91,369.11 581.92,368.25 581.92,367.5 581.92,366.84 581.93,366.01 581.93,365.02 581.94,364.31 581.94,363.54 581.95,362.67 581.95,361.93 581.96,361.03 581.96,360.24 581.97,359.56 581.97,358.61 581.98,358.04 581.99,357.16 581.99,356.27 582,355.53 582,354.78 582.01,354.05 582.02,353.31 582.03,352.5 582.03,351.63 582.04,351.2 582.05,350.37 582.06,349.49 582.07,348.86 582.07,348.02 582.08,347.19 582.09,346.5 582.1,346.14 582.11,345.16 582.12,344.44 582.13,343.51 582.14,342.93 582.15,342.46 582.16,341.48 582.18,340.88 582.19,340.2 582.2,339.42 582.21,338.87 582.23,337.99 582.24,337.36 582.25,336.52 582.27,336.33 582.28,335.34 582.29,334.66 582.31,334.2 582.32,333.29 582.34,332.73 582.36,331.99 582.37,331.5 582.39,330.83 582.41,330.36 582.43,329.65 582.45,328.97 582.47,328.39 582.49,327.79 582.52,327.1 582.54,326.67 582.57,325.99 582.61,325.27 582.64,324.43 582.68,324.03 582.72,323.12 582.76,322.69 582.81,322.02 582.85,321.29 582.9,320.61 582.96,319.99 583.02,319.76 583.08,318.79 583.14,318.18 583.21,317.73 583.28,317.05 583.36,316.54 583.43,315.62 583.52,315.06 583.6,315.13 583.7,314.09 583.79,313.51 583.89,313.04 584,312.64 584.1,311.82 584.22,311.55 584.34,311.03 584.47,310.68 584.71,310.15 585.03,309.6 585.44,309.11 585.91,308.46 586.44,308.54 586.99,307.79 587.56,307.58 588.14,307.54 588.7,306.94 589.24,306.82 589.78,306.46 590.4,306.35 591.07,306.01 591.79,305.7 592.53,305.74 593.28,305.29 594.02,304.93 594.73,304.88 595.4,304.84 596,304.45 596.53,304.61 596.96,304.51 597.28,304.64 597.47,304.21 597.55,304.41 597.62,304.13 597.69,304.42 597.75,304.64 597.81,304.88 597.87,305.04 597.93,305.31 597.98,305.55 598.03,305.93 598.08,306.42 598.13,306.88 598.18,307.35 598.22,307.88 598.26,308.43 598.3,308.54 598.33,309.3 598.37,309.95 598.4,310.5 598.43,311.38 598.46,312.01 598.49,312.57 598.52,313.3 598.55,314.19 598.57,314.69 598.6,315.44 598.62,316.37 598.64,317.08 598.66,318 598.69,318.63 598.71,319.48 598.73,320.09 598.75,320.83 598.76,321.77 598.78,322.19 598.8,323.43 598.82,324.31 598.84,324.97 598.86,325.72 598.88,326.68 598.89,327.29 598.91,328.2 598.93,329.12 598.95,329.64 598.97,330.39 599,331.03 599.02,331.68 599.04,332.35 599.07,332.97 599.09,333.73 599.12,333.95 599.14,334.75 599.17,335.48 599.19,335.87 599.22,336.57 599.24,337.09 599.26,337.85 599.29,338.52 599.31,339.2 599.33,339.67 599.35,340.1 599.38,340.84 599.4,341.48 599.42,342.21 599.44,342.3 599.46,343.26 599.48,343.55 599.5,344.51 599.52,345.08 599.54,345.69 599.56,346.34 599.58,346.87 599.6,347.33 599.62,348.07 599.64,348.8 599.66,349.21 599.68,349.83 599.7,350.26 599.71,351.2 599.73,351.56 599.75,352.13 599.77,352.77 599.79,353.32 599.81,354.01 599.82,354.83 599.84,355.36 599.86,356.05 599.88,356.66 599.9,356.92 599.92,357.72 599.93,358.47 599.95,359.19 599.97,359.26 599.99,359.86 600.01,360.73 600.03,361.22 600.05,361.73 600.06,362.52 600.08,362.96 600.1,363.35 600.12,364.27 600.14,364.9 600.16,365.57 600.18,366.22 600.2,366.71 600.22,367.25 600.24,367.79 600.26,368.25 600.28,369.03 600.3,369.83 600.33,370.39 600.35,371.19 600.37,371.48 600.39,371.84 600.41,372.82 600.44,373.45 600.46,373.74 600.48,374.27 600.51,375.13 600.53,375.81 600.56,376.15 600.58,376.86 600.61,377.4 600.63,377.94 600.66,378.53 600.69,379.34 600.71,379.87 600.74,380.43 600.77,380.78 600.79,382.03 600.81,382.28 600.84,383.04 600.86,383.55 600.88,384.42 600.9,384.82 600.92,385.72 600.94,386.35 600.96,387.19 600.98,387.59 601,388.34 601.02,389.09 601.04,390.12 601.06,390.31 601.08,391.26 601.1,391.83 601.12,392.67 601.14,393.43 601.16,394.06 601.18,394.78 601.2,395.49 601.22,396.07 601.24,396.83 601.26,397.33 601.28,398.21 601.31,398.85 601.33,399.62 601.35,400.45 601.38,401.09 601.41,401.78 601.43,402.55 601.46,402.73 601.49,403.8 601.52,404.39 601.56,405.04 601.59,405.51 601.62,406.42 601.66,407.13 601.7,407.74 601.74,408.2 601.78,408.91 601.82,409.54 601.86,410.26 601.91,410.75 601.96,411.16 602.01,411.71 602.06,412.26 602.11,412.8 602.17,413.21 602.23,413.9 602.29,414.18 602.35,414.64 602.42,415.26 602.48,415.58 602.55,416.06 602.63,416.21 602.7,417.02 602.78,417.29 602.86,417.64 602.94,418.07 603.03,418.36 603.12,418.54 603.21,419.22 603.45,419.15 603.89,419.62 604.47,419.98 605.14,419.86 605.85,420.16 606.55,420.21 607.19,420.63 607.77,420.56 608.35,420.57 608.94,421.03 609.52,421.07 610.12,420.91 610.71,421.3 611.31,421.24 611.9,421.68 612.51,421.61 613.11,421.36 613.71,421.47 614.32,421.44 614.93,421.65 615.53,421.7 616.14,421.86 616.75,421.82 617.36,421.66 617.96,421.82 618.57,422.2 619.17,422.22 619.78,422.1 620.38,422.18 620.98,422.25 621.58,422.35 622.17,422.19 622.76,422.65 623.35,422.53 623.94,422.74 624.52,422.47 625.09,422.99 625.67,423.28 626.24,422.91 626.81,423.61 627.37,423.64 627.94,423.66 628.5,423.74 629.06,424.35 629.62,424.45 630.17,424.74 630.73,424.86 631.28,425.04 631.83,425.54 632.38,425.55 632.93,426.09 633.47,426 634.02,426.39 634.56,426.6 635.1,427.29" fill="none" stroke="#111" stroke-width="1.35" stroke-linejoin="round"/>
<polyline points="635.1,426.85 635.1,426.33 635.1,425.99 635.1,425.32 635.1,425 635.1,424.34 635.1,423.57 635.1,422.97 635.1,422.01 635.1,421.54 635.1,421.01 635.1,420.43 635.1,419.66 635.1,419.12 635.1,418.53 635.1,418.2 635.1,417.5 635.1,416.79 635.11,416.19 635.11,415.67 635.11,414.93 635.11,414.38 635.11,413.57 635.11,413.31 635.11,412.75 635.11,412.06 635.11,411.47 635.11,410.85 635.11,410.49 635.11,409.63 635.12,408.8 635.12,408.24 635.12,407.89 635.12,407.34 635.12,406.69 635.12,406.1 635.12,405.4 635.12,404.56 635.12,404.07 635.13,403.3 635.13,402.91 635.13,402.16 635.13,401.77 635.13,401.13 635.13,400.27 635.14,400.05 635.14,399.45 635.14,398.54 635.14,398.16 635.14,397.64 635.14,396.89 635.15,396.45 635.15,395.75 635.15,395.28 635.15,394.55 635.15,393.89 635.16,393.39 635.16,392.83 635.16,392.15 635.16,391.44 635.16,390.79 635.17,390.25 635.17,389.62 635.17,389.13 635.17,388.52 635.18,387.88 635.18,387.29 635.18,386.71 635.18,386.31 635.19,385.66 635.19,384.8 635.19,384.34 635.2,383.63 635.2,383.06 635.2,382.44 635.2,381.78 635.21,381.07 635.21,380.31 635.21,380.09 635.22,379.63 635.22,378.73 635.22,378.33 635.23,377.6 635.23,377.09 635.23,376.33 635.24,375.81 635.24,375.23 635.24,374.3 635.25,374.07 635.25,373.42 635.25,372.48 635.26,372.33 635.26,371.63 635.27,371.06 635.27,370.48 635.27,369.77 635.28,369.07 635.28,368.56 635.29,367.96 635.29,367.74 635.29,367.08 635.3,366.14 635.3,365.55 635.31,365.06 635.31,364.49 635.32,363.71 635.32,363.06 635.33,362.88 635.33,362.16 635.33,361.18 635.34,360.54 635.34,360.08 635.35,359.63 635.35,359.07 635.36,358.34 635.36,357.56 635.37,357.22 635.37,356.67 635.38,355.99 635.39,355.31 635.39,354.87 635.4,354.17 635.4,353.42 635.41,352.99 635.41,352.19 635.42,351.92 635.42,351.24 635.43,350.43 635.44,350 635.44,349.55 635.45,348.46 635.45,348.15 635.46,347.81 635.47,346.74 635.47,346.34 635.48,345.55 635.48,345.15 635.49,344.21 635.5,343.72 635.5,343.28 635.51,342.78 635.52,342.21 635.52,341.62 635.53,341.12 635.54,340.45 635.54,339.86 635.55,339.01 635.56,338.52 635.57,338.41 635.57,337.68 635.58,336.87 635.59,336.25 635.59,335.69 635.6,334.88 635.61,334.63 635.62,333.68 635.62,333.13 635.63,332.86 635.64,331.63 635.65,331.39 635.65,330.48 635.66,330.04 635.67,329.52 635.68,328.88 635.69,328.36 635.7,327.62 635.7,327.11 635.71,326.35 635.72,325.87 635.73,325.12 635.74,324.82 635.75,323.93 635.75,323.63 635.76,322.86 635.77,322.28 635.78,321.9 635.79,321.14 635.8,320.24 635.81,319.99 635.82,318.89 635.83,318.76 635.84,318.06 635.85,317.31 635.85,316.93 635.86,316.27 635.87,316.01 635.88,315.05 635.89,314.8 635.9,314.12 635.91,313.21 635.93,312.57 635.94,312.26 635.96,311.41 635.98,310.82 636,310.12 636.02,309.33 636.04,308.81 636.07,308.07 636.1,307.34 636.13,306.87 636.17,306.53 636.21,305.85 636.25,304.95 636.29,304.34 636.34,303.75 636.39,303.24 636.44,302.46 636.49,301.71 636.55,301.11 636.62,300.73 636.68,300.35 636.75,299.28 636.83,298.49 636.9,298.35 636.98,297.66 637.07,297.15 637.16,296.79 637.25,296.11 637.35,295.4 637.45,294.83 637.56,294.65 637.7,294.04 637.96,293.79 638.34,293.08 638.81,292.75 639.34,292.15 639.92,291.92 640.51,291.57 641.09,291.47 641.64,291.41 642.18,291.08 642.74,290.9 643.33,291.26 643.95,290.97 644.57,290.96 645.21,290.93 645.85,291.02 646.49,290.92 647.12,290.83 647.74,290.8 648.35,290.5 648.93,290.47 649.48,290.46 650,290.38 650.56,290.09 651.14,289.68 651.71,289.09 652.23,288.46 652.66,287.79 652.97,287.83 653.11,287.68 653.18,287.5 653.24,287.79 653.3,287.91 653.36,288.05 653.42,288 653.47,288.37 653.52,288.78 653.57,289.48 653.61,289.51 653.66,290.03 653.7,290.39 653.73,290.99 653.77,291.66 653.8,291.87 653.83,292.35 653.86,293.5 653.89,294.06 653.92,294.64 653.94,295.57 653.97,296.28 653.99,296.55 654.01,297.59 654.03,298.54 654.05,299.04 654.07,299.88 654.09,300.85 654.1,301.47 654.12,302.13 654.14,303 654.15,303.71 654.17,304.79 654.18,305.25 654.2,306.45 654.21,306.84 654.23,307.86 654.25,308.4 654.26,309.33 654.28,310.27 654.3,311 654.32,311.74 654.34,312.21 654.36,312.9 654.38,313.56 654.4,314.23 654.42,314.68 654.45,315.51 654.47,315.99 654.49,316.72 654.51,317.22 654.54,317.85 654.56,318.24 654.58,318.89 654.6,319.36 654.62,320.11 654.64,320.73 654.66,321.48 654.68,321.77 654.69,323.05 654.71,323.15 654.73,323.96 654.75,324.52 654.77,324.59 654.78,325.53 654.8,326.4 654.82,326.41 654.83,327.49 654.85,327.84 654.87,328.51 654.88,329.22 654.9,329.51 654.92,330.42 654.93,330.89 654.95,331.48 654.96,332.3 654.98,333.32 654.99,333.45 655.01,334.09 655.02,334.6 655.04,335.1 655.05,335.85 655.07,336.64 655.08,337.04 655.09,337.75 655.11,338.18 655.12,339.2 655.14,339.18 655.15,340.11 655.16,340.71 655.18,341.27 655.19,341.66 655.21,342.26 655.22,343 655.23,343.65 655.25,344.06 655.26,344.68 655.28,345.53 655.29,346.2 655.31,346.56 655.32,347.15 655.33,347.74 655.35,348.83 655.36,349.13 655.38,349.65 655.39,350.41 655.41,351.21 655.42,351.64 655.44,351.85 655.45,352.66 655.47,353.21 655.48,353.82 655.5,354.29 655.51,355.02 655.53,355.52 655.55,356.33 655.56,356.89 655.58,357.27 655.59,357.83 655.61,358.62 655.63,359.39 655.65,359.97 655.66,360.48 655.68,360.6 655.7,361.62 655.72,362.19 655.74,362.85 655.76,363.32 655.78,364.04 655.79,364.61 655.81,365.71 655.83,366.01 655.86,366.48 655.88,367.1 655.9,367.69 655.92,368.34 655.94,368.85 655.96,369.51 655.99,370.27 656.01,370.84 656.03,371.37 656.06,372.12 656.08,372.56 656.11,372.97 656.13,373.46 656.16,374.22 656.18,374.92 656.21,375.59 656.24,376.29 656.26,376.64 656.29,377.21 656.32,378.04 656.35,378.71 656.38,379.06 656.41,379.78 656.44,380.54 656.47,380.99 656.5,381.54 656.53,381.85 656.56,382.98 656.59,383.5 656.62,384.04 656.65,384.57 656.68,385.08 656.71,385.88 656.74,386.51 656.78,387.32 656.81,387.6 656.85,388.63 656.89,389.05 656.93,389.85 656.97,390.15 657.01,390.98 657.05,391.74 657.1,392.2 657.14,392.58 657.19,393.38 657.24,394.13 657.29,394.45 657.35,395.06 657.41,395.93 657.47,396.36 657.53,397.21 657.59,397.53 657.66,398.02 657.73,398.78 657.81,399.7 657.88,399.93 657.96,400.64 658.05,401.25 658.13,401.63 658.22,402.5 658.32,402.91 658.41,403.5 658.52,403.72 658.62,404.24 658.73,404.61 658.84,405.52 658.97,406.02 659.17,406.68 659.44,407.32 659.78,407.58 660.16,408.09 660.59,408.69 661.05,409.33 661.52,409.43 662,410.06 662.48,410.3 662.95,410.61 663.42,411.08 663.92,411.13 664.45,411.36 665,411.89 665.56,412.04 666.14,412.24 666.73,412.48 667.33,412.77 667.92,412.81 668.52,413.13 669.11,413.19 669.69,413.44 670.27,413.49 670.86,413.51 671.44,413.43 672.03,413.55 672.62,413.51 673.22,414.09 673.81,413.68 674.41,413.86 675.01,414.03 675.62,413.66 676.22,413.78 676.83,413.88 677.45,413.81 678.06,413.79 678.68,413.91 679.3,414.19" fill="none" stroke="#111" stroke-width="1.35" stroke-linejoin="round"/>
<polyline points="679.3,426.6 679.99,426.59 680.71,426.67 681.47,426.49 682.25,426.9 683.05,426.92 683.84,426.74 684.64,426.98 685.42,426.95 686.18,426.93 686.91,426.88 687.61,426.95 688.25,426.92 688.84,427.15 689.36,427.14 689.81,427.14 690.18,427.07 690.46,427.03 690.63,427.4 690.7,426.82 690.72,427.27 690.73,427.12 690.74,427.04 690.76,426.9 690.77,426.88 690.79,426.65 690.8,426.52 690.81,426.61 690.82,426.25 690.84,426.49 690.85,426.38 690.86,425.53 690.87,425.64 690.88,425.72 690.9,425.51 690.91,425.28 690.92,425.1 690.93,424.9 690.94,424.67 690.95,424.54 690.96,424 690.97,423.83 690.98,423.15 690.99,423.06 690.99,422.57 691,422.63 691.01,422.42 691.02,421.79 691.03,421.15 691.04,420.94 691.04,420.57 691.05,420.19 691.06,419.91 691.07,419.47 691.07,418.49 691.08,418.65 691.09,417.91 691.09,417.44 691.1,417.26 691.11,416.53 691.11,415.87 691.12,415.37 691.12,415.07 691.13,414.67 691.14,414.23 691.14,413.45 691.15,412.85 691.15,412.61 691.16,411.74 691.16,411.45 691.17,410.69 691.17,410.1 691.17,409.44 691.18,408.92 691.18,408.19 691.19,407.54 691.19,407 691.19,406.29 691.2,405.8 691.2,405.12 691.21,404.41 691.21,403.77 691.21,403.1 691.22,402.72 691.22,401.78 691.22,401.01 691.23,400.37 691.23,399.82 691.23,398.99 691.23,398.29 691.24,397.57 691.24,396.92 691.24,396.23 691.24,395.52 691.25,394.47 691.25,393.83 691.25,392.85 691.25,392.63 691.26,391.93 691.26,391.21 691.26,390.28 691.26,389.67 691.27,388.73 691.27,387.96 691.27,386.98 691.27,386.32 691.27,385.57 691.28,385.02 691.28,384.36 691.28,383.26 691.28,382.6 691.29,381.8 691.29,380.85 691.29,379.92 691.29,379.27 691.29,378.38 691.3,377.75 691.3,376.98 691.3,376.18 691.3,375.38 691.3,374.68 691.31,373.66 691.31,373.14 691.31,371.95 691.31,371.41 691.32,370.65 691.32,369.67 691.32,368.75 691.32,368.28 691.33,367.28 691.33,366.7 691.33,365.9 691.33,364.98 691.34,364.18 691.34,363.53 691.34,362.64 691.35,361.65 691.35,361.02 691.35,360.28 691.36,359.44 691.36,358.65 691.36,357.81 691.37,357.03 691.37,356.12 691.37,355.27 691.38,354.87 691.38,353.83 691.39,353.19 691.39,352.16 691.4,351.64 691.4,350.73 691.4,350.54 691.41,349.19 691.41,348.44 691.42,347.98 691.42,347.26 691.43,346.03 691.43,345.65 691.44,345.01 691.45,343.97 691.45,343.53 691.46,342.63 691.46,341.85 691.47,341.23 691.48,340.51 691.48,339.68 691.49,339.52 691.5,338.44 691.5,337.71 691.51,337.27 691.52,336.47 691.53,336.01 691.54,335.12 691.54,334.56 691.55,333.88 691.56,333.25 691.57,332.57 691.58,331.96 691.59,331.61 691.6,330.65 691.61,330.06 691.61,329.48 691.62,329.01 691.63,328.36 691.64,327.81 691.65,326.84 691.66,326.44 691.67,325.73 691.67,325.07 691.68,324.48 691.69,323.51 691.7,323.18 691.7,322.5 691.71,321.6 691.72,321.12 691.73,320.69 691.73,319.73 691.74,319.2 691.75,318.39 691.76,317.62 691.77,316.92 691.77,316.32 691.78,315.88 691.79,315.12 691.8,314.21 691.81,313.77 691.82,312.92 691.83,312.15 691.84,311.63 691.85,310.74 691.86,309.96 691.87,309.7 691.89,308.56 691.9,308.23 691.91,307.24 691.92,306.79 691.94,306.09 691.95,305.39 691.97,304.46 691.98,304.1 692,303.46 692.02,302.67 692.04,302.15 692.05,301.66 692.07,300.76 692.09,300.27 692.11,299.43 692.14,299.03 692.16,298.45 692.18,298.11 692.21,297.27 692.23,296.6 692.26,296.15 692.28,295.21 692.31,294.94 692.34,294.13 692.37,293.55 692.4,293.25 692.43,292.58 692.47,292.21 692.5,291.27 692.53,291 692.57,290.38 692.61,289.92 692.65,289.19 692.69,289.13 692.73,288.55 692.77,287.92 692.82,287.42 692.86,287.06 692.91,286.97 692.96,286.34 693,285.91 693.06,285.65 693.11,285.2 693.16,284.88 693.23,284.6 693.56,284.17 694.13,283.89 694.81,283.3 695.48,283.32 696.04,283.26 696.6,283.41 697.16,283.53 697.73,283.64 698.3,283.91 698.88,284.35 699.45,284.39 700.04,284.54 700.62,285.06 701.21,285.32 701.79,285.3 702.38,285.47 702.97,285.38 703.6,285.47 704.29,285.66 705.02,285.62 705.78,285.52 706.53,285.46 707.26,285.26 707.95,285.55 708.57,285.57 709.1,285.65 709.52,285.8 709.81,285.55 709.96,285.65 710.09,285.39 710.21,285.83 710.33,285.92 710.44,286.18 710.55,286.31 710.66,286.55 710.76,287.01 710.85,287.05 710.94,287.63 711.03,288.12 711.11,288.3 711.19,288.73 711.27,289.48 711.34,289.98 711.41,290.63 711.48,291.24 711.54,291.65 711.6,292.46 711.66,293.25 711.72,293.72 711.77,294.43 711.82,295.03 711.87,296.05 711.92,296.97 711.96,297.25 712.01,298.33 712.05,299.13 712.09,299.7 712.13,300.52 712.17,301.22 712.21,302.06 712.24,302.99 712.28,303.86 712.31,304.58 712.35,305.48 712.38,306.17 712.42,306.75 712.45,307.9 712.49,308.62 712.52,309.09 712.56,310.18 712.59,310.71 712.63,311.36 712.67,312.31 712.71,312.32 712.75,313.1 712.79,314.05 712.83,314.51 712.87,315.01 712.91,315.97 712.95,316.42 712.99,316.76 713.03,317.45 713.07,318.27 713.11,319.01 713.14,319.06 713.18,319.99 713.22,320.5 713.25,320.9 713.29,321.73 713.32,322.12 713.36,322.88 713.39,323.8 713.42,324.24 713.45,324.88 713.49,325.45 713.52,326.02 713.55,326.71 713.58,327 713.61,327.72 713.64,328.49 713.67,328.86 713.7,329.51 713.73,330.35 713.75,331 713.78,331.29 713.81,331.86 713.84,332.67 713.86,333.22 713.89,333.69 713.92,334.47 713.94,335.07 713.97,335.6 714,336.62 714.02,336.99 714.05,337.52 714.07,338.15 714.1,339.03 714.12,339.36 714.15,339.7 714.17,340.45 714.2,341.02 714.22,341.53 714.24,342.25 714.27,342.85 714.29,343.41 714.32,343.95 714.34,344.74 714.36,344.99 714.39,345.95 714.41,346.43 714.44,347.07 714.46,347.28 714.48,348.48 714.51,348.58 714.53,349.31 714.56,350.13 714.58,350.55 714.6,351.18 714.63,351.52 714.65,352.38 714.68,353.08 714.7,353.75 714.73,354.21 714.75,354.89 714.78,355.52 714.8,355.96 714.83,356.55 714.86,357.55 714.88,357.74 714.91,358.65 714.94,359.08 714.96,359.88 714.99,360.18 715.02,360.95 715.05,361.52 715.07,362.04 715.1,362.72 715.13,363.16 715.16,363.87 715.19,364.42 715.22,365.19 715.25,365.67 715.28,366.08 715.31,366.83 715.34,367.47 715.38,367.95 715.41,368.88 715.44,369.35 715.48,370.01 715.51,370.38 715.54,371.03 715.58,371.84 715.62,372.08 715.65,372.95 715.69,373.51 715.73,374.02 715.76,374.71 715.8,375.14 715.84,375.93 715.88,376.32 715.92,376.91 715.96,377.9 716.01,378.19 716.05,378.58 716.09,379.64 716.14,379.98 716.18,380.18 716.22,381.29 716.27,382.04 716.31,382.56 716.35,383.36 716.4,383.7 716.44,384.41 716.49,384.78 716.53,385.56 716.58,386.37 716.63,386.82 716.67,387.38 716.72,387.67 716.77,388.52 716.82,388.99 716.87,389.91 716.92,390.29 716.97,391.06 717.02,391.47 717.08,392.5 717.13,392.66 717.19,393.46 717.25,394.43 717.31,394.68 717.37,395.13 717.43,395.95 717.5,396.61 717.56,397.19 717.63,397.38 717.7,398.3 717.77,398.55 717.85,399.75 717.92,400.07 718,400.59 718.08,401.35 718.16,401.92 718.25,402.26 718.33,403.27 718.42,403.58 718.51,403.94 718.61,405 718.7,405.6 718.8,406.14 718.91,406.61 719.01,406.98 719.12,407.82 719.23,408.53 719.34,408.95 719.46,409.64 719.6,409.87 719.76,410.75 719.93,411.36 720.12,411.63 720.33,412.24 720.56,413 720.8,413.74 721.05,414.4 721.32,414.89 721.61,415.48 721.9,416.01 722.21,416.55 722.52,417.09 722.85,417.5 723.18,417.8 723.53,418.17 723.91,418.35 724.34,418.79 724.83,418.83 725.35,419.37 725.91,419.32 726.49,419.55 727.1,419.57 727.73,419.81 728.37,420.05 729.01,420.2 729.64,420.28 730.27,420.39 730.89,420.76 731.48,420.99 732.05,421.28 732.58,421.63 733.1,421.67 733.62,421.7 734.13,422.26 734.64,422.31 735.14,422.7 735.64,423.36 736.14,423.62 736.64,423.78 737.13,424.13 737.61,424.56 738.09,424.68 738.57,425.39 739.05,425.65 739.52,426.36 739.98,426.33 740.44,427.05 740.9,427.21 741.35,427.89 741.79,428.02 742.23,428.72 742.67,428.99 743.1,429.39" fill="none" stroke="#111" stroke-width="1.35" stroke-linejoin="round"/>
<polyline points="743.1,430.39 743.1,429.88 743.1,429.26 743.1,428.84 743.1,428.12 743.1,427 743.1,426.73 743.1,425.89 743.1,425.53 743.1,425.08 743.1,424.18 743.1,423.6 743.1,423.2 743.1,422.53 743.1,422.21 743.11,421.42 743.11,420.85 743.11,420.43 743.11,419.49 743.11,418.96 743.11,418.21 743.11,417.79 743.11,417.31 743.11,416.75 743.11,415.94 743.11,415.24 743.12,414.63 743.12,413.93 743.12,413.55 743.12,413.14 743.12,411.98 743.12,411.4 743.12,411.34 743.13,410.28 743.13,409.97 743.13,409.13 743.13,408.83 743.13,408.23 743.13,407.54 743.14,407.03 743.14,406.31 743.14,405.79 743.14,405.38 743.14,404.66 743.15,403.8 743.15,403.18 743.15,402.66 743.15,402.06 743.16,401.5 743.16,400.8 743.16,400.38 743.16,399.69 743.16,399.13 743.17,398.48 743.17,397.97 743.17,397.09 743.18,396.91 743.18,396.12 743.18,395.53 743.18,394.96 743.19,394.42 743.19,393.77 743.19,393.09 743.19,392.43 743.2,391.61 743.2,391.28 743.2,390.6 743.21,390 743.21,389.8 743.21,388.56 743.22,388.25 743.22,387.82 743.22,387.18 743.23,386.62 743.23,385.64 743.23,385.08 743.24,384.72 743.24,383.98 743.25,383.68 743.25,382.85 743.25,382.25 743.26,381.68 743.26,380.97 743.27,380.43 743.27,379.71 743.27,379.2 743.28,378.53 743.28,378.04 743.29,377.19 743.29,376.58 743.29,376.27 743.3,375.63 743.3,374.85 743.31,374.36 743.31,373.63 743.32,373.49 743.32,372.35 743.33,372.24 743.33,371.26 743.34,370.84 743.34,370.14 743.34,369.52 743.35,369.11 743.35,368.49 743.36,367.73 743.36,367.03 743.37,366.88 743.37,366.17 743.38,365.38 743.39,364.71 743.39,364.2 743.4,363.57 743.4,363.13 743.41,362.21 743.41,361.75 743.42,361.03 743.42,360.74 743.43,360.21 743.43,359.33 743.44,358.82 743.45,358.35 743.45,357.49 743.46,356.79 743.46,356.49 743.47,355.81 743.48,355.1 743.48,354.74 743.49,353.96 743.49,353.06 743.5,352.77 743.51,352.11 743.51,351.8 743.52,350.91 743.53,350.28 743.53,349.78 743.54,349.15 743.54,348.3 743.55,347.92 743.56,347.25 743.56,346.91 743.57,346.46 743.58,345.33 743.58,344.75 743.59,344.17 743.6,343.59 743.61,342.99 743.61,342.5 743.62,342.05 743.63,341.09 743.63,340.45 743.64,339.8 743.65,339.65 743.66,339.08 743.66,338.05 743.67,337.43 743.68,337.09 743.69,336.63 743.69,336.02 743.7,335.3 743.71,334.77 743.72,334.11 743.72,333.38 743.73,333.15 743.74,332.26 743.75,331.49 743.76,330.98 743.76,330.22 743.77,329.85 743.78,329.41 743.79,328.46 743.8,328.21 743.8,327.76 743.81,326.9 743.82,326.07 743.83,325.51 743.84,324.99 743.85,324.24 743.86,323.65 743.86,323.19 743.87,322.6 743.88,322.12 743.89,321.25 743.9,321.11 743.91,320.38 743.92,319.76 743.93,318.92 743.93,318.68 743.94,317.76 743.95,317.49 743.96,316.77 743.97,315.88 743.98,315.34 743.99,315.09 744,314.36 744.01,313.58 744.02,313.01 744.03,312.37 744.04,311.58 744.05,311.01 744.06,310.27 744.07,309.63 744.08,309.07 744.09,308.16 744.1,307.71 744.11,306.91 744.12,306.29 744.14,305.58 744.15,304.91 744.16,304.09 744.18,303.37 744.19,302.51 744.21,301.88 744.23,300.93 744.25,300.3 744.26,299.72 744.28,298.87 744.3,298.22 744.33,297.27 744.35,296.92 744.37,295.92 744.4,295.37 744.42,294.61 744.45,294.07 744.48,293.19 744.51,292.44 744.54,291.65 744.57,291.24 744.61,290.48 744.64,290.12 744.68,289.66 744.72,288.52 744.76,288.09 744.8,287.78 744.84,287.38 744.89,286.73 744.94,286.23 744.99,285.78 745.04,285.34 745.09,285.07 745.14,284.5 745.2,283.84 745.26,283.59 745.32,283.36 745.38,282.9 745.45,282.7 745.52,282.4 745.59,282.15 745.71,282.16 746,281.81 746.43,281.54 746.97,281.44 747.61,281.41 748.31,281.59 749.04,281.18 749.8,281.24 750.54,280.97 751.26,280.45 751.91,280.71 752.51,280.41 753.11,280.23 753.72,280.18 754.33,280.52 754.94,279.92 755.54,279.97 756.12,280.12 756.68,279.91 757.23,279.37 757.82,279.28 758.43,278.77 759.02,278.33 759.55,278.01 759.97,277.44 760.25,277.28 760.37,277.55 760.47,277.13 760.57,277.49 760.66,277.83 760.75,277.83 760.83,278.25 760.9,278.52 760.98,279.16 761.04,279.52 761.1,280.24 761.16,280.83 761.22,281.28 761.27,281.84 761.32,282.6 761.36,283.25 761.4,283.77 761.44,284.85 761.48,285.48 761.51,286.33 761.55,286.78 761.58,287.91 761.61,288.89 761.64,289.47 761.67,289.96 761.7,290.98 761.73,291.75 761.76,292.58 761.79,293.28 761.82,294.14 761.85,294.73 761.88,295.55 761.91,296.1 761.95,296.88 761.99,297.64 762.02,298.02 762.06,298.8 762.1,299.16 762.14,299.84 762.18,300.46 762.21,301.29 762.25,301.58 762.29,302.49 762.32,302.68 762.36,303.48 762.39,304.24 762.43,304.81 762.46,305.15 762.5,305.72 762.53,306.64 762.56,306.92 762.6,307.8 762.63,308.23 762.66,308.91 762.7,309.86 762.73,310.35 762.76,310.84 762.79,311.11 762.82,311.97 762.86,312.53 762.89,313.1 762.92,313.92 762.95,314.06 762.98,314.97 763.01,315.54 763.04,316.01 763.07,316.99 763.1,317.14 763.13,317.93 763.16,318.54 763.19,318.8 763.21,319.52 763.24,320.19 763.27,321.06 763.3,321.68 763.33,322.23 763.36,322.78 763.38,323.01 763.41,323.98 763.44,324.47 763.47,325.33 763.49,325.95 763.52,326.69 763.55,327.06 763.58,327.68 763.6,328 763.63,328.77 763.66,329.17 763.68,330.1 763.71,330.38 763.74,331.13 763.76,331.64 763.79,332.3 763.82,333.04 763.84,333.48 763.87,334.21 763.89,334.62 763.92,335.59 763.95,335.88 763.97,336.73 764,337.5 764.03,337.41 764.05,338.23 764.08,338.95 764.1,339.76 764.13,340.11 764.16,340.85 764.18,341.28 764.21,342.08 764.24,342.41 764.26,343.32 764.29,343.34 764.31,344.11 764.34,345.28 764.37,345.63 764.39,346.07 764.42,347.14 764.45,347.57 764.47,348.18 764.5,348.55 764.53,349.31 764.56,349.89 764.58,350.16 764.61,351.11 764.64,351.59 764.67,352.42 764.69,353.02 764.72,353.33 764.75,353.93 764.78,354.66 764.81,355.33 764.83,355.77 764.86,356.41 764.89,357.13 764.92,357.7 764.95,358.41 764.98,358.87 765.01,359.3 765.04,359.77 765.07,360.77 765.1,361.19 765.13,361.79 765.16,362.4 765.19,362.81 765.22,363.59 765.25,363.85 765.28,364.79 765.31,365.32 765.34,366.34 765.36,366.74 765.39,367.24 765.42,367.91 765.44,368.6 765.47,368.98 765.49,369.67 765.51,370.26 765.54,371.3 765.56,371.54 765.58,371.84 765.6,372.88 765.63,373.76 765.65,373.83 765.67,375.12 765.69,375.19 765.71,375.96 765.73,376.34 765.75,376.99 765.77,377.46 765.79,378.1 765.81,378.54 765.83,379.66 765.85,379.92 765.88,380.77 765.9,381.37 765.92,381.83 765.94,382.55 765.96,383.14 765.98,383.69 766,384.39 766.03,385 766.05,385.44 766.07,386.01 766.1,386.69 766.12,387.45 766.15,388.25 766.17,388.87 766.2,389.3 766.23,390.01 766.25,390.48 766.28,391.24 766.31,391.7 766.34,392.34 766.37,392.84 766.4,393.49 766.44,394.38 766.47,394.5 766.51,395.29 766.54,395.8 766.58,396.63 766.62,397.36 766.65,397.63 766.69,397.84 766.74,398.96 766.78,399.56 766.82,399.79 766.87,400.6 766.91,401.22 766.96,401.46 767.01,402.51 767.06,403.06 767.11,403.61 767.17,403.99 767.22,404.63 767.28,405.22 767.34,405.97 767.4,406.32 767.46,407.27 767.52,407.68 767.59,407.85 767.66,409.02 767.73,409.35 767.83,409.83 767.96,410.53 768.11,410.85 768.3,411.79 768.5,412 768.73,412.85 768.98,413.83 769.25,414.42 769.53,414.76 769.83,415.23 770.14,416.07 770.46,416.43 770.79,416.95 771.12,417.45 771.45,417.58 771.79,418.22 772.13,418.08 772.49,418.95 772.88,418.8 773.28,419.25 773.7,419.55 774.13,420.08 774.59,420.38 775.06,420.61 775.55,420.92 776.06,421.19 776.58,421.37 777.12,421.34 777.68,421.53 778.25,421.77 778.84,422.35 779.44,422.53 780.06,422.74 780.69,422.98 781.34,423.08 782,423.11 782.67,423.17 783.36,423.23 784.06,423.81 784.78,423.84 785.51,423.54 786.25,423.75 787,423.87" fill="none" stroke="#111" stroke-width="1.35" stroke-linejoin="round"/>
<rect x="44.1" y="457.3" width="15.3" height="3.8" fill="#e3004f"/>
<rect x="99.5" y="457.3" width="17.8" height="3.8" fill="#e3004f"/>
<rect x="152.9" y="457.3" width="22.6" height="3.8" fill="#e3004f"/>
<rect x="206.9" y="457.3" width="19.8" height="3.8" fill="#e3004f"/>
<rect x="261" y="457.3" width="19" height="3.8" fill="#e3004f"/>
<rect x="315.5" y="457.3" width="17.2" height="3.8" fill="#e3004f"/>
<rect x="367.7" y="457.3" width="19.1" height="3.8" fill="#e3004f"/>
<rect x="422.3" y="457.3" width="17.1" height="3.8" fill="#e3004f"/>
<rect x="476.4" y="457.3" width="17.2" height="3.8" fill="#e3004f"/>
<rect x="528.8" y="457.3" width="18.3" height="3.8" fill="#e3004f"/>
<rect x="583.4" y="457.3" width="17.5" height="3.8" fill="#e3004f"/>
<rect x="638" y="457.3" width="16.8" height="3.8" fill="#e3004f"/>
<rect x="691.8" y="457.3" width="18.4" height="3.8" fill="#e3004f"/>
<rect x="259.1" y="452.8" width="18.3" height="3.8" fill="#000"/>
<rect x="313.2" y="452.8" width="18.3" height="3.8" fill="#000"/>
<rect x="366.6" y="452.8" width="19.1" height="3.8" fill="#000"/>
<rect x="420.4" y="452.8" width="16" height="3.8" fill="#000"/>
<rect x="474.5" y="452.8" width="16" height="3.8" fill="#000"/>
<rect x="527.6" y="452.8" width="16.8" height="3.8" fill="#000"/>
<rect x="582.2" y="452.8" width="16" height="3.8" fill="#000"/>
<rect x="636" y="452.8" width="16.8" height="3.8" fill="#000"/>
<rect x="690.6" y="452.8" width="19.6" height="3.8" fill="#000"/>
<rect x="743.3" y="452.8" width="16.8" height="3.8" fill="#000"/>
<text x="51.1" y="479" font-size="16" text-anchor="middle" fill="#000">0.01</text>
<text x="108.3" y="479" font-size="16" text-anchor="middle" fill="#000">0.03</text>
<text x="163.7" y="479" font-size="16" text-anchor="middle" fill="#000">0.1</text>
<text x="217.2" y="479" font-size="16" text-anchor="middle" fill="#000">0.3</text>
<text x="269.8" y="479" font-size="16" text-anchor="middle" fill="#000">1</text>
<text x="323.1" y="479" font-size="16" text-anchor="middle" fill="#000">3</text>
<text x="377.3" y="479" font-size="16" text-anchor="middle" fill="#000">10</text>
<text x="430.7" y="479" font-size="16" text-anchor="middle" fill="#000">30</text>
<text x="485.2" y="479" font-size="16" text-anchor="middle" fill="#000">100</text>
<text x="537.7" y="479" font-size="16" text-anchor="middle" fill="#000">300</text>
<text x="592.3" y="479" font-size="16" text-anchor="middle" fill="#000">1000</text>
<text x="645.8" y="479" font-size="16" text-anchor="middle" fill="#000">3000</text>
<text x="699.6" y="479" font-size="16" text-anchor="middle" fill="#000">10000</text>
<text x="751.1" y="479" font-size="16" text-anchor="middle" fill="#000">30000</text>
<text x="312.5" y="497.6" font-size="16" text-anchor="start" fill="#000">D-serine concentration / μM</text>
<text x="0.5" y="538.8" font-size="24" text-anchor="start" fill="#000" font-weight="bold">d</text>
<text x="91.5" y="543.1" font-size="16"><tspan fill="#e3004f">300 μM</tspan>/10 mM D-Ser</text>
<rect x="105.2" y="545.9" width="113.8" height="3.6" fill="#000"/>
<rect x="105.2" y="549.9" width="125.7" height="3.6" fill="#e3004f"/>
<text x="283.5" y="543.1" font-size="16" text-anchor="start" fill="#000">D2-Lc</text>
<text x="283.5" y="561.6" font-size="16" text-anchor="start" fill="#e3004f">D2-Lc-(H)N1</text>
<text x="334.8" y="639.5" font-size="16" text-anchor="end" fill="#000">20 nA</text>
<line x1="339.5" y1="621.4" x2="339.5" y2="649.3" stroke="#000" stroke-width="1.6"/>
<line x1="345" y1="655.2" x2="373.3" y2="655.2" stroke="#000" stroke-width="1.6"/>
<text x="349" y="672.4" font-size="16" text-anchor="start" fill="#000">5 s</text>
<polyline points="34.6,769.21 35.2,768.56 35.8,768.84 36.4,769.19 37,768.32 37.6,768.67 38.2,768.92 38.8,768.75 39.4,769.67 40,769.32 40.6,769.14 41.2,768.82 41.8,769.42 42.39,769.39 42.99,769.06 43.59,769.12 44.19,768.83 44.79,769.3 45.39,769.63 45.99,769.7 46.59,769.6 47.19,769.71 47.79,769.3 48.39,769.37 48.99,769.92 49.59,769.72 50.19,769.36 50.79,769.79 51.39,769.92 51.99,769.91 52.59,769.75 53.19,769.58 53.79,769.9 54.39,770.33 54.99,769.87 55.59,769.64 56.19,769.98 56.79,769.51 57.39,769.99 57.99,769.85 58.59,770.26 59.19,770.01 59.79,770.33 60.39,770.74 60.99,769.97 61.59,769.8 62.19,770.22 62.79,770.06 63.39,770.15 63.99,769.93 64.59,770.31 65.2,770.17 65.8,769.48 66.4,770.1 67,770.29 67.6,770.56 68.2,770.03 68.8,769.97 69.4,770.59 70,770.05 70.6,770.28 71.21,770.41 71.81,770.5 72.41,770.28 73.01,769.94 73.61,770.61 74.21,770.17 74.81,770.15 75.41,770.95 76.01,770.61 76.62,770.02 77.22,770.21 77.82,770.29 78.42,770.14 79.02,769.79 79.62,770.65 80.22,770.65 80.82,770.5 81.42,770.31 82.02,770.52 82.62,770.67 83.22,770.16 83.82,770.39 84.42,770.34 85.02,770.75 85.62,770.63 86.22,770.16 86.82,770.39 87.42,771.16 88.02,770.33 88.62,770.7 89.21,770.48 89.81,771.09 90.42,770.71 91.07,770.63 91.76,770.45 92.48,770.81 93.22,771.21 93.98,771.24 94.76,770.71 95.54,771.69 96.32,771.23 97.09,771.07 97.85,771.54 98.59,771.4 99.3,771.51 99.99,771.59 100.63,771.85 101.23,771.81 101.79,771.51 102.28,772.28 102.71,772.01 103.07,772.6 103.36,772.43 103.57,772.48 103.68,772.36 103.73,772.7 103.78,772.17 103.82,771.91 103.86,772.25 103.9,771.21 103.94,771.82 103.98,771.86 104.02,771.51 104.05,771.85 104.09,771.48 104.12,771.08 104.16,770.68 104.19,770.88 104.23,770.06 104.26,769.84 104.29,769.89 104.32,769.51 104.35,769.61 104.38,768.54 104.41,767.64 104.43,768.03 104.46,767.8 104.49,766.93 104.51,767.01 104.54,766.62 104.56,765.38 104.59,764.95 104.61,764.2 104.63,764.24 104.65,763.76 104.68,763.18 104.7,762.05 104.72,761.62 104.74,760.83 104.76,760.18 104.78,759.65 104.79,758.96 104.81,758.76 104.83,758.31 104.85,757.72 104.86,756.86 104.88,755.99 104.89,755.51 104.91,755 104.92,754.04 104.94,753.44 104.95,752.62 104.97,751.83 104.98,751.27 104.99,750.18 105.01,750.11 105.02,748.56 105.03,748.43 105.04,747.11 105.05,747.23 105.07,746.27 105.08,744.98 105.09,744.31 105.1,743.32 105.11,742.87 105.12,742.22 105.13,742.1 105.14,740.09 105.15,740.1 105.16,738.74 105.17,738.21 105.18,737.6 105.19,736.7 105.2,735.86 105.21,734.87 105.22,734.12 105.23,733.37 105.24,732.9 105.25,731.28 105.26,730.78 105.27,729.76 105.28,729.05 105.29,728.31 105.3,728.11 105.31,727.65 105.32,726.63 105.33,725.07 105.34,724.69 105.35,723.55 105.36,723.27 105.37,722.77 105.38,721.81 105.39,721.15 105.4,720.1 105.41,718.8 105.42,718.07 105.44,717.94 105.45,717.43 105.46,716.95 105.47,715.75 105.49,715.2 105.5,714.58 105.51,714.16 105.53,713.15 105.54,712.19 105.56,712.22 105.57,711.38 105.59,710.76 105.6,709.64 105.62,709.43 105.63,708.31 105.65,707.62 105.66,707.56 105.68,706.9 105.69,706.61 105.71,706.28 105.72,705.22 105.74,705.18 105.75,703.85 105.76,703.67 105.78,702.44 105.79,702.27 105.8,701.53 105.82,700.97 105.83,700.61 105.84,699.25 105.86,699.26 105.87,698.38 105.88,698.06 105.89,697.55 105.9,696.71 105.92,696.11 105.93,695.27 105.94,695.19 105.95,694.22 105.96,693.96 105.97,692.78 105.99,693.04 106,691.71 106.01,691.78 106.02,690.68 106.03,690.39 106.04,689.57 106.05,689.23 106.06,688.42 106.07,688.21 106.09,687.42 106.1,686.82 106.11,686.53 106.12,685.2 106.13,685.21 106.14,684.23 106.15,683.15 106.16,683.16 106.17,682.35 106.18,682.33 106.19,681.06 106.2,680.62 106.21,680.08 106.23,678.82 106.24,678.96 106.25,677.9 106.26,678.04 106.27,677.51 106.28,676.4 106.29,675.31 106.3,675.26 106.31,674.65 106.33,674.22 106.34,673.31 106.35,672.43 106.36,672.15 106.37,671.31 106.38,671.54 106.4,670.18 106.41,669.59 106.42,669.18 106.43,668.21 106.44,667.85 106.46,667.35 106.47,666.64 106.48,666.11 106.49,665.97 106.51,665.12 106.52,663.98 106.53,663.66 106.55,663.42 106.56,662.39 106.58,662.01 106.59,661.38 106.6,660.95 106.62,660.13 106.63,659.54 106.65,658.72 106.66,658.5 106.68,657.5 106.69,657.72 106.71,656.58 106.73,655.92 106.74,655.63 106.76,654.76 106.78,654.21 106.79,653.57 106.81,652.76 106.83,652.1 106.85,651.57 106.86,651.53 106.88,650.39 106.9,649.86 106.92,649.25 106.94,649 106.96,648.79 106.98,647.3 107,647.15 107.02,646.42 107.04,645.69 107.06,645.34 107.08,644.2 107.11,644.24 107.13,643.46 107.15,642.48 107.17,642.68 107.2,641.85 107.22,641.35 107.25,639.94 107.27,639.71 107.3,639.03 107.33,638.78 107.36,638.41 107.39,636.81 107.42,636.8 107.45,636.15 107.49,635.9 107.52,634.98 107.56,634 107.6,633.73 107.64,632.87 107.68,632.35 107.72,632 107.76,631.24 107.8,630.87 107.85,629.72 107.89,630.3 107.94,629.38 107.98,628.61 108.03,627.39 108.08,626.53 108.13,626.33 108.18,625.92 108.23,626.08 108.29,625.19 108.34,624.03 108.4,623.97 108.45,623.37 108.51,622.4 108.57,622.17 108.63,621.3 108.68,620.4 108.74,619.65 108.81,619.37 108.87,619.12 108.93,617.8 108.99,617.13 109.06,617.19 109.12,615.6 109.19,616.39 109.26,615.1 109.33,614.87 109.39,614.62 109.46,613.01 109.54,612.54 109.61,612.95 109.69,611.58 109.78,611.03 109.86,610.55 109.95,610.21 110.04,609.69 110.13,608.72 110.23,607.99 110.33,607.48 110.43,606.99 110.54,606.7 110.65,605.75 110.76,605.67 110.87,604.26 110.99,604.09 111.11,603.87 111.23,603.14 111.35,602.26 111.48,601.29 111.61,600.76 111.74,600.34 111.87,599.9 112.01,599.15 112.15,598.19 112.29,597.84 112.44,597.64 112.58,597.16 112.73,595.9 112.88,595.65 113.04,594.68 113.2,594.44 113.37,595.13 113.54,593.49 113.73,592.78 113.91,592.13 114.11,591.36 114.3,590.59 114.51,590.57 114.72,589.92 114.94,589.88 115.16,588.35 115.38,588.42 115.62,588.13 115.85,586.55 116.1,586.79 116.35,585.53 116.6,585.63 116.86,585.37 117.12,584.37 117.39,583.92 117.66,583.08 117.93,582.86 118.22,582.59 118.5,581.67 118.79,581.17 119.08,580.83 119.38,580.47 119.68,579.22 119.99,579.26 120.32,578.53 120.65,578.39 121,578.04 121.36,577.31 121.74,577.1 122.12,575.88 122.52,575.55 122.92,574.87 123.33,574.7 123.75,574.23 124.18,573.66 124.62,572.89 125.07,572.8 125.52,572.27 125.97,572.18 126.44,571.54 126.9,571.62 127.37,571.01 127.85,570.07 128.33,570.32 128.81,569.7 129.29,570.23 129.79,570.18 130.3,569.54 130.82,569.49 131.35,568.73 131.9,568.31 132.45,568.66 133.01,568.59 133.58,568.05 134.15,568.39 134.74,568.31 135.33,568.27 135.92,568.41 136.52,568.05 137.13,567.56 137.74,567.58 138.35,567.61 138.97,566.99 139.59,567.6 140.21,567.36 140.83,566.91 141.45,566.68 142.07,567.94 142.69,566.93 143.31,566.86 143.92,567.03 144.54,566.69 145.15,566.36 145.75,566.43 146.35,565.84 146.95,566.26 147.54,565.48 148.13,566 148.73,565.95 149.32,565.22 149.91,566.2 150.5,565.17 151.1,565.76 151.69,565.19 152.29,565.37 152.88,564.98 153.47,565.87 154.07,565.33 154.67,565.49 155.26,565.09 155.86,564.98 156.45,564.73 157.05,564.53 157.65,564.71 158.24,564.5 158.84,564.32 159.44,563.87 160.04,564.12 160.63,564.32 161.23,563.92 161.83,564.09 162.43,563.87 163.03,563.53 163.62,563.5 164.22,563.48 164.82,563.55 165.42,563.49 166.02,563.85 166.62,563.11 167.22,562.76 167.82,563.54 168.42,563.13 169.02,563.18 169.62,563.95 170.22,563.56 170.82,563.24 171.42,563.31 172.02,563.01 172.62,563.22 173.22,562.7 173.82,562.63 174.42,562.67 175.02,563.27 175.62,563.23 176.22,562.54 176.82,563.06 177.42,562.63 178.02,562.99 178.62,562.55 179.21,562.93 179.81,562.59 180.41,562.53 181.01,562.6 181.61,562.66 182.21,562.43 182.82,562.19 183.43,563.13 184.04,562.49 184.66,562.05 185.28,561.91 185.9,561.75 186.53,562.42 187.15,563.03 187.78,562.11 188.42,562.51 189.05,562.04 189.69,562.95 190.32,562.72 190.96,562.71 191.6,563.03 192.24,563.12 192.88,562.93 193.52,562.43 194.16,562.2 194.81,562.29 195.45,562.07 196.09,563.17 196.73,562.55 197.37,562.65 198.01,562.67 198.65,563.23 199.29,562.44 199.92,562.98 200.55,562.71 201.19,562.57 201.81,562.02 202.44,562.9 203.07,562.38 203.69,562.47 204.31,562.68 204.92,562.64 205.53,562.96 206.14,562.41 206.75,562.66 207.35,562.7 207.94,562.62 208.54,562.82 209.12,562.53 209.71,562.98 210.29,562.39 210.86,562.17 211.43,562.6 211.99,562.98 212.54,562.45 213.09,562.42 213.64,562.51 214.17,562.66 214.7,562.56 215.23,562.71 215.75,562.08 216.25,563.08 216.76,562.79 217.25,562.35 217.74,563.04 218.22,562.76 218.72,563.21 219.23,562.69 219.73,563.98 220.21,563.98 220.65,563.88 221.03,565.31 221.33,565.54 221.54,565.81 221.72,566.54 221.89,566.5 222.05,567.78 222.2,568.04 222.35,568.54 222.5,569.59 222.64,569.7 222.77,570.02 222.9,570.48 223.03,571.31 223.15,572.22 223.26,572.27 223.38,572.7 223.48,573.89 223.59,574.2 223.69,574.77 223.78,576.01 223.88,575.59 223.97,576.63 224.05,576.63 224.14,577.69 224.22,578.58 224.3,579.36 224.37,579.24 224.45,580.51 224.52,581.12 224.59,581.47 224.66,582.89 224.73,582.76 224.79,583.12 224.86,584.16 224.92,584.08 224.99,585.77 225.05,586.23 225.11,586.43 225.17,587.38 225.23,587.98 225.3,589.04 225.36,588.89 225.42,589.3 225.49,589.7 225.55,590.86 225.62,591.09 225.68,592.14 225.75,592.93 225.82,593.28 225.89,593.74 225.96,595 226.04,595.17 226.12,595.9 226.19,596.72 226.27,596.62 226.35,597.33 226.42,598.98 226.5,598.76 226.57,599.08 226.65,599.92 226.72,600.42 226.79,600.81 226.87,601.66 226.94,602.38 227.01,602.97 227.08,603.74 227.15,603.63 227.22,604.3 227.29,605.61 227.36,605.82 227.43,606.93 227.5,607.25 227.57,607.31 227.64,608.51 227.71,608.63 227.77,609.62 227.84,610.52 227.91,611.38 227.98,611.31 228.04,612.14 228.11,612.62 228.17,613.36 228.24,612.93 228.3,614.19 228.37,615 228.43,615.65 228.5,615.87 228.56,616.96 228.63,617.64 228.69,617.92 228.76,618.43 228.82,618.98 228.88,619.73 228.95,620.65 229.01,621.35 229.07,621.34 229.14,621.79 229.2,622.43 229.26,623.58 229.32,623.94 229.39,624.56 229.45,625.22 229.51,625.78 229.57,626.22 229.64,626.54 229.7,627.27 229.76,628.09 229.83,628.77 229.89,629.14 229.95,629.72 230.01,630.87 230.08,630.9 230.14,631.71 230.2,632.14 230.27,632.57 230.33,632.96 230.39,633.86 230.46,634.37 230.52,635.48 230.58,635.47 230.65,636.29 230.71,637.22 230.77,637.58 230.84,638.36 230.9,639.06 230.96,638.89 231.02,639.88 231.08,640.3 231.14,641.61 231.2,641.76 231.26,642.55 231.32,643.51 231.38,643.48 231.43,644.21 231.49,644.91 231.55,645.31 231.6,646.37 231.66,646.84 231.71,647.49 231.77,647.8 231.82,648.28 231.88,648.87 231.93,649.47 231.99,649.68 232.04,650.89 232.1,651.63 232.15,651.97 232.2,652.42 232.26,653.19 232.31,653.84 232.37,654.47 232.42,655.52 232.48,655.31 232.53,656.28 232.59,656.98 232.64,657.39 232.69,657.9 232.75,658.25 232.81,658.98 232.86,659.98 232.92,660.8 232.97,660.76 233.03,661.7 233.09,662.32 233.15,663.06 233.2,663.43 233.26,664.09 233.32,664.82 233.38,664.79 233.44,665.76 233.5,665.8 233.57,666.34 233.63,667.29 233.69,667.66 233.76,668.88 233.82,669.63 233.89,669.83 233.95,670.48 234.02,671.04 234.09,671.63 234.16,672.35 234.23,673.01 234.3,673.36 234.37,673.85 234.44,674.53 234.51,675.52 234.59,675.75 234.67,676.91 234.74,676.99 234.82,678.07 234.9,677.89 234.98,678.63 235.06,679.58 235.15,680.18 235.23,680.57 235.31,681.83 235.4,681.83 235.49,682.5 235.57,682.84 235.66,684.12 235.74,684.49 235.83,684.96 235.92,684.95 236.01,686.17 236.1,686.53 236.19,687.41 236.29,688.18 236.38,688.29 236.48,689.2 236.57,690.02 236.67,690.42 236.77,690.88 236.88,691.28 236.98,692.01 237.09,692.44 237.2,693.74 237.31,694.08 237.42,694.29 237.54,695.26 237.66,695.48 237.78,695.48 237.9,697.43 238.03,698.02 238.16,697.82 238.3,698.63 238.43,699.5 238.57,699.9 238.72,700.34 238.86,701.02 239.01,701.67 239.17,702.14 239.33,702.94 239.49,703.36 239.66,703.75 239.83,704.53 240,704.56 240.18,706.03 240.36,705.6 240.55,706.62 240.75,707.26 240.94,707.79 241.15,708.25 241.39,709.06 241.65,708.85 241.93,709.68 242.24,710.26 242.57,710.58 242.92,711.06 243.29,712.14 243.68,712.04 244.08,712.61 244.5,713.16 244.93,713.66 245.36,714.24 245.81,714.59 246.27,715.21 246.73,715.57 247.2,716.1 247.67,716.76 248.14,716.48 248.62,717.59 249.09,717.31 249.56,717.96 250.02,718.11 250.49,718.25 250.97,718.03 251.45,719.36 251.95,718.92 252.46,719.16 252.97,719.97 253.5,719.91 254.03,720.7 254.57,720.87 255.12,720.8 255.68,720.89 256.24,721.26 256.8,720.85 257.38,721.51 257.96,721.7 258.54,721.72 259.12,722.13 259.71,721.81 260.31,722.7 260.9,723 261.5,722.41 262.1,723.02 262.7,723.61 263.31,723.44 263.91,723.17 264.51,723.35 265.12,724.05 265.72,724.5 266.32,723.78 266.92,724.27 267.51,724.17 268.11,724.47 268.7,724.79 269.28,724.82 269.86,724.77 270.44,725.74 271.02,725.2 271.6,725.32 272.19,725.84 272.77,725.64 273.36,725.7 273.94,726.16 274.53,725.69 275.11,726.34 275.7,726.54 276.29,726.54 276.88,726.41 277.47,726.57 278.06,726.17 278.65,726.75 279.24,726.98 279.84,727.26 280.43,727.14 281.02,727.09 281.61,727.05 282.21,727.39 282.8,727.54 283.4,727.96 283.99,727.7 284.59,727.64 285.18,727.85 285.78,727.83 286.38,728 286.97,727.51 287.57,727.78 288.16,727.99 288.76,728.58 289.35,728.5 289.95,728.66 290.55,729.05 291.14,728.49 291.74,729.23 292.33,729.09 292.92,728.85 293.52,729.6 294.11,728.82 294.71,729 295.3,729.36 295.89,729.64 296.49,729.55 297.08,729.06 297.67,729.69 298.27,729.84 298.86,730.71 299.46,730.45 300.05,730.16 300.64,729.89 301.24,730.39 301.83,730.03 302.43,730.52 303.02,730.65 303.62,730.51 304.21,730.78 304.81,730.69 305.4,730.7 306,731.41 306.59,731.2 307.19,731.02 307.78,730.96 308.38,731.32 308.97,731.52 309.57,731.68 310.16,731.94 310.76,731.72 311.36,731.33 311.95,732.34 312.55,732.16 313.14,732.14 313.74,732.36 314.33,731.6 314.93,732.01 315.53,732.04 316.12,732.62 316.72,732 317.31,732.33 317.91,732.95 318.51,732.76 319.1,732.53 319.7,733.28 320.29,732.4 320.89,733 321.49,732.88 322.08,733.17 322.68,733.01 323.28,732.92 323.87,733.3 324.47,732.92 325.06,733.54 325.66,733.37 326.26,733.81 326.85,733.48 327.45,733.49 328.04,733.88 328.64,734.2 329.24,733.29 329.83,734.02 330.43,734.24 331.03,733.71 331.62,733.94 332.22,734.47 332.81,734.11 333.41,734.24 334.01,735.01 334.6,734.3 335.2,734.4 335.79,734.05 336.39,734.49 336.98,734.52 337.58,735.47 338.18,735.4 338.77,734.74 339.37,735.78 339.96,735.5 340.56,735.3 341.15,735.67 341.75,735.62 342.34,735.36 342.94,735.14 343.54,735.47 344.13,735.82 344.73,735.79 345.32,735.76 345.92,736.34 346.51,735.82 347.11,736.47 347.7,736.14 348.3,736.4 348.89,736.11 349.49,736.52 350.09,736.37 350.68,736.16 351.28,736.75 351.87,736.82 352.47,737.16 353.06,737.07 353.66,736.77 354.25,736.97 354.85,736.49 355.44,736.97 356.04,737.76 356.64,737.91 357.23,737.76 357.83,737.7 358.42,737.87 359.02,737.92 359.61,737.34 360.21,737.67 360.8,738.36 361.4,738.43 361.99,738.23 362.59,738.15 363.19,738.2 363.78,738.24 364.38,738.2 364.97,737.98 365.57,738.67 366.16,738.57 366.76,738.72 367.35,739.37 367.95,739.12 368.55,738.81 369.14,739.27 369.74,738.73 370.33,739.57 370.93,739.41 371.52,739.35 372.12,739.66 372.71,740 373.31,739.51 373.9,739.43 374.5,740.43" fill="none" stroke="#111" stroke-width="1.3" stroke-linejoin="round"/>
<polyline points="34.6,773.2 35.2,773.37 35.8,773.1 36.4,773.22 37,773.09 37.61,773.23 38.21,773.12 38.81,773.06 39.41,773.32 40.01,773.16 40.61,772.87 41.21,773.07 41.81,772.98 42.41,772.94 43.01,773 43.62,773.01 44.22,773.06 44.82,772.95 45.42,772.81 46.02,772.96 46.62,773.11 47.22,772.84 47.82,773.06 48.42,773.03 49.02,772.91 49.63,772.99 50.23,772.85 50.83,772.88 51.43,772.8 52.03,772.96 52.63,773.06 53.23,772.8 53.83,773.01 54.43,772.6 55.03,772.74 55.64,772.71 56.24,773.02 56.84,772.73 57.44,772.88 58.04,772.53 58.64,772.78 59.24,772.82 59.84,772.73 60.44,772.4 61.04,772.73 61.65,772.79 62.25,772.84 62.85,772.72 63.45,772.45 64.05,772.62 64.65,772.74 65.25,772.52 65.85,772.67 66.45,772.53 67.05,772.58 67.65,772.65 68.26,772.46 68.86,772.87 69.46,772.53 70.06,772.54 70.66,772.39 71.26,772.47 71.86,772.42 72.46,772.25 73.06,772.23 73.66,772.42 74.27,772.36 74.87,772.03 75.47,772.06 76.07,772.26 76.67,772.26 77.27,772.32 77.87,772.08 78.47,772.27 79.07,772.14 79.67,772.09 80.28,772.11 80.88,772.22 81.48,772.15 82.08,772.17 82.68,771.96 83.28,771.99 83.88,771.86 84.48,771.92 85.08,771.92 85.68,771.9 86.28,772.03 86.88,771.98 87.48,772.01 88.08,771.93 88.69,772.03 89.29,771.92 89.89,772.02 90.5,771.96 91.15,772 91.83,771.91 92.53,771.78 93.26,771.78 94,772.21 94.76,772.04 95.52,772.08 96.29,772.04 97.05,772.04 97.8,772.48 98.55,772.05 99.27,772.22 99.98,772.27 100.65,772.19 101.3,772.23 101.91,772.36 102.48,772.46 103,772.51 103.47,772.73 103.89,772.56 104.24,772.82 104.53,773.02 104.75,773.03 104.9,772.86 104.99,772.76 105.09,773.41 105.18,773.64 105.26,773.86 105.34,774.49 105.42,774.77 105.49,775.36 105.55,775.81 105.61,776.61 105.67,777.21 105.73,777.92 105.78,778.87 105.83,779.55 105.88,780.16 105.93,781.26 105.97,782.13 106.01,782.8 106.05,783.73 106.09,784.66 106.12,785.5 106.16,786.42 106.2,787.34 106.23,788.06 106.27,789.19 106.3,789.66 106.34,790.46 106.37,791.51 106.41,792.26 106.45,792.65 106.49,793.24 106.53,793.7 106.57,794.48 106.61,794.81 106.66,795.08 106.71,795.55 106.76,795.91 106.81,795.99 106.87,796.26 106.93,796.12 107,795.9 107.07,795.61 107.15,795.33 107.23,794.97 107.31,794.41 107.39,793.85 107.47,793.1 107.55,792.46 107.63,791.77 107.71,790.84 107.79,789.92 107.87,789.48 107.94,788.55 108,787.65 108.06,786.98 108.12,786.2 108.17,785.35 108.2,784.91 108.24,784.16 108.27,783.76 108.31,783.12 108.34,782.67 108.36,781.92 108.39,781.38 108.42,780.7 108.45,780.09 108.47,779.36 108.49,779.05 108.51,778.35 108.54,777.66 108.56,777.15 108.58,776.47 108.59,775.84 108.61,775.35 108.63,774.86 108.65,774.08 108.66,773.34 108.68,772.84 108.69,772.53 108.71,771.61 108.72,771.25 108.74,770.47 108.75,769.99 108.77,769.28 108.78,768.51 108.79,768.04 108.81,767.74 108.82,766.87 108.83,766.35 108.85,765.64 108.86,765.07 108.88,764.52 108.89,763.93 108.91,763.54 108.93,762.67 108.94,762.05 108.96,761.39 108.98,760.71 109,760.08 109.01,759.75 109.04,758.85 109.06,758.64 109.08,757.97 109.1,757.23 109.13,756.53 109.15,756.07 109.18,755.47 109.21,755.01 109.23,754.19 109.26,753.63 109.3,753.07 109.33,752.45 109.36,751.81 109.4,751.08 109.44,750.49 109.48,750.01 109.53,749.47 109.58,749.01 109.64,748.57 109.7,747.89 109.76,747.13 109.83,746.7 109.9,745.86 109.98,745.21 110.06,744.94 110.14,743.93 110.23,743.41 110.32,742.82 110.41,742.43 110.51,741.58 110.61,741.14 110.71,740.4 110.82,739.7 110.93,739.28 111.04,738.67 111.16,737.92 111.28,737.36 111.4,736.78 111.53,736.4 111.66,735.76 111.79,735.15 111.92,734.59 112.06,733.9 112.2,733.44 112.34,732.74 112.49,732.08 112.64,731.59 112.79,731.14 112.94,730.57 113.1,730.12 113.28,729.22 113.48,728.82 113.68,728.31 113.9,727.56 114.14,727.12 114.38,726.45 114.64,725.78 114.9,725.47 115.18,724.59 115.47,724.31 115.76,723.57 116.07,722.95 116.38,722.41 116.7,721.89 117.03,721.36 117.37,720.99 117.71,720.24 118.06,720.14 118.41,719.64 118.77,719.27 119.13,718.58 119.49,718.03 119.86,717.87 120.25,717.56 120.66,717.26 121.09,716.8 121.53,716.5 121.99,716.17 122.47,715.62 122.96,715.68 123.46,714.99 123.98,714.82 124.51,714.59 125.05,714.04 125.6,713.82 126.16,713.71 126.72,713.18 127.3,713.04 127.88,712.67 128.46,712.39 129.05,712.19 129.64,711.83 130.24,711.6 130.83,711.51 131.43,711.22 132.02,711.05 132.61,710.66 133.2,710.64 133.79,710.63 134.37,710.46 134.95,710.27 135.52,710.07 136.08,709.97 136.65,710.01 137.22,710.04 137.79,709.8 138.36,709.87 138.94,709.59 139.52,709.69 140.1,709.35 140.68,709.42 141.26,709.19 141.85,709.32 142.43,709.24 143.02,708.99 143.61,708.94 144.2,708.91 144.8,708.71 145.39,708.71 145.99,708.66 146.59,708.79 147.19,708.8 147.79,708.52 148.39,708.48 148.99,708.48 149.59,708.33 150.2,708.31 150.8,708.39 151.41,708.26 152.02,708.17 152.62,708.06 153.23,708.26 153.84,707.96 154.45,708.01 155.06,707.82 155.67,707.84 156.28,707.88 156.89,707.78 157.5,707.85 158.11,707.76 158.73,707.55 159.34,707.41 159.95,707.78 160.56,707.56 161.17,707.78 161.78,707.58 162.39,707.46 163,707.6 163.61,707.48 164.22,707.49 164.83,707.36 165.43,707.53 166.04,707.58 166.65,707.37 167.25,707.64 167.86,707.35 168.46,707.44 169.06,707.21 169.66,707.17 170.27,707.65 170.87,707.57 171.48,707.54 172.1,707.2 172.73,707.43 173.36,707.45 174,707.41 174.64,707.44 175.29,707.29 175.94,707.38 176.6,707.26 177.27,707.36 177.94,707.45 178.61,707.31 179.29,707.37 179.97,707.35 180.66,707.4 181.35,707.51 182.04,707.43 182.74,707.45 183.44,707.23 184.14,707.36 184.85,707.5 185.55,707.3 186.26,707.35 186.98,707.29 187.69,707.56 188.41,707.35 189.12,707.31 189.84,707.48 190.56,707.53 191.28,707.46 192,707.52 192.73,707.43 193.45,707.39 194.17,707.35 194.89,707.34 195.61,707.33 196.33,707.45 197.05,707.39 197.77,707.41 198.49,707.47 199.2,707.39 199.92,707.24 200.63,707.31 201.34,707.27 202.05,707.17 202.76,707.41 203.46,707.26 204.16,707.25 204.86,707.27 205.55,707.51 206.24,707.36 206.93,707.52 207.61,707.39 208.29,707.35 208.96,707.47 209.63,707.47 210.3,707.41 210.96,707.28 211.61,707.35 212.26,707.26 212.9,707.37 213.54,707.41 214.17,707.58 214.8,707.57 215.42,707.48 216.03,707.51 216.64,707.43 217.24,707.73 217.83,707.58 218.41,707.72 218.99,707.45 219.56,707.45 220.12,707.53 220.67,707.42 221.22,707.44 221.75,707.28 222.28,707.51 222.79,707.42 223.3,707.5 223.8,707.37 224.29,707.19 224.77,707.46 225.24,707.54 225.7,707.25 226.14,707.28 226.58,707.36 227.01,707.37 227.42,707.2 227.83,707.61 228.22,707.52 228.6,707.33 228.97,707.18 229.32,707.44 229.67,707.64 230,707.5 230.32,707.54 230.62,707.29 230.92,707.43 231.19,707.22 231.46,707.64 231.71,707.47 231.95,707.13 232.18,707.07 232.39,707.18 232.6,706.89 232.8,706.53 233,706.26 233.18,706 233.36,705.31 233.54,704.51 233.71,704.13 233.87,703.37 234.03,702.77 234.18,702.22 234.34,701.45 234.49,700.61 234.64,699.99 234.78,699.13 234.93,698.53 235.08,697.67 235.23,696.98 235.37,696.14 235.53,695.52 235.68,694.68 235.83,693.99 235.99,693.24 236.16,692.68 236.33,691.84 236.5,691.78 236.67,690.76 236.84,690.2 237.01,689.44 237.17,688.73 237.34,688.1 237.5,687.24 237.66,686.49 237.83,685.62 237.99,684.9 238.15,684.12 238.32,683.72 238.48,682.61 238.65,681.93 238.82,681.39 238.99,680.88 239.17,679.88 239.35,679.31 239.53,678.97 239.71,678.51 239.9,677.87 240.1,677.46 240.29,677.25 240.5,677.22 240.71,676.97 240.92,676.99 241.14,676.9 241.38,677.01 241.62,677.26 241.88,677.42 242.15,677.78 242.43,678.02 242.71,678.49 243,679.1 243.3,679.55 243.6,680.06 243.91,680.84 244.22,681.47 244.53,682.06 244.84,682.65 245.15,683.55 245.46,684.44 245.77,684.75 246.07,685.36 246.37,686.15 246.66,686.81 246.95,687.43 247.23,688.08 247.49,688.93 247.75,689.5 248,690.12 248.25,690.57 248.49,690.97 248.73,691.71 248.96,692.06 249.19,692.64 249.42,693.1 249.65,693.94 249.87,694.48 250.09,694.86 250.31,695.44 250.52,696.04 250.73,696.62 250.94,697.27 251.15,697.74 251.36,698.35 251.56,698.68 251.77,699.4 251.97,699.79 252.17,700.79 252.37,701.31 252.57,701.8 252.77,702.42 252.97,703.09 253.17,703.54 253.37,703.8 253.57,704.54 253.76,704.86 253.96,705.61 254.16,706.13 254.36,706.85 254.56,707.47 254.76,707.88 254.96,708.52 255.17,709.16 255.37,709.67 255.58,710.24 255.79,710.53 256,711.33 256.21,712.04 256.42,712.54 256.64,712.89 256.86,713.6 257.08,714.22 257.3,714.63 257.53,715.38 257.76,715.75 257.99,716.36 258.23,716.93 258.47,717.76 258.72,718 258.96,718.51 259.22,719.21 259.47,719.6 259.73,720.22 259.99,720.47 260.25,721.32 260.52,721.82 260.78,722.21 261.05,723.07 261.33,723.42 261.6,723.97 261.88,724.38 262.16,724.89 262.44,725.55 262.72,725.98 263.01,726.76 263.3,727.35 263.6,727.7 263.89,728.12 264.19,728.8 264.49,729.25 264.8,729.92 265.11,730.45 265.42,730.89 265.74,731.47 266.05,732.1 266.37,732.69 266.7,732.93 267.03,733.58 267.36,733.96 267.7,734.36 268.03,735.13 268.38,735.5 268.72,735.95 269.07,736.44 269.43,736.85 269.79,737.2 270.15,737.99 270.52,738.34 270.89,738.72 271.27,739.26 271.66,739.76 272.06,740.04 272.46,740.59 272.86,740.94 273.28,741.51 273.69,741.86 274.12,742.64 274.55,742.75 274.98,743.31 275.42,743.74 275.86,744.09 276.31,744.68 276.76,744.99 277.22,745.37 277.68,745.84 278.14,746.16 278.61,746.8 279.08,747.13 279.55,747.57 280.03,747.67 280.51,748.24 280.99,748.48 281.48,748.94 281.96,749.42 282.45,749.64 282.94,749.91 283.44,750.37 283.93,750.66 284.43,751.05 284.92,750.87 285.42,751.4 285.92,751.56 286.43,751.76 286.94,752.13 287.46,752.22 287.98,752.34 288.5,752.74 289.03,753.06 289.56,753.56 290.1,753.48 290.64,753.66 291.19,753.8 291.73,754.22 292.29,754.47 292.84,754.74 293.4,754.77 293.96,755.07 294.53,755.11 295.09,755.61 295.67,755.62 296.24,755.69 296.81,756.36 297.39,756.49 297.97,756.67 298.55,756.87 299.14,756.89 299.72,757.34 300.31,757.27 300.9,757.81 301.49,757.79 302.09,757.72 302.68,758.23 303.27,758.53 303.87,758.43 304.47,758.76 305.06,758.77 305.66,758.88 306.26,758.8 306.86,759.41 307.46,759.35 308.06,759.6 308.66,759.56 309.26,759.72 309.86,760.1 310.46,760.05 311.06,760.17 311.65,760.19 312.25,760.48 312.85,760.66 313.44,760.63 314.04,760.76 314.63,760.74 315.22,761.15 315.81,761 316.4,761.15 316.99,761.45 317.57,761.31 318.16,761.23 318.74,761.38 319.33,761.53 319.92,761.86 320.5,761.75 321.09,761.78 321.68,761.98 322.26,762.12 322.85,761.95 323.44,762.29 324.03,762.29 324.61,762.32 325.2,762.05 325.79,762.44 326.38,762.66 326.97,762.53 327.56,762.91 328.15,762.72 328.74,762.66 329.33,762.92 329.92,762.96 330.51,763.09 331.1,763.03 331.69,763.29 332.29,763.13 332.88,763.28 333.47,763.18 334.06,763.3 334.66,763.49 335.25,763.45 335.84,763.54 336.44,763.64 337.03,763.76 337.62,763.88 338.22,763.94 338.81,764.04 339.41,764 340.01,763.97 340.6,763.9 341.2,764.11 341.79,764.11 342.39,764.05 342.99,764.52 343.59,764.15 344.18,764.47 344.78,764.55 345.38,764.51 345.98,764.9 346.58,764.64 347.18,764.6 347.78,764.95 348.38,764.69 348.98,764.66 349.58,764.76 350.18,764.85 350.78,764.98 351.38,765.06 351.98,764.88 352.59,765.15 353.19,765.42 353.79,765.1 354.4,765.21 355,765.35 355.6,765.45 356.21,765.26 356.81,765.26 357.42,765.28 358.02,765.57 358.63,765.58 359.23,765.24 359.84,765.27 360.45,765.41 361.05,765.41 361.66,765.67 362.27,765.67 362.88,765.9 363.49,765.79 364.09,765.73 364.7,765.88 365.31,765.64 365.92,765.6 366.53,765.79 367.14,765.92 367.76,765.62 368.37,765.94 368.98,765.95 369.59,765.79 370.2,765.89 370.82,765.84 371.43,765.89 372.04,765.99 372.66,765.79 373.27,766.02 373.88,766 374.5,766.01" fill="none" stroke="#e3004f" stroke-width="1.3" stroke-linejoin="round"/>
<text x="0.5" y="829.5" font-size="24" text-anchor="start" fill="#000" font-weight="bold">f</text>
<text x="34.7" y="834.7" font-size="16" text-anchor="start" fill="#000">D2-Lc</text>
<text x="141.7" y="834.7" font-size="16" text-anchor="start" fill="#000">D2-Lc-</text>
<text x="141.7" y="854.2" font-size="16" text-anchor="start" fill="#000">(H)N1</text>
<text x="249.3" y="834.7" font-size="16" text-anchor="start" fill="#000">D2-Lc-</text>
<text x="249.3" y="854.2" font-size="16" text-anchor="start" fill="#000" textLength="52" lengthAdjust="spacingAndGlyphs">(H<tspan font-size="10" dy="4">S1</tspan><tspan dy="-4">)N1</tspan></text>
<text x="356.1" y="834.7" font-size="16" text-anchor="start" fill="#000">D2-Lc-</text>
<text x="356.1" y="854.2" font-size="16" text-anchor="start" fill="#000" textLength="54" lengthAdjust="spacingAndGlyphs">(H<tspan font-size="10" dy="4">S2</tspan><tspan dy="-4">)N1</tspan></text>
<text x="464.3" y="834.7" font-size="16" text-anchor="start" fill="#000" textLength="86.5" lengthAdjust="spacingAndGlyphs">D2-Lc(D542Y)-</text>
<text x="464.3" y="854.2" font-size="16" text-anchor="start" fill="#000" textLength="43" lengthAdjust="spacingAndGlyphs">(H<tspan font-size="10" dy="4">S2</tspan><tspan dy="-4">)N1</tspan></text>
<text x="571" y="834.7" font-size="16" text-anchor="start" fill="#000" textLength="90" lengthAdjust="spacingAndGlyphs">D2-Lc(Y543Q)-</text>
<text x="571" y="854.2" font-size="16" text-anchor="start" fill="#000" textLength="43" lengthAdjust="spacingAndGlyphs">(H<tspan font-size="10" dy="4">S2</tspan><tspan dy="-4">)N1</tspan></text>
<text x="679.2" y="834.7" font-size="16" text-anchor="start" fill="#000" textLength="88.5" lengthAdjust="spacingAndGlyphs">D2-Lc(S544G)-</text>
<text x="679.2" y="854.2" font-size="16" text-anchor="start" fill="#000" textLength="43" lengthAdjust="spacingAndGlyphs">(H<tspan font-size="10" dy="4">S2</tspan><tspan dy="-4">)N1</tspan></text>
<text x="66.7" y="888.6" font-size="16" text-anchor="start" fill="#000" textLength="41" lengthAdjust="spacingAndGlyphs">D-Ser</text>
<line x1="78.7" y1="893.9" x2="95.2" y2="893.9" stroke="#000" stroke-width="2.2"/>
<text x="65.9" y="913.7" font-size="16">Na<tspan font-size="10" dy="-6">+</tspan></text>
<line x1="44" y1="919.4" x2="112.9" y2="919.4" stroke="#000" stroke-width="2.4"/>
<text x="162.7" y="888.6" font-size="16" text-anchor="start" fill="#000" textLength="41.3" lengthAdjust="spacingAndGlyphs">D-Ser</text>
<line x1="178.2" y1="893.9" x2="187.9" y2="893.9" stroke="#000" stroke-width="2.2"/>
<text x="165.7" y="913.7" font-size="16">Na<tspan font-size="10" dy="-6">+</tspan></text>
<line x1="154" y1="919.4" x2="202.2" y2="919.4" stroke="#000" stroke-width="2.4"/>
<text x="270.3" y="888.6" font-size="16" text-anchor="start" fill="#000" textLength="41" lengthAdjust="spacingAndGlyphs">D-Ser</text>
<line x1="285" y1="893.9" x2="296.7" y2="893.9" stroke="#000" stroke-width="2.2"/>
<text x="278.5" y="913.7" font-size="16">Na<tspan font-size="10" dy="-6">+</tspan></text>
<line x1="262.2" y1="919.4" x2="319.2" y2="919.4" stroke="#000" stroke-width="2.4"/>
<text x="376.5" y="888.6" font-size="16" text-anchor="start" fill="#000" textLength="41.8" lengthAdjust="spacingAndGlyphs">D-Ser</text>
<line x1="392.6" y1="893.9" x2="402.8" y2="893.9" stroke="#000" stroke-width="2.2"/>
<text x="380.9" y="913.7" font-size="16">Na<tspan font-size="10" dy="-6">+</tspan></text>
<line x1="368.4" y1="919.4" x2="419.5" y2="919.4" stroke="#000" stroke-width="2.4"/>
<text x="486.7" y="888.6" font-size="16" text-anchor="start" fill="#000" textLength="41.9" lengthAdjust="spacingAndGlyphs">D-Ser</text>
<line x1="502.3" y1="893.9" x2="514.8" y2="893.9" stroke="#000" stroke-width="2.2"/>
<text x="494.4" y="913.7" font-size="16">Na<tspan font-size="10" dy="-6">+</tspan></text>
<line x1="482.3" y1="919.4" x2="533" y2="919.4" stroke="#000" stroke-width="2.4"/>
<text x="594.4" y="888.6" font-size="16" text-anchor="start" fill="#000" textLength="41.6" lengthAdjust="spacingAndGlyphs">D-Ser</text>
<line x1="609.6" y1="893.9" x2="621.9" y2="893.9" stroke="#000" stroke-width="2.2"/>
<text x="603.2" y="913.7" font-size="16">Na<tspan font-size="10" dy="-6">+</tspan></text>
<line x1="590" y1="919.4" x2="641.8" y2="919.4" stroke="#000" stroke-width="2.4"/>
<text x="710.5" y="888.6" font-size="16" text-anchor="start" fill="#000" textLength="40.9" lengthAdjust="spacingAndGlyphs">D-Ser</text>
<line x1="722.2" y1="893.9" x2="740.6" y2="893.9" stroke="#000" stroke-width="2.2"/>
<text x="714.9" y="913.7" font-size="16">Na<tspan font-size="10" dy="-6">+</tspan></text>
<line x1="698.2" y1="919.4" x2="757.3" y2="919.4" stroke="#000" stroke-width="2.4"/>
<polyline points="33.3,927.84 34.1,927.8 34.91,927.96 35.72,927.82 36.54,927.78 37.36,927.75 38.16,927.68 38.93,927.74 39.68,927.69 40.4,927.68 41.07,927.76 41.69,927.62 42.25,927.8 42.75,927.52 43.17,927.9 43.52,927.59 43.78,927.75 43.94,927.77 44.01,927.7 44.04,927.8 44.07,927.84 44.1,927.86 44.13,928.25 44.15,928.57 44.18,928.75 44.2,929.02 44.22,929.51 44.24,930.03 44.26,930.52 44.27,931.11 44.29,931.63 44.3,932.21 44.32,932.63 44.33,933.63 44.34,934.13 44.35,934.89 44.36,935.51 44.37,936.27 44.38,937.04 44.39,937.93 44.4,938.71 44.41,939.43 44.42,940.33 44.43,940.94 44.44,941.82 44.45,942.54 44.46,943.48 44.47,944.17 44.48,945.03 44.49,945.87 44.5,946.33 44.51,947.42 44.53,948 44.54,948.66 44.55,949.22 44.57,950.02 44.59,950.5 44.6,951.31 44.62,951.89 44.64,952.66 44.65,953.09 44.67,953.81 44.69,954.42 44.7,955.1 44.72,955.52 44.73,956.22 44.75,956.64 44.76,957.28 44.77,957.97 44.79,958.6 44.8,959.11 44.82,959.79 44.83,960.5 44.84,961.02 44.86,961.66 44.87,962.21 44.89,963.01 44.9,963.66 44.92,964.14 44.93,964.73 44.95,965.49 44.96,966 44.98,966.52 45,967.08 45.01,967.75 45.03,968.59 45.05,968.97 45.07,969.86 45.09,970.23 45.11,970.82 45.13,971.55 45.15,972.03 45.18,972.68 45.2,973.17 45.23,973.75 45.25,974.39 45.28,975.07 45.31,975.59 45.34,976.07 45.37,976.87 45.4,977.4 45.43,977.98 45.47,978.54 45.5,978.99 45.54,979.88 45.58,980.29 45.62,980.95 45.66,981.59 45.71,982.14 45.75,982.64 45.8,983.19 45.86,983.78 45.96,984.41 46.09,984.97 46.25,985.49 46.43,986.16 46.64,986.75 46.88,987.38 47.13,987.94 47.41,988.62 47.7,989.11 48.01,989.74 48.33,990.23 48.67,990.72 49.01,991.22 49.36,991.79 49.71,992.33 50.07,992.85 50.43,993.17 50.79,993.54 51.15,993.91 51.53,994.41 51.93,994.66 52.36,994.95 52.82,995.38 53.31,995.53 53.81,995.97 54.33,996.26 54.87,996.55 55.43,996.76 56,997.21 56.58,997.54 57.16,997.56 57.76,997.93 58.36,998.21 58.96,998.58 59.56,998.58 60.16,998.75 60.76,999.02 61.35,999.37 61.94,999.39 62.51,999.57 63.09,999.85 63.7,999.68 64.35,999.83 65.04,1000.24 65.75,1000.38 66.49,1000.35 67.24,1000.66 68.01,1000.77 68.78,1000.92 69.56,1000.98 70.34,1001.14 71.11,1001.24 71.86,1001.44 72.6,1001.54 73.32,1001.81 74.01,1001.83 74.67,1001.75 75.29,1002.01 75.87,1002.18 76.4,1002.16 76.88,1002.3 77.31,1002.26 77.67,1002.37 77.97,1002.28 78.19,1002.44 78.34,1002.28 78.41,1002.51 78.44,1002.24 78.48,1002.1 78.51,1002.17 78.54,1001.92 78.56,1001.7 78.59,1001.44 78.61,1001.07 78.63,1000.63 78.65,1000.31 78.67,999.86 78.68,999.39 78.7,998.99 78.71,998.21 78.72,997.69 78.74,997.12 78.75,996.4 78.76,995.68 78.76,995.04 78.77,994.47 78.78,993.63 78.79,992.97 78.8,992.1 78.81,991.43 78.81,990.56 78.82,989.76 78.83,989.04 78.84,988.24 78.85,987.55 78.86,986.49 78.87,985.87 78.89,985.16 78.9,984.35 78.92,983.42 78.94,982.62 78.95,981.87 78.97,981.18 79,980.43 79.02,979.72 79.05,979.04 79.08,978.22 79.11,977.56 79.14,976.92 79.18,976.3 79.22,975.82 79.3,975.26 79.4,974.82 79.54,974.04 79.7,973.37 79.89,972.85 80.11,972.05 80.34,971.53 80.6,970.99 80.86,970.41 81.15,969.83 81.44,969.26 81.74,968.72 82.05,968.39 82.37,967.97 82.73,967.73 83.16,967.32 83.64,967.04 84.16,966.55 84.72,966.46 85.31,966.03 85.91,965.71 86.53,965.49 87.14,965.34 87.74,965.29 88.33,965.1 88.92,964.81 89.58,964.78 90.3,964.63 91.05,964.39 91.81,964.32 92.54,964.13 93.23,964.13 93.85,963.91 94.38,964 94.78,963.95 95.04,963.94 95.17,963.95 95.27,964.21 95.36,964.27 95.44,964.58 95.51,964.96 95.57,965.38 95.63,965.83 95.69,966.25 95.73,966.78 95.78,967.43 95.82,968.12 95.85,968.86 95.89,969.58 95.92,970.43 95.95,971.1 95.98,972.05 96.01,972.78 96.05,973.45 96.09,974.36 96.13,974.84 96.17,975.97 96.22,976.65 96.27,977.38 96.33,977.92 96.39,978.93 96.47,979.34 96.55,979.94 96.63,980.65 96.72,981.17 96.82,981.75 96.92,982.52 97.02,983.04 97.13,983.84 97.25,984.45 97.38,985.19 97.51,985.65 97.64,986.51 97.79,987.07 97.94,987.84 98.1,988.24 98.27,989.05 98.45,989.54 98.64,990.11 98.84,990.52 99.05,991.14 99.26,991.64 99.49,991.97 99.73,992.36 99.98,992.77 100.26,993.31 100.62,993.54 101.07,993.94 101.59,994.2 102.16,994.49 102.77,994.77 103.4,994.97 104.03,995.33 104.65,995.43 105.25,995.59 105.85,995.57 106.52,995.83 107.26,995.86 108.03,995.98 108.81,996.21 109.58,996.12 110.31,996.27 110.98,996.41 111.55,996.51 112.01,996.42 112.34,996.51 112.49,996.52 112.53,996.39 112.57,996.26 112.6,996.18 112.63,996.26 112.66,996.06 112.69,995.74 112.72,995.57 112.74,995.32 112.77,995.03 112.79,994.73 112.81,994.55 112.83,993.92 112.85,993.58 112.87,993.06 112.89,992.61 112.91,992.09 112.92,991.63 112.94,991.06 112.95,990.57 112.97,989.98 112.98,989.28 112.99,988.89 113,987.99 113.01,987.46 113.02,986.93 113.03,986 113.04,985.47 113.05,984.76 113.06,983.94 113.07,983.02 113.08,982.53 113.08,981.66 113.09,980.84 113.1,980.21 113.1,979.26 113.11,978.62 113.12,977.69 113.13,976.98 113.13,976.05 113.14,975.3 113.15,974.46 113.16,973.67 113.16,972.95 113.17,972.12 113.18,971.35 113.19,970.65 113.2,969.75 113.21,968.83 113.22,968.19 113.23,967.46 113.24,966.78 113.25,966.04 113.27,965.3 113.28,964.48 113.3,963.84 113.31,962.98 113.33,962.53 113.35,961.79 113.36,961.16 113.38,960.46 113.4,959.88 113.42,959.22 113.44,958.71 113.46,957.95 113.48,957.52 113.5,956.86 113.52,956.36 113.54,955.57 113.56,954.94 113.58,954.34 113.6,953.7 113.62,953.07 113.64,952.36 113.66,951.74 113.68,951.16 113.71,950.56 113.74,949.87 113.76,949.26 113.79,948.72 113.83,948.2 113.86,947.53 113.9,947 113.94,946.43 113.98,945.83 114.02,945.16 114.07,944.59 114.12,943.91 114.17,943.45 114.23,943 114.29,942.34 114.37,942.01 114.51,941.47 114.72,940.78 114.97,940.33 115.28,939.59 115.63,939.08 116.01,938.6 116.42,938.11 116.85,937.59 117.31,937.06 117.77,936.84 118.24,936.27 118.71,935.88 119.17,935.56 119.62,935.2 120.08,934.88 120.57,934.58 121.09,934.22 121.63,934.22 122.2,933.79 122.78,933.5 123.37,933.35 123.97,933.09 124.57,933.19 125.17,932.89 125.77,932.82 126.36,932.69 126.94,932.5 127.52,932.38 128.11,932.16 128.69,932.1 129.28,931.94 129.87,931.89 130.46,931.73 131.05,931.79 131.65,931.66 132.25,931.5 132.85,931.3 133.45,931.43 134.06,931.39 134.66,931.26 135.27,931.13 135.89,931.25 136.5,931.29" fill="none" stroke="#111" stroke-width="1.3" stroke-linejoin="round"/>
<polyline points="141.1,928.54 141.9,928.75 142.72,928.55 143.53,928.71 144.35,928.84 145.16,928.71 145.95,928.74 146.74,928.67 147.5,928.7 148.24,928.89 148.95,928.81 149.62,928.67 150.26,928.67 150.85,928.7 151.39,928.88 151.88,928.72 152.31,928.79 152.68,928.67 152.98,928.6 153.21,928.81 153.36,928.69 153.45,928.65 153.52,928.72 153.6,928.85 153.67,929.04 153.73,929.2 153.8,929.71 153.86,929.97 153.91,930.4 153.97,930.72 154.02,931.24 154.07,931.74 154.12,932.36 154.16,932.91 154.21,933.48 154.25,934.03 154.29,934.65 154.32,935.37 154.36,936.1 154.39,936.84 154.42,937.53 154.46,938.53 154.49,939.19 154.51,939.79 154.54,940.66 154.57,941.44 154.59,942.37 154.62,943.24 154.64,943.87 154.67,944.8 154.69,945.52 154.71,946.41 154.73,947.2 154.76,947.87 154.78,948.64 154.8,949.3 154.83,949.97 154.85,950.58 154.87,951.35 154.9,951.94 154.92,952.52 154.94,953.15 154.97,953.74 154.99,954.28 155.01,954.93 155.02,955.67 155.04,956.17 155.06,956.91 155.07,957.31 155.08,957.91 155.1,958.64 155.11,959.3 155.12,959.8 155.14,960.51 155.15,961.15 155.16,961.77 155.17,962.29 155.18,962.9 155.19,963.38 155.2,964.13 155.21,964.76 155.22,965.46 155.23,965.86 155.25,966.5 155.26,967.09 155.27,967.85 155.29,968.18 155.3,968.91 155.32,969.76 155.33,970.25 155.35,970.69 155.37,971.4 155.39,972.07 155.41,972.64 155.43,973.18 155.45,973.72 155.48,974.45 155.51,974.97 155.53,975.63 155.56,976.18 155.6,976.69 155.63,977.43 155.67,977.85 155.71,978.51 155.77,979.02 155.86,979.68 155.98,980.32 156.14,980.94 156.32,981.68 156.52,982.43 156.75,983.12 156.99,983.73 157.25,984.21 157.53,984.92 157.82,985.38 158.12,985.99 158.43,986.19 158.75,986.79 159.07,986.94 159.4,987.33 159.77,987.44 160.2,987.76 160.67,987.87 161.18,987.93 161.73,988.18 162.31,988.41 162.91,988.59 163.54,988.55 164.18,988.78 164.84,988.95 165.5,989.12 166.17,989.29 166.84,989.33 167.51,989.39 168.16,989.66 168.8,989.73 169.43,989.95 170.03,989.96 170.65,990.19 171.31,990.21 172.02,990.44 172.74,990.57 173.47,990.75 174.2,990.78 174.91,990.98 175.59,991.04 176.22,991.21 176.79,991.37 177.29,991.64 177.71,991.46 178.03,991.55 178.24,991.5 178.39,991.43 178.52,991.04 178.63,990.58 178.71,989.9 178.79,989.33 178.86,988.45 178.92,987.35 178.98,986.66 179.05,985.79 179.13,984.81 179.22,984.19 179.32,983.6 179.45,983.08 179.6,982.82 179.8,982.5 180.14,982.6 180.62,982.51 181.22,982.4 181.89,982.29 182.61,982.25 183.35,982.15 184.06,982.21 184.73,982.08 185.35,982.1 186,981.77 186.68,981.76 187.32,981.44 187.9,981.36 188.37,981.22 188.71,981.39 189,981.57 189.25,982.02 189.47,982.63 189.67,983.14 189.85,983.9 190.02,984.7 190.19,985.41 190.37,986.13 190.56,986.93 190.77,987.59 191.01,988.15 191.29,988.56 191.62,988.71 192.06,989.06 192.58,989.37 193.19,989.48 193.86,989.79 194.57,989.93 195.33,990.21 196.09,990.54 196.87,990.61 197.63,990.7 198.37,990.96 199.07,991.1 199.71,991.29 200.29,991.2 200.78,991.32 201.17,991.45 201.45,991.36 201.6,991.59 201.69,991.32 201.78,991.37 201.86,991.23 201.94,991.19 202.01,991.16 202.09,990.98 202.16,990.8 202.22,990.55 202.28,990.09 202.34,989.99 202.4,989.51 202.46,989.29 202.51,988.94 202.56,988.55 202.6,988.23 202.65,987.7 202.69,987.45 202.73,986.89 202.77,986.45 202.81,985.9 202.84,985.38 202.87,984.76 202.91,984.35 202.94,983.53 202.96,983.05 202.99,982.4 203.02,981.75 203.04,981.14 203.06,980.4 203.09,979.85 203.11,979.16 203.13,978.4 203.15,977.75 203.17,976.88 203.19,976.09 203.21,975.45 203.22,974.73 203.24,974.19 203.26,973.21 203.28,972.54 203.29,971.74 203.31,971.06 203.33,970.11 203.35,969.36 203.37,968.5 203.39,967.65 203.41,966.84 203.43,966.05 203.45,965.43 203.47,964.53 203.49,963.7 203.52,962.91 203.54,962.06 203.57,961.31 203.6,960.51 203.63,959.78 203.66,959.02 203.69,958.03 203.73,957.41 203.76,956.73 203.8,955.78 203.84,955.09 203.88,954.37 203.93,953.71 203.97,952.95 204.02,952.17 204.07,951.52 204.13,950.87 204.18,950.14 204.24,949.59 204.31,948.82 204.37,948.06 204.44,947.46 204.51,946.9 204.58,946.3 204.67,945.78 204.76,945.16 204.88,944.66 205,943.96 205.15,943.38 205.3,942.56 205.47,941.95 205.65,941.4 205.85,940.72 206.05,940.13 206.27,939.48 206.5,938.81 206.74,938.4 206.99,937.79 207.24,937.02 207.51,936.57 207.78,936.12 208.06,935.71 208.35,935.21 208.64,934.71 208.94,934.52 209.27,934.09 209.64,933.86 210.05,933.45 210.49,933.17 210.96,932.82 211.47,932.5 212,932.07 212.55,931.89 213.13,931.52 213.72,931.12 214.32,930.92 214.94,930.66 215.57,930.48 216.2,930.28 216.83,929.92 217.46,929.88 218.09,929.65 218.71,929.42 219.32,929.45 219.92,929.22 220.51,929.12 221.08,929.22 221.65,929.17 222.23,928.99 222.81,929.08 223.39,929.03 223.97,928.86 224.55,929.01 225.13,928.8 225.72,928.78 226.3,928.52 226.89,928.72 227.48,928.58 228.07,928.63 228.66,928.42 229.26,928.61 229.85,928.6 230.45,928.6 231.05,928.18 231.65,928.44 232.25,928.39 232.85,928.09 233.46,928.25 234.07,928.28 234.68,928.37 235.29,928.17 235.9,928.23 236.52,928.2 237.13,928.21 237.75,928.14 238.37,928.23 238.99,928.22 239.62,928.02 240.24,928.21 240.87,928.06 241.5,928.09 242.13,928.2 242.76,928.11 243.4,928.15" fill="none" stroke="#e3004f" stroke-width="1.3" stroke-linejoin="round"/>
<polyline points="248.4,928.17 249.23,928.15 250.05,928.07 250.88,928.04 251.71,928.18 252.53,928.2 253.33,928.18 254.12,928.16 254.89,928.26 255.64,928.21 256.37,928.13 257.06,928.29 257.72,928.34 258.34,928.39 258.92,928.3 259.45,928.34 259.93,928.47 260.37,928.45 260.74,928.52 261.06,928.64 261.31,928.64 261.49,928.81 261.61,928.73 261.69,928.93 261.76,929.03 261.83,929.36 261.89,929.43 261.94,929.74 261.99,930.22 262.04,930.5 262.08,930.97 262.12,931.53 262.16,932.09 262.19,932.53 262.22,933.28 262.25,933.88 262.28,934.58 262.3,935.29 262.33,935.98 262.35,936.82 262.38,937.53 262.4,938.24 262.42,939.04 262.45,939.89 262.47,940.66 262.5,941.48 262.53,942.15 262.56,942.95 262.6,943.87 262.64,944.47 262.68,945.35 262.72,946.01 262.77,946.62 262.82,947.22 262.88,948.04 262.94,948.56 263.01,949.16 263.09,949.68 263.18,950.52 263.28,951.06 263.4,951.69 263.52,952.37 263.66,953.01 263.8,953.65 263.96,954.33 264.13,954.92 264.31,955.38 264.49,956.28 264.69,956.89 264.9,957.47 265.11,958.19 265.34,958.54 265.57,958.98 265.81,959.87 266.06,960.29 266.32,960.61 266.59,961.17 266.86,961.67 267.14,961.9 267.43,962.39 267.76,962.84 268.15,963.1 268.59,963.29 269.07,963.61 269.59,963.8 270.15,964.16 270.73,964.39 271.34,964.58 271.96,964.79 272.6,965.28 273.24,965.34 273.88,965.44 274.51,965.67 275.14,965.98 275.74,966.14 276.33,966.09 276.94,966.27 277.61,966.45 278.31,966.47 279.04,966.51 279.77,966.64 280.51,966.82 281.23,966.86 281.93,966.9 282.59,967.07 283.2,967.23 283.75,967.27 284.22,967.24 284.61,967.44 284.9,967.24 285.08,967.28 285.23,966.99 285.35,966.8 285.45,966.24 285.53,965.51 285.6,964.88 285.67,964.33 285.74,963.45 285.81,962.6 285.89,961.87 285.99,960.93 286.11,960.31 286.26,959.69 286.44,959.26 286.74,958.84 287.19,958.45 287.72,958.05 288.31,957.7 288.9,957.6 289.46,957.27 290.04,957.31 290.68,957.37 291.36,957.29 292.06,957.37 292.77,957.48 293.46,957.43 294.12,957.6 294.73,957.74 295.27,957.63 295.73,957.63 296.09,957.91 296.36,958.02 296.58,958.51 296.77,959.01 296.94,959.73 297.09,960.52 297.24,961.24 297.4,961.89 297.58,962.51 297.79,962.99 298.04,963.46 298.35,963.9 298.73,964.27 299.18,964.51 299.69,964.79 300.24,964.97 300.83,965.21 301.45,965.43 302.09,965.83 302.74,965.82 303.39,966.21 304.03,966.24 304.66,966.5 305.26,966.6 305.86,966.75 306.49,966.89 307.17,966.84 307.88,966.93 308.61,967.07 309.37,967.14 310.14,967.35 310.91,967.38 311.68,967.47 312.45,967.59 313.2,967.6 313.93,967.79 314.63,967.63 315.3,967.86 315.92,967.93 316.5,967.88 317.02,967.93 317.48,968.1 317.88,968.03 318.19,967.93 318.43,967.99 318.58,968.18 318.65,968.01 318.72,968.12 318.79,967.99 318.85,967.68 318.9,967.51 318.95,967.12 319,966.82 319.04,966.42 319.08,966.1 319.11,965.5 319.15,965.09 319.18,964.57 319.21,964.04 319.23,963.24 319.26,962.63 319.28,962.05 319.3,961.43 319.32,960.75 319.34,960.04 319.36,959.44 319.37,958.58 319.39,957.8 319.41,956.94 319.43,956.25 319.45,955.45 319.47,954.64 319.49,953.78 319.51,953.03 319.54,952.3 319.57,951.32 319.59,950.43 319.63,949.88 319.66,949.11 319.7,948.27 319.74,947.52 319.78,947.05 319.83,946.09 319.88,945.35 319.94,944.75 320,944.2 320.07,943.52 320.14,942.96 320.25,942.41 320.38,941.73 320.53,941.13 320.72,940.47 320.92,939.73 321.15,939.16 321.4,938.42 321.67,937.95 321.95,937.19 322.25,936.66 322.56,935.98 322.89,935.57 323.22,935.03 323.56,934.83 323.91,934.35 324.26,934.1 324.62,933.69 325.02,933.53 325.46,933.43 325.95,933.16 326.48,933.2 327.04,932.92 327.63,932.83 328.24,932.71 328.87,932.55 329.52,932.5 330.18,932.28 330.84,932.25 331.5,932.21 332.17,932.03 332.82,931.92 333.46,931.78 334.09,931.71 334.69,931.65 335.29,931.47 335.88,931.25 336.47,931.29 337.07,931.16 337.66,931.11 338.25,930.97 338.85,930.99 339.44,930.67 340.04,930.59 340.63,930.62 341.23,930.4 341.82,930.41 342.42,930.29 343.01,930.04 343.61,930.16 344.21,930.13 344.81,929.95 345.4,929.74 346,929.83 346.6,929.61 347.2,929.61 347.8,929.57 348.4,929.41 349,929.26 349.6,929.32 350.2,929.26 350.8,929.13" fill="none" stroke="#1fa8e0" stroke-width="1.3" stroke-linejoin="round"/>
<polyline points="356.1,930.64 356.93,930.76 357.76,930.69 358.59,930.66 359.42,930.65 360.24,930.71 361.04,930.7 361.83,930.68 362.6,930.59 363.34,930.67 364.05,930.65 364.73,930.7 365.37,930.79 365.96,930.77 366.5,930.75 367,930.71 367.44,930.67 367.81,930.72 368.12,930.66 368.36,930.67 368.53,930.63 368.62,930.7 368.68,930.75 368.74,931.02 368.8,931.11 368.85,931.29 368.9,931.69 368.94,931.96 368.99,932.49 369.03,932.94 369.06,933.62 369.1,933.86 369.13,934.54 369.16,935.16 369.19,935.86 369.21,936.58 369.24,937.16 369.26,937.92 369.28,938.76 369.31,939.58 369.33,940.21 369.35,940.97 369.37,941.98 369.39,942.76 369.42,943.58 369.44,944.21 369.46,945.06 369.49,945.87 369.51,946.65 369.54,947.35 369.57,948.08 369.6,948.87 369.64,949.43 369.67,950.06 369.71,950.68 369.75,951.27 369.79,951.92 369.83,952.5 369.87,953.08 369.91,953.83 369.95,954.35 369.99,954.9 370.03,955.63 370.07,956.09 370.11,956.74 370.15,957.33 370.19,957.9 370.23,958.52 370.27,959.16 370.32,959.64 370.36,960.33 370.41,960.98 370.46,961.58 370.51,962.18 370.56,962.94 370.62,963.41 370.67,963.95 370.73,964.55 370.79,965.16 370.85,965.79 370.91,966.33 370.98,967.06 371.05,967.46 371.12,968.18 371.19,968.77 371.27,969.24 371.35,969.98 371.44,970.6 371.53,971.13 371.63,971.98 371.73,972.5 371.85,973.05 371.96,973.68 372.09,974.29 372.22,974.99 372.36,975.6 372.5,976.1 372.66,976.73 372.82,977.34 372.99,977.94 373.17,978.5 373.36,979.02 373.56,979.64 373.76,980.16 373.98,980.57 374.21,980.85 374.48,981.44 374.81,981.93 375.21,982.31 375.65,982.76 376.13,983.16 376.65,983.43 377.19,983.73 377.75,984.32 378.32,984.56 378.89,984.93 379.46,985.14 380.01,985.38 380.55,985.69 381.09,985.68 381.65,985.95 382.23,986.05 382.81,986.31 383.41,986.51 384.01,986.68 384.62,986.79 385.23,986.82 385.84,987.08 386.45,987.25 387.07,987.36 387.67,987.54 388.28,987.5 388.87,987.44 389.46,987.52 390.04,987.6 390.6,987.67 391.15,987.35 391.68,987.2 392.21,986.8 392.74,986.32 393.28,986.19 393.85,985.99 394.43,985.98 395.02,985.89 395.62,985.87 396.23,985.7 396.84,985.78 397.46,985.53 398.08,985.62 398.7,985.57 399.32,985.7 399.94,985.59 400.54,985.5 401.14,985.45 401.73,985.51 402.31,985.45 402.88,985.68 403.42,985.46 403.96,985.98 404.48,986.18 405,986.86 405.53,987.11 406.06,987.58 406.6,987.55 407.18,987.67 407.8,987.59 408.47,987.63 409.18,987.49 409.91,987.2 410.67,987.3 411.44,987.15 412.22,987.24 412.99,987.1 413.76,986.95 414.51,986.85 415.23,986.7 415.93,986.49 416.58,986.53 417.19,986.25 417.74,986.05 418.24,985.78 418.66,985.67 419,985.53 419.27,985.33 419.43,985.12 419.5,984.96 419.54,984.66 419.56,984.47 419.59,984.03 419.61,983.72 419.63,983.33 419.65,983.01 419.67,982.5 419.69,981.95 419.7,981.31 419.72,980.8 419.73,980.28 419.74,979.69 419.75,978.84 419.76,978.25 419.77,977.6 419.78,976.92 419.79,976.18 419.8,975.51 419.81,974.62 419.82,974.11 419.83,973.17 419.84,972.52 419.85,971.82 419.86,971.13 419.87,970.39 419.89,969.67 419.9,968.99 419.92,968.19 419.94,967.59 419.96,966.99 419.98,966.18 420,965.52 420.03,964.95 420.06,964.53 420.09,963.92 420.12,963.19 420.15,962.63 420.19,962.05 420.22,961.48 420.26,960.66 420.3,960.15 420.35,959.57 420.39,959 420.44,958.38 420.49,957.74 420.54,957.19 420.59,956.36 420.65,956.19 420.71,955.41 420.77,954.81 420.83,954.09 420.89,953.57 420.96,953.1 421.03,952.48 421.1,951.75 421.17,951.05 421.25,950.56 421.32,949.93 421.4,949.42 421.48,948.66 421.57,948.16 421.66,947.6 421.74,946.96 421.84,946.49 421.93,945.74 422.03,945.15 422.13,944.63 422.25,944.13 422.39,943.46 422.54,942.84 422.7,942.35 422.87,941.71 423.05,941.06 423.24,940.52 423.45,939.91 423.66,939.39 423.88,938.78 424.12,938.13 424.36,937.59 424.61,937.04 424.86,936.55 425.12,936.02 425.39,935.4 425.67,934.94 425.95,934.48 426.24,934.05 426.56,933.48 426.91,933.09 427.28,932.42 427.68,931.96 428.1,931.37 428.54,930.84 429,930.48 429.46,930.1 429.94,929.73 430.43,929.41 430.92,929.14 431.41,928.93 431.93,928.81 432.47,928.72 433.03,928.6 433.61,928.14 434.21,928.3 434.82,928.22 435.43,928.12 436.06,927.95 436.68,927.88 437.31,927.72 437.94,927.69 438.56,927.69 439.18,927.53 439.79,927.54 440.39,927.61 440.98,927.5 441.58,927.6 442.18,927.49 442.78,927.62 443.37,927.61 443.97,927.57 444.57,927.55 445.17,927.6 445.77,927.48 446.37,927.64 446.97,927.7 447.57,927.81 448.17,927.71 448.77,927.77 449.37,927.93 449.97,928 450.57,927.88 451.17,928.05 451.77,928.12 452.37,928.14 452.97,928.1 453.57,928.18 454.18,928.39 454.78,928.62 455.38,928.53 455.98,928.78 456.59,928.92 457.19,928.81 457.8,929 458.4,929.31" fill="none" stroke="#6e62b3" stroke-width="1.3" stroke-linejoin="round"/>
<polyline points="464.3,928.17 465.19,928.14 466.08,928.1 466.96,928.15 467.82,928.06 468.67,928.31 469.51,928.04 470.34,928 471.15,928.16 471.94,928.27 472.71,928.13 473.46,928.18 474.19,928.12 474.89,928.21 475.57,928.16 476.22,928.18 476.85,928.17 477.44,928.26 478.01,928.47 478.54,928.35 479.04,928.4 479.51,928.59 479.93,928.4 480.32,928.4 480.68,928.55 480.99,928.45 481.26,928.61 481.48,928.71 481.66,928.57 481.8,928.66 481.9,928.92 481.99,928.89 482.07,929.2 482.15,929.63 482.21,930.02 482.27,930.49 482.32,931.24 482.36,931.7 482.4,932.44 482.44,933.09 482.48,933.84 482.51,934.52 482.55,935.48 482.58,936.17 482.62,937.1 482.67,937.7 482.71,938.54 482.76,939.38 482.82,940.09 482.89,940.73 482.97,941.44 483.05,941.97 483.15,942.63 483.26,942.93 483.4,943.59 483.64,944.13 483.96,944.55 484.37,944.99 484.84,945.33 485.36,945.82 485.93,946.15 486.51,946.54 487.11,946.88 487.72,946.92 488.3,947.5 488.87,947.66 489.4,947.84 489.94,947.84 490.48,948.1 491.04,948.2 491.61,948.11 492.18,948.25 492.77,948.49 493.36,948.54 493.95,948.68 494.56,948.72 495.16,948.96 495.77,948.78 496.39,948.89 497.01,948.99 497.62,949.03 498.25,949.16 498.87,949.26 499.49,949.22 500.11,949.41 500.73,949.54 501.34,949.57 501.96,949.7 502.57,949.69 503.18,949.65 503.78,949.84 504.39,949.81 505.02,949.96 505.68,949.85 506.35,949.76 507.03,949.89 507.73,950.04 508.45,950.13 509.17,950.12 509.91,950.27 510.66,950.16 511.41,950.25 512.17,950.43 512.94,950.41 513.71,950.46 514.48,950.62 515.26,950.64 516.03,950.55 516.8,950.67 517.57,950.57 518.34,950.75 519.1,950.83 519.85,950.71 520.59,951.01 521.33,951.09 522.05,951.01 522.76,951.09 523.46,951.17 524.14,951.08 524.8,951.21 525.45,951.2 526.07,951.08 526.68,951.16 527.26,951.22 527.83,951.38 528.36,951.33 528.87,951.42 529.35,951.34 529.8,951.3 530.23,951.57 530.62,951.64 530.97,951.48 531.3,951.45 531.58,951.57 531.83,951.4 532.05,951.48 532.22,951.39 532.35,951.54 532.44,951.51 532.52,951.37 532.59,951.17 532.65,950.83 532.71,950.54 532.76,950.28 532.81,949.67 532.85,949.24 532.89,948.47 532.93,947.88 532.96,947.15 532.99,946.43 533.02,945.74 533.05,944.73 533.08,944.13 533.11,943.3 533.14,942.41 533.16,941.58 533.2,940.72 533.23,939.96 533.26,939.1 533.3,938.24 533.34,937.55 533.39,936.88 533.44,936.14 533.49,935.47 533.56,934.88 533.62,934.28 533.7,933.81 533.78,933.29 533.87,933.08 533.99,932.89 534.2,932.52 534.49,932.22 534.86,932.1 535.31,931.79 535.82,931.55 536.38,931.34 536.99,931.13 537.65,930.86 538.33,930.6 539.04,930.61 539.76,930.3 540.49,930.08 541.22,930 541.95,929.95 542.66,929.63 543.34,929.74 544,929.56 544.61,929.66 545.2,929.51 545.79,929.41 546.37,929.47 546.96,929.43 547.55,929.27 548.15,929.27 548.74,929.18 549.33,929.25 549.92,929.04 550.52,929.1 551.11,928.92 551.71,929.09 552.31,928.85 552.91,928.91 553.51,928.98 554.11,928.91 554.71,928.88 555.31,928.81 555.91,928.83 556.52,928.71 557.12,928.85 557.73,928.87 558.34,928.85 558.95,928.77 559.56,928.85 560.17,928.78 560.78,928.81 561.39,928.76 562.01,928.72 562.62,928.65 563.24,928.51 563.86,928.75 564.48,928.69 565.1,928.85" fill="none" stroke="#6e62b3" stroke-width="1.3" stroke-linejoin="round"/>
<polyline points="571.6,927.85 572.42,928.06 573.24,927.93 574.07,928 574.9,927.93 575.72,928.03 576.54,928 577.36,928.07 578.17,928.01 578.96,928.04 579.75,928.1 580.52,928.04 581.28,927.99 582.01,928.09 582.73,927.99 583.42,928.03 584.09,927.98 584.74,927.95 585.35,927.77 585.93,928.05 586.48,927.91 587,928.06 587.47,928.14 587.91,927.9 588.31,928.07 588.66,927.99 588.97,928.04 589.23,927.91 589.44,928 589.59,928.01 589.7,928.11 589.77,928.19 589.84,928.12 589.9,928.18 589.97,928.53 590.03,928.56 590.08,928.81 590.14,929.1 590.19,929.45 590.24,929.83 590.28,930.12 590.33,930.58 590.37,931.19 590.41,931.66 590.45,932.09 590.49,932.63 590.52,933.16 590.56,933.86 590.59,934.36 590.62,935.06 590.65,935.68 590.67,936.35 590.7,937.11 590.73,937.82 590.75,938.51 590.78,939.3 590.8,940.07 590.83,940.8 590.85,941.56 590.87,942.39 590.9,943.24 590.92,944.07 590.94,944.8 590.97,945.57 590.99,946.39 591.01,947.34 591.04,948.06 591.06,948.71 591.09,949.57 591.12,950.31 591.15,951.1 591.18,951.76 591.21,952.64 591.24,953.27 591.27,954.05 591.31,954.92 591.34,955.57 591.38,956.1 591.42,956.74 591.47,957.38 591.51,957.91 591.56,958.58 591.6,959.24 591.64,959.79 591.69,960.53 591.73,961.07 591.77,961.64 591.82,962.42 591.86,962.95 591.9,963.51 591.94,964.26 591.99,964.82 592.03,965.28 592.08,965.96 592.13,966.51 592.17,967.05 592.22,967.91 592.28,968.48 592.33,968.88 592.38,969.62 592.44,970.06 592.5,970.87 592.56,971.38 592.62,971.96 592.69,972.68 592.75,973.18 592.82,973.75 592.9,974.44 592.97,974.93 593.05,975.61 593.14,976.13 593.22,976.78 593.32,977.34 593.41,977.93 593.51,978.37 593.62,979.17 593.75,979.62 593.9,980.38 594.06,980.82 594.25,981.47 594.44,982.1 594.66,982.83 594.89,983.33 595.13,984.01 595.38,984.45 595.65,985.12 595.93,985.73 596.21,986.25 596.51,986.63 596.82,987.29 597.13,987.63 597.45,988.26 597.78,988.47 598.13,988.99 598.57,989.2 599.07,989.52 599.65,989.79 600.27,990.15 600.94,990.52 601.63,990.65 602.35,991.18 603.07,991.3 603.79,991.65 604.49,991.71 605.17,992.19 605.81,992.43 606.4,992.58 606.93,992.74 607.38,992.81 607.76,992.94 608.03,993.08 608.21,992.97 608.32,992.95 608.42,992.73 608.51,992.29 608.58,991.84 608.65,991.25 608.7,990.52 608.75,990 608.8,988.98 608.84,988.31 608.88,987.39 608.92,986.28 608.96,985.59 609,984.81 609.05,983.99 609.11,983.11 609.17,982.52 609.25,981.81 609.33,981.32 609.43,981 609.54,980.79 609.68,980.77 609.93,980.57 610.3,980.53 610.75,980.26 611.29,980.18 611.9,980.15 612.56,980.25 613.27,979.94 614.01,979.86 614.76,979.93 615.52,979.98 616.26,979.73 616.98,979.81 617.67,979.7 618.3,979.91 618.9,979.86 619.51,979.87 620.12,979.9 620.75,979.96 621.37,980.09 621.99,980.14 622.61,980.26 623.23,980.39 623.83,980.64 624.43,980.75 625.01,981.06 625.57,981.01 626.11,981.42 626.64,981.61 627.13,981.87 627.6,981.98 628.05,982.16 628.49,982.55 628.9,983.09 629.3,983.4 629.69,983.85 630.07,984.32 630.45,984.87 630.82,985.38 631.18,985.81 631.55,986.43 631.92,987.09 632.3,987.65 632.68,988.05 633.08,988.51 633.48,989.13 633.9,989.45 634.34,989.78 634.81,990.23 635.35,990.69 635.94,991.16 636.58,991.42 637.25,991.92 637.92,992.26 638.59,992.77 639.23,993.08 639.84,993.42 640.4,993.63 640.88,993.94 641.28,994.14 641.58,994.03 641.76,994.46 641.82,994.4 641.87,994.35 641.91,994.28 641.95,994.22 641.99,994.12 642.03,993.85 642.06,993.79 642.1,993.59 642.13,993.36 642.16,992.99 642.19,992.81 642.22,992.42 642.24,992.22 642.27,991.95 642.29,991.54 642.31,991.05 642.33,990.62 642.35,990.18 642.37,989.8 642.39,989.24 642.41,988.76 642.42,988.09 642.44,987.68 642.45,987.14 642.47,986.59 642.48,986.14 642.49,985.34 642.5,984.73 642.51,984.25 642.52,983.49 642.53,982.89 642.54,982.25 642.55,981.56 642.56,980.8 642.56,980.23 642.57,979.56 642.58,978.64 642.58,977.96 642.59,977.31 642.6,976.47 642.6,975.65 642.61,974.93 642.62,974.26 642.62,973.34 642.63,972.65 642.64,971.88 642.64,971 642.65,970.3 642.66,969.51 642.66,968.74 642.67,967.93 642.68,966.94 642.69,966.32 642.7,965.5 642.71,964.72 642.72,963.78 642.73,963.12 642.74,962.28 642.76,961.37 642.77,960.76 642.78,959.82 642.8,959.02 642.81,958.35 642.83,957.5 642.85,956.82 642.87,956.01 642.89,955.3 642.91,954.6 642.93,953.81 642.96,953.15 642.98,952.44 643.01,951.61 643.04,951.05 643.07,950.35 643.1,949.65 643.13,949.07 643.17,948.47 643.2,947.77 643.24,946.99 643.28,946.54 643.32,945.91 643.39,945.31 643.47,944.74 643.58,944.07 643.7,943.59 643.85,942.85 644.01,942.19 644.18,941.61 644.38,940.98 644.59,940.38 644.81,939.71 645.04,939.05 645.29,938.47 645.54,937.72 645.81,937.21 646.08,936.88 646.36,936.26 646.65,935.95 646.94,935.5 647.24,934.85 647.54,934.6 647.85,934.45 648.21,933.83 648.6,933.58 649.03,933.2 649.49,932.87 649.99,932.55 650.51,932.26 651.05,932.02 651.62,931.61 652.21,931.43 652.8,931.06 653.42,930.9 654.04,930.64 654.67,930.32 655.3,930.18 655.93,929.91 656.56,929.72 657.19,929.71 657.8,929.34 658.41,929.4 659,929.3 659.57,929.12 660.15,929.16 660.72,929.07 661.3,928.82 661.89,928.89 662.47,928.81 663.06,928.65 663.65,928.68 664.24,928.63 664.83,928.45 665.43,928.29 666.02,928.42 666.62,928.28 667.23,928.15 667.83,928.21 668.44,928.01 669.05,928.13 669.66,928.24 670.27,927.87 670.89,928.1 671.51,927.97 672.13,927.99 672.75,927.94 673.37,928.05 674,928" fill="none" stroke="#5f55b8" stroke-width="1.3" stroke-linejoin="round"/>
<polyline points="679.2,928.64 679.79,928.4 680.39,928.29 680.98,928.24 681.57,927.9 682.17,927.88 682.76,927.74 683.35,927.44 683.95,927.58 684.54,927.39 685.13,927.48 685.73,927.37 686.32,927.15 686.91,927.11 687.51,927 688.1,926.94 688.7,927.08 689.29,926.99 689.88,926.97 690.51,927 691.2,927.09 691.94,927.16 692.71,927.15 693.48,927.22 694.22,927.33 694.92,927.59 695.54,927.38 696.06,927.58 696.47,927.83 696.72,927.93 696.82,928.15 696.88,928.3 696.94,928.53 697,928.5 697.06,928.83 697.11,929.01 697.17,929.36 697.22,929.58 697.27,929.94 697.32,930.13 697.37,930.55 697.41,930.86 697.46,931.26 697.5,931.64 697.55,932.01 697.59,932.61 697.63,933 697.66,933.53 697.7,933.85 697.74,934.27 697.77,934.89 697.81,935.45 697.84,936.07 697.87,936.65 697.9,937.23 697.93,937.84 697.96,938.37 697.99,938.93 698.02,939.48 698.04,940.22 698.07,940.77 698.09,941.39 698.12,942.16 698.14,942.8 698.16,943.53 698.18,944.09 698.2,944.93 698.22,945.57 698.24,946.24 698.26,946.9 698.28,947.6 698.29,948.3 698.31,949.25 698.33,949.77 698.34,950.67 698.36,951.34 698.37,952.06 698.39,952.82 698.4,953.6 698.42,954.44 698.43,955.16 698.44,955.88 698.46,956.53 698.47,957.25 698.48,958.3 698.49,958.83 698.51,959.54 698.52,960.5 698.53,961.05 698.54,961.97 698.55,962.73 698.57,963.42 698.58,964.22 698.59,964.77 698.6,965.51 698.61,966.31 698.63,967.04 698.64,967.75 698.65,968.5 698.66,969.1 698.68,969.68 698.69,970.56 698.7,971.19 698.72,971.93 698.73,972.69 698.74,973.18 698.76,973.85 698.77,974.36 698.79,975.12 698.81,975.67 698.82,976.27 698.84,976.92 698.85,977.36 698.87,978.1 698.88,978.69 698.9,979.38 698.91,979.71 698.92,980.45 698.94,981.23 698.95,981.63 698.96,982.23 698.97,983.01 698.99,983.67 699,984.09 699.01,984.62 699.02,985.24 699.03,985.86 699.04,986.43 699.05,987.03 699.06,987.71 699.07,988.31 699.08,988.95 699.09,989.52 699.1,990.02 699.11,990.78 699.12,991.35 699.13,991.89 699.13,992.52 699.14,993.17 699.15,993.76 699.16,994.35 699.17,995.02 699.17,995.65 699.18,996.15 699.19,996.78 699.2,997.3 699.2,997.98 699.21,998.63 699.22,999.27 699.22,999.82 699.23,1000.41 699.24,1000.96 699.24,1001.64 699.25,1002.15 699.26,1002.85 699.26,1003.45 699.27,1003.98 699.27,1004.68 699.28,1005.25 699.29,1005.92 699.29,1006.44 699.3,1007.12 699.3,1007.81 699.31,1008.31 699.32,1008.96 699.32,1009.45 699.33,1010.08 699.33,1010.57 699.34,1011.31 699.35,1011.84 699.35,1012.54 699.36,1012.97 699.36,1013.67 699.37,1014.35 699.38,1014.98 699.38,1015.43 699.39,1016.13 699.4,1016.97 699.4,1017.43 699.41,1017.99 699.42,1018.36 699.42,1019.11 699.43,1019.83 699.44,1020.41 699.44,1021.03 699.45,1021.67 699.46,1022.21 699.47,1022.87 699.48,1023.26 699.48,1024.2 699.49,1024.59 699.5,1025.16 699.51,1025.93 699.52,1026.46 699.53,1027.09 699.54,1027.57 699.55,1028.24 699.56,1028.87 699.57,1029.33 699.58,1030 699.59,1030.6 699.6,1031.2 699.61,1031.76 699.62,1032.32 699.63,1033.05 699.64,1033.63 699.66,1034.3 699.67,1034.81 699.68,1035.36 699.7,1035.89 699.71,1036.61 699.72,1037.18 699.74,1037.96 699.75,1038.57 699.77,1039.11 699.78,1039.51 699.8,1040.07 699.81,1040.76 699.83,1041.3 699.85,1042.07 699.86,1042.57 699.88,1043.12 699.9,1043.74 699.92,1044.43 699.94,1044.85 699.95,1045.56 699.97,1046.01 699.99,1046.69 700.01,1047.24 700.04,1047.91 700.06,1048.48 700.08,1049.16 700.1,1049.7 700.12,1050.19 700.15,1050.72 700.17,1051.35 700.2,1051.97 700.22,1052.57 700.25,1053.12 700.27,1053.84 700.3,1054.42 700.33,1054.91 700.38,1055.49 700.44,1056.11 700.52,1056.74 700.61,1057.35 700.72,1057.84 700.84,1058.55 700.97,1059.05 701.11,1059.82 701.27,1060.49 701.43,1060.96 701.61,1061.67 701.79,1062.22 701.99,1062.81 702.19,1063.61 702.4,1064.11 702.62,1064.66 702.85,1065.15 703.08,1065.78 703.32,1066.27 703.56,1066.85 703.81,1067.26 704.06,1067.83 704.32,1068.29 704.58,1068.68 704.84,1069.37 705.15,1069.75 705.5,1070.07 705.88,1070.47 706.3,1070.96 706.75,1071.39 707.22,1071.83 707.71,1072.17 708.22,1072.62 708.74,1073.07 709.27,1073.46 709.81,1073.61 710.35,1074.08 710.89,1074.3 711.43,1074.56 711.95,1074.85 712.5,1075.03 713.1,1075.32 713.75,1075.48 714.43,1075.54 715.14,1075.64 715.85,1075.96 716.56,1076.08 717.26,1076.07 717.93,1076.15 718.56,1076.37 719.13,1076.54 719.65,1076.54 720.09,1076.9 720.44,1076.94 720.69,1077.27 720.87,1077.47 721.04,1078 721.21,1078.58 721.36,1079.34 721.51,1080.2 721.64,1080.87 721.76,1081.75 721.87,1082.61 721.96,1083.26 722.04,1084.1 722.11,1084.34 722.16,1085.02 722.19,1084.94 722.21,1085.07 722.24,1085.09 722.26,1084.95 722.27,1084.72 722.29,1084.71 722.31,1084.61 722.33,1084.51 722.34,1084.37 722.36,1084.19 722.37,1084.01 722.39,1083.59 722.4,1083.49 722.42,1083 722.43,1082.85 722.44,1082.44 722.45,1082.05 722.46,1081.92 722.47,1081.47 722.48,1081.17 722.49,1080.56 722.5,1080.17 722.51,1079.82 722.52,1079.32 722.53,1078.9 722.53,1078.36 722.54,1077.88 722.55,1077.3 722.55,1076.96 722.56,1076.29 722.56,1075.66 722.57,1075.24 722.58,1074.63 722.58,1074.01 722.58,1073.4 722.59,1072.73 722.59,1072.12 722.6,1071.31 722.6,1070.7 722.6,1070.06 722.61,1069.51 722.61,1068.9 722.61,1068.09 722.62,1067.38 722.62,1066.78 722.62,1065.94 722.62,1065.29 722.63,1064.54 722.63,1063.66 722.63,1063.04 722.64,1062.28 722.64,1061.41 722.64,1060.65 722.64,1059.86 722.65,1059.29 722.65,1058.57 722.65,1057.68 722.65,1056.96 722.66,1055.94 722.66,1055.36 722.66,1054.61 722.67,1053.79 722.67,1052.78 722.67,1052.14 722.68,1051.25 722.68,1050.54 722.69,1049.6 722.69,1048.85 722.7,1048.01 722.7,1047.29 722.71,1046.45 722.71,1045.75 722.72,1044.93 722.73,1044.11 722.74,1043.28 722.74,1042.48 722.75,1041.72 722.76,1041 722.77,1040.18 722.78,1039.43 722.79,1038.64 722.8,1037.88 722.81,1037.08 722.82,1036.24 722.83,1035.7 722.84,1034.97 722.85,1034.12 722.87,1033.64 722.88,1032.69 722.9,1032.16 722.91,1031.41 722.93,1030.74 722.94,1030.14 722.96,1029.46 722.98,1028.74 723,1028.02 723.02,1027.38 723.04,1026.88 723.06,1026.39 723.08,1025.74 723.1,1025.09 723.15,1024.54 723.23,1023.98 723.36,1023.45 723.52,1022.64 723.72,1022.15 723.94,1021.5 724.19,1020.81 724.46,1020.2 724.75,1019.8 725.05,1019.17 725.37,1018.6 725.69,1018.12 726.01,1017.73 726.33,1017.23 726.65,1016.97 727.02,1016.45 727.46,1016.03 727.95,1015.71 728.49,1015.27 729.09,1014.95 729.72,1014.71 730.38,1014.38 731.07,1013.94 731.77,1013.56 732.49,1013.14 733.21,1012.8 733.92,1012.6 734.63,1012.29 735.32,1011.95 735.98,1011.71 736.61,1011.63 737.21,1011.36 737.75,1011.09 738.25,1010.94 738.69,1010.88 739.05,1010.69 739.35,1010.59 739.57,1010.4 739.69,1010.37 739.76,1010.36 739.83,1010.39 739.9,1010.66 739.96,1010.81 740.02,1010.87 740.07,1011.17 740.13,1011.39 740.18,1011.61 740.23,1011.79 740.27,1012.34 740.32,1012.68 740.36,1012.9 740.4,1013.5 740.43,1013.78 740.47,1014.17 740.5,1014.68 740.54,1015.07 740.57,1015.71 740.6,1016.16 740.62,1016.95 740.65,1017.47 740.67,1017.94 740.7,1018.73 740.72,1019.19 740.74,1019.99 740.76,1020.7 740.78,1021.35 740.8,1021.96 740.82,1022.76 740.84,1023.48 740.86,1024.24 740.88,1025.1 740.89,1025.88 740.91,1026.63 740.93,1027.23 740.95,1028 740.96,1028.85 740.98,1029.67 741,1030.27 741.02,1031.18 741.04,1032.17 741.06,1032.73 741.08,1033.57 741.1,1034.37 741.12,1035.26 741.14,1036.01 741.17,1036.78 741.19,1037.47 741.22,1038.43 741.25,1039.15 741.28,1039.87 741.31,1040.68 741.34,1041.49 741.37,1042.05 741.41,1042.78 741.45,1043.54 741.49,1044.25 741.53,1044.77 741.57,1045.65 741.62,1046.44 741.67,1046.97 741.72,1047.71 741.78,1048.01 741.83,1048.83 741.89,1049.57 741.96,1050.24 742.02,1050.74 742.09,1051.4 742.17,1052.2 742.24,1052.79 742.33,1053.58 742.41,1054.21 742.5,1055.09 742.6,1055.82 742.7,1056.69 742.8,1057.32 742.91,1057.96 743.03,1058.72 743.15,1059.32 743.28,1060.11 743.41,1060.75 743.55,1061.43 743.69,1062.09 743.84,1062.44 744,1063.17 744.16,1063.72 744.34,1064.04 744.51,1064.73 744.7,1064.91 744.89,1065.51 745.09,1065.67 745.3,1065.93 745.51,1066.06 745.76,1066.26 746.14,1066.23 746.64,1066.37 747.24,1066.4 747.93,1066.72 748.68,1066.73 749.47,1066.96 750.3,1067.05 751.13,1066.98 751.95,1067.23 752.74,1067.27 753.48,1067.33 754.15,1067.41 754.73,1067.42 755.21,1067.46 755.55,1067.57 755.76,1067.42 755.82,1067.4 755.85,1067.43 755.88,1067.54 755.91,1067.4 755.94,1067.53 755.97,1067.07 756,1067.18 756.03,1067.12 756.06,1067.08 756.09,1067.06 756.12,1066.81 756.14,1066.62 756.17,1066.62 756.2,1066.52 756.22,1066.03 756.25,1066.1 756.27,1065.89 756.3,1065.6 756.32,1065.42 756.34,1065.26 756.36,1065 756.39,1064.74 756.41,1064.41 756.43,1064.27 756.45,1063.92 756.47,1063.69 756.49,1063.35 756.51,1063.1 756.53,1062.83 756.55,1062.47 756.56,1062.17 756.58,1061.66 756.6,1061.46 756.61,1061.08 756.63,1060.64 756.65,1060.3 756.66,1059.7 756.68,1059.53 756.69,1059.08 756.71,1058.52 756.72,1058.32 756.73,1057.79 756.75,1057.42 756.76,1056.93 756.77,1056.53 756.78,1056.03 756.8,1055.53 756.81,1055.11 756.82,1054.64 756.83,1053.9 756.84,1053.58 756.85,1053.01 756.86,1052.45 756.87,1052.11 756.88,1051.55 756.89,1050.85 756.9,1050.29 756.91,1049.89 756.91,1049.21 756.92,1048.66 756.93,1047.95 756.94,1047.52 756.95,1047.03 756.95,1046.3 756.96,1045.73 756.97,1045.27 756.97,1044.58 756.98,1044 756.99,1043.31 756.99,1042.72 757,1041.85 757,1041.28 757.01,1040.56 757.01,1040.21 757.02,1039.39 757.02,1038.7 757.03,1037.98 757.03,1037.28 757.04,1036.46 757.04,1036.17 757.05,1035.3 757.05,1034.61 757.05,1033.8 757.06,1033.2 757.06,1032.52 757.07,1031.77 757.07,1031.11 757.07,1030.28 757.08,1029.64 757.08,1028.96 757.08,1028.2 757.09,1027.45 757.09,1026.67 757.09,1025.86 757.1,1025.23 757.1,1024.41 757.1,1023.61 757.1,1022.99 757.11,1022.04 757.11,1021.37 757.11,1020.71 757.12,1019.95 757.12,1019.08 757.12,1018.34 757.13,1017.61 757.13,1016.78 757.13,1015.95 757.14,1015.26 757.14,1014.46 757.14,1013.67 757.15,1012.96 757.15,1012.11 757.15,1011.26 757.16,1010.52 757.16,1009.87 757.16,1008.86 757.17,1008.1 757.17,1007.26 757.18,1006.56 757.18,1005.63 757.18,1004.97 757.19,1004.19 757.19,1003.27 757.2,1002.47 757.2,1001.61 757.21,1000.94 757.21,1000.04 757.22,999.28 757.22,998.5 757.23,997.67 757.23,996.99 757.24,996.26 757.25,995.16 757.25,994.46 757.26,993.75 757.27,992.85 757.27,992.09 757.28,991.36 757.29,990.65 757.3,989.84 757.3,988.93 757.31,988.18 757.32,987.35 757.33,986.57 757.34,985.71 757.35,984.87 757.36,984.2 757.37,983.53 757.38,982.73 757.39,981.74 757.4,981.1 757.41,980.29 757.42,979.6 757.43,978.72 757.45,978.11 757.46,977.26 757.47,976.57 757.48,975.83 757.5,974.85 757.51,974.24 757.52,973.63 757.54,972.77 757.55,972.11 757.57,971.32 757.58,970.52 757.6,969.85 757.62,969.18 757.63,968.48 757.65,967.78 757.67,966.86 757.69,966.3 757.71,965.42 757.72,964.82 757.74,964.12 757.76,963.49 757.78,962.78 757.81,962.17 757.83,961.34 757.85,960.79 757.87,960.08 757.89,959.39 757.92,958.64 757.94,958.13 757.96,957.46 757.99,956.86 758.01,956.16 758.04,955.51 758.07,954.94 758.09,954.33 758.12,953.73 758.15,953.23 758.18,952.43 758.21,952.04 758.24,951.04 758.29,950.73 758.35,949.95 758.42,949.52 758.5,948.63 758.59,948.11 758.69,947.27 758.8,946.58 758.91,946.05 759.04,945.38 759.17,944.59 759.31,944.17 759.46,943.3 759.62,942.81 759.79,941.98 759.96,941.39 760.13,940.89 760.32,940.24 760.51,939.83 760.7,939.12 760.9,938.84 761.11,938.35 761.31,937.93 761.53,937.67 761.75,937.32 761.98,937.01 762.25,936.81 762.54,936.48 762.86,936.19 763.2,935.98 763.56,935.59 763.95,935.38 764.37,935.01 764.8,934.82 765.26,934.55 765.74,934.2 766.24,933.87 766.76,933.64 767.3,933.43 767.87,933.32 768.44,933.04 769.04,932.82 769.66,932.67 770.29,932.5 770.94,932.37 771.6,932.03 772.28,931.96 772.98,931.82 773.68,931.55 774.41,931.51 775.14,931.31 775.89,931.27 776.65,931.24 777.42,930.99 778.2,931 778.99,930.97 779.79,931.02 780.6,930.94" fill="none" stroke="#2d2a8e" stroke-width="1.3" stroke-linejoin="round"/>
<text x="35.2" y="1067.4" font-size="16" text-anchor="start" fill="#000">100 nA</text>
<line x1="88.1" y1="1055.8" x2="88.1" y2="1070" stroke="#000" stroke-width="1.6"/>
<line x1="94" y1="1076.6" x2="111" y2="1076.6" stroke="#000" stroke-width="1.8"/>
<text x="88.1" y="1092.6" font-size="16" text-anchor="start" fill="#000" textLength="29.2" lengthAdjust="spacingAndGlyphs">20 s</text>
<line x1="186.5" y1="1076.6" x2="198" y2="1076.6" stroke="#000" stroke-width="1.8"/>
<text x="177.6" y="1092.6" font-size="16" text-anchor="start" fill="#000" textLength="29.9" lengthAdjust="spacingAndGlyphs">20 s</text>
<line x1="294.3" y1="1076.6" x2="305.7" y2="1076.6" stroke="#000" stroke-width="1.8"/>
<text x="284.8" y="1092.6" font-size="16" text-anchor="start" fill="#000" textLength="30.5" lengthAdjust="spacingAndGlyphs">20 s</text>
<line x1="401.8" y1="1076.6" x2="413.3" y2="1076.6" stroke="#000" stroke-width="1.8"/>
<text x="392.7" y="1092.6" font-size="16" text-anchor="start" fill="#000" textLength="29.3" lengthAdjust="spacingAndGlyphs">20 s</text>
<line x1="505.9" y1="1076.6" x2="523.8" y2="1076.6" stroke="#000" stroke-width="1.8"/>
<text x="500.2" y="1092.6" font-size="16" text-anchor="start" fill="#000" textLength="29.8" lengthAdjust="spacingAndGlyphs">20 s</text>
<line x1="614" y1="1076.6" x2="630.7" y2="1076.6" stroke="#000" stroke-width="1.8"/>
<text x="608.2" y="1092.6" font-size="16" text-anchor="start" fill="#000" textLength="28.3" lengthAdjust="spacingAndGlyphs">20 s</text>
<line x1="740.6" y1="1076.6" x2="757.3" y2="1076.6" stroke="#000" stroke-width="1.8"/>
<text x="733.9" y="1092.6" font-size="16" text-anchor="start" fill="#000" textLength="29.3" lengthAdjust="spacingAndGlyphs">20 s</text>
</svg></body></html>
